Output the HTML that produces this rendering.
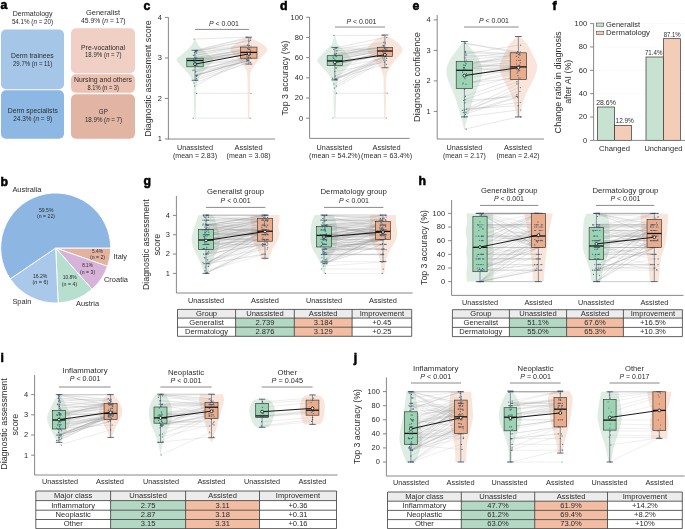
<!DOCTYPE html>
<html><head><meta charset="utf-8"><style>
html,body{margin:0;padding:0;background:#fff;width:685px;height:529px;overflow:hidden}
svg{display:block;will-change:transform}
text{font-family:"Liberation Sans",sans-serif}
</style></head><body>
<svg width="685" height="529" viewBox="0 0 685 529">
<text x="0.50" y="9.20" font-size="12.30" text-anchor="start" fill="#000" font-weight="bold" stroke="#000" stroke-width="0.55">a</text>
<text x="32.60" y="15.80" font-size="6.50" text-anchor="middle" fill="#2b2b2b" textLength="39.80" lengthAdjust="spacingAndGlyphs">Dermatology</text>
<text x="32.50" y="23.50" font-size="6.50" text-anchor="middle" fill="#2b2b2b" textLength="41.20" lengthAdjust="spacingAndGlyphs">54.1% (<tspan font-style="italic">n</tspan> = 20)</text>
<text x="103.00" y="15.30" font-size="6.50" text-anchor="middle" fill="#2b2b2b" textLength="34.00" lengthAdjust="spacingAndGlyphs">Generalist</text>
<text x="103.30" y="23.00" font-size="6.50" text-anchor="middle" fill="#2b2b2b" textLength="44.60" lengthAdjust="spacingAndGlyphs">45.9% (<tspan font-style="italic">n</tspan> = 17)</text>
<rect x="1.00" y="29.60" width="63.00" height="59.60" fill="#a6c6e8" stroke="none" stroke-width="0.00" rx="5.00"/>
<rect x="1.00" y="90.20" width="63.00" height="48.50" fill="#8db8e3" stroke="none" stroke-width="0.00" rx="5.00"/>
<rect x="71.00" y="28.20" width="64.00" height="45.00" fill="#f0d0c4" stroke="none" stroke-width="0.00" rx="5.00"/>
<rect x="71.00" y="74.20" width="64.00" height="18.60" fill="#ebc1b2" stroke="none" stroke-width="0.00" rx="5.00"/>
<rect x="71.00" y="94.20" width="64.00" height="44.50" fill="#e2b4a4" stroke="none" stroke-width="0.00" rx="5.00"/>
<text x="32.30" y="57.60" font-size="6.50" text-anchor="middle" fill="#2b2b2b" textLength="42.60" lengthAdjust="spacingAndGlyphs">Derm trainees</text>
<text x="32.70" y="65.60" font-size="6.50" text-anchor="middle" fill="#2b2b2b" textLength="39.40" lengthAdjust="spacingAndGlyphs">29.7% (<tspan font-style="italic">n</tspan> = 11)</text>
<text x="32.80" y="113.00" font-size="6.50" text-anchor="middle" fill="#2b2b2b" textLength="50.00" lengthAdjust="spacingAndGlyphs">Derm specialists</text>
<text x="32.70" y="120.80" font-size="6.50" text-anchor="middle" fill="#2b2b2b" textLength="38.80" lengthAdjust="spacingAndGlyphs">24.3% (<tspan font-style="italic">n</tspan> = 9)</text>
<text x="103.00" y="49.50" font-size="6.50" text-anchor="middle" fill="#2b2b2b" textLength="44.00" lengthAdjust="spacingAndGlyphs">Pre-vocational</text>
<text x="103.30" y="57.00" font-size="6.50" text-anchor="middle" fill="#2b2b2b" textLength="36.60" lengthAdjust="spacingAndGlyphs">18.9% (<tspan font-style="italic">n</tspan> = 7)</text>
<text x="103.00" y="81.50" font-size="6.50" text-anchor="middle" fill="#2b2b2b" textLength="58.00" lengthAdjust="spacingAndGlyphs">Nursing and others</text>
<text x="103.20" y="89.50" font-size="6.50" text-anchor="middle" fill="#2b2b2b" textLength="31.60" lengthAdjust="spacingAndGlyphs">8.1% (<tspan font-style="italic">n</tspan> = 3)</text>
<text x="103.30" y="113.50" font-size="6.50" text-anchor="middle" fill="#2b2b2b" textLength="9.00" lengthAdjust="spacingAndGlyphs">GP</text>
<text x="103.50" y="121.50" font-size="6.50" text-anchor="middle" fill="#2b2b2b" textLength="37.20" lengthAdjust="spacingAndGlyphs">18.9% (<tspan font-style="italic">n</tspan> = 7)</text>
<text x="0.50" y="185.50" font-size="12.30" text-anchor="start" fill="#000" font-weight="bold" stroke="#000" stroke-width="0.55">b</text>
<path d="M55.70 248.00 L110.70 248.00 A55.00 55.00 0 0 1 107.56 266.31 Z" fill="#e3b3a0" stroke="#fff" stroke-width="0.9" stroke-linejoin="round"/>
<path d="M55.70 248.00 L107.56 266.31 A55.00 55.00 0 0 1 92.07 289.26 Z" fill="#d7b3da" stroke="#fff" stroke-width="0.9" stroke-linejoin="round"/>
<path d="M55.70 248.00 L92.07 289.26 A55.00 55.00 0 0 1 58.12 302.95 Z" fill="#b6dfcf" stroke="#fff" stroke-width="0.9" stroke-linejoin="round"/>
<path d="M55.70 248.00 L58.12 302.95 A55.00 55.00 0 0 1 10.21 278.91 Z" fill="#a9c8ea" stroke="#fff" stroke-width="0.9" stroke-linejoin="round"/>
<path d="M55.70 248.00 L10.21 278.91 A55.00 55.00 0 1 1 110.70 248.00 Z" fill="#8db7e2" stroke="#fff" stroke-width="0.9" stroke-linejoin="round"/>
<text x="26.90" y="191.50" font-size="6.80" text-anchor="middle" fill="#2b2b2b" textLength="29.00" lengthAdjust="spacingAndGlyphs">Australia</text>
<text x="120.30" y="259.00" font-size="6.80" text-anchor="middle" fill="#2b2b2b" textLength="13.40" lengthAdjust="spacingAndGlyphs">Italy</text>
<text x="116.00" y="281.50" font-size="6.80" text-anchor="middle" fill="#2b2b2b" textLength="24.00" lengthAdjust="spacingAndGlyphs">Croatia</text>
<text x="87.50" y="306.00" font-size="6.80" text-anchor="middle" fill="#2b2b2b" textLength="23.00" lengthAdjust="spacingAndGlyphs">Austria</text>
<text x="21.90" y="303.70" font-size="6.80" text-anchor="middle" fill="#2b2b2b" textLength="19.00" lengthAdjust="spacingAndGlyphs">Spain</text>
<text x="46.20" y="212.00" font-size="5.60" text-anchor="middle" fill="#2b2b2b" textLength="14.40" lengthAdjust="spacingAndGlyphs">59.5%</text>
<text x="46.00" y="218.30" font-size="5.60" text-anchor="middle" fill="#2b2b2b" textLength="18.00" lengthAdjust="spacingAndGlyphs">(n = 22)</text>
<text x="97.50" y="252.60" font-size="5.60" text-anchor="middle" fill="#2b2b2b" textLength="11.00" lengthAdjust="spacingAndGlyphs">5.4%</text>
<text x="97.50" y="259.40" font-size="5.60" text-anchor="middle" fill="#2b2b2b" textLength="15.20" lengthAdjust="spacingAndGlyphs">(n = 2)</text>
<text x="87.50" y="267.00" font-size="5.60" text-anchor="middle" fill="#2b2b2b" textLength="10.50" lengthAdjust="spacingAndGlyphs">8.1%</text>
<text x="87.60" y="273.60" font-size="5.60" text-anchor="middle" fill="#2b2b2b" textLength="15.00" lengthAdjust="spacingAndGlyphs">(n = 3)</text>
<text x="69.70" y="279.40" font-size="5.60" text-anchor="middle" fill="#2b2b2b" textLength="14.00" lengthAdjust="spacingAndGlyphs">10.8%</text>
<text x="69.50" y="285.60" font-size="5.60" text-anchor="middle" fill="#2b2b2b" textLength="15.30" lengthAdjust="spacingAndGlyphs">(n = 4)</text>
<text x="40.10" y="278.00" font-size="5.60" text-anchor="middle" fill="#2b2b2b" textLength="14.40" lengthAdjust="spacingAndGlyphs">16.2%</text>
<text x="40.30" y="284.30" font-size="5.60" text-anchor="middle" fill="#2b2b2b" textLength="15.80" lengthAdjust="spacingAndGlyphs">(<tspan font-style="italic">n</tspan> = 6)</text>
<text x="143.50" y="9.50" font-size="12.30" text-anchor="start" fill="#000" font-weight="bold" stroke="#000" stroke-width="0.55">c</text>
<line x1="168.40" y1="17.40" x2="168.40" y2="139.40" stroke="#7a7a7a" stroke-width="0.90"/>
<line x1="164.90" y1="17.41" x2="168.40" y2="17.41" stroke="#7a7a7a" stroke-width="0.90"/>
<text x="161.90" y="19.81" font-size="6.80" text-anchor="end" fill="#2b2b2b" textLength="4.16" lengthAdjust="spacingAndGlyphs">4</text>
<line x1="164.90" y1="57.94" x2="168.40" y2="57.94" stroke="#7a7a7a" stroke-width="0.90"/>
<text x="161.90" y="60.34" font-size="6.80" text-anchor="end" fill="#2b2b2b" textLength="4.16" lengthAdjust="spacingAndGlyphs">3</text>
<line x1="164.90" y1="98.47" x2="168.40" y2="98.47" stroke="#7a7a7a" stroke-width="0.90"/>
<text x="161.90" y="100.87" font-size="6.80" text-anchor="end" fill="#2b2b2b" textLength="4.16" lengthAdjust="spacingAndGlyphs">2</text>
<line x1="164.90" y1="139.00" x2="168.40" y2="139.00" stroke="#7a7a7a" stroke-width="0.90"/>
<text x="161.90" y="141.40" font-size="6.80" text-anchor="end" fill="#2b2b2b" textLength="4.16" lengthAdjust="spacingAndGlyphs">1</text>
<line x1="168.00" y1="139.00" x2="275.00" y2="139.00" stroke="#7a7a7a" stroke-width="0.90"/>
<text x="151.30" y="78.50" font-size="8.40" text-anchor="middle" fill="#2b2b2b" textLength="116.50" lengthAdjust="spacingAndGlyphs" transform="rotate(-90 151.30 78.50)">Diagnostic assessment score</text>
<text x="224.00" y="26.00" font-size="6.50" text-anchor="middle" fill="#2b2b2b" textLength="30.00" lengthAdjust="spacingAndGlyphs"><tspan font-style="italic">P</tspan> &lt; 0.001</text>
<line x1="195.00" y1="29.40" x2="249.00" y2="29.40" stroke="#8a8a8a" stroke-width="1.00"/>
<path d="M195.40 39.00 C195.70 39.67 196.28 41.50 197.20 43.00 C198.12 44.50 198.93 45.98 200.90 48.00 C202.87 50.02 206.90 53.17 209.00 55.10 C211.10 57.03 213.50 57.80 213.50 59.60 C213.50 61.40 210.80 63.80 209.00 65.90 C207.20 68.00 204.35 70.25 202.70 72.20 C201.05 74.15 200.10 75.65 199.10 77.60 C198.10 79.55 197.18 81.37 196.70 83.90 C196.22 86.43 196.32 89.28 196.20 92.80 C196.08 96.32 196.10 100.77 196.00 105.00 C195.90 109.23 195.67 116.00 195.60 118.20 L194.40 118.20 C194.33 116.00 194.10 109.23 194.00 105.00 C193.90 100.77 193.92 96.32 193.80 92.80 C193.68 89.28 193.78 86.43 193.30 83.90 C192.82 81.37 191.90 79.55 190.90 77.60 C189.90 75.65 188.95 74.15 187.30 72.20 C185.65 70.25 182.80 68.00 181.00 65.90 C179.20 63.80 176.50 61.40 176.50 59.60 C176.50 57.80 178.90 57.03 181.00 55.10 C183.10 53.17 187.13 50.02 189.10 48.00 C191.07 45.98 191.88 44.50 192.80 43.00 C193.72 41.50 194.30 39.67 194.60 39.00 Z" fill="#ddede3" fill-opacity="1.00"/>
<path d="M249.40 37.20 C251.17 38.10 257.03 40.65 260.00 42.60 C262.97 44.55 266.60 46.82 267.20 48.90 C267.80 50.98 265.25 53.02 263.60 55.10 C261.95 57.18 259.10 59.30 257.30 61.40 C255.50 63.50 253.93 65.75 252.80 67.70 C251.67 69.65 250.97 70.22 250.50 73.10 C250.03 75.98 250.12 80.52 250.00 85.00 C249.88 89.48 249.90 94.47 249.80 100.00 C249.70 105.53 249.47 115.17 249.40 118.20 L248.20 118.20 C248.13 115.17 247.90 105.53 247.80 100.00 C247.70 94.47 247.72 89.48 247.60 85.00 C247.48 80.52 247.57 75.98 247.10 73.10 C246.63 70.22 245.93 69.65 244.80 67.70 C243.67 65.75 242.10 63.50 240.30 61.40 C238.50 59.30 235.65 57.18 234.00 55.10 C232.35 53.02 229.80 50.98 230.40 48.90 C231.00 46.82 234.63 44.55 237.60 42.60 C240.57 40.65 246.43 38.10 248.20 37.20 Z" fill="#f9e5da" fill-opacity="1.00"/>
<path d="M195.0 61.7L248.8 52.8M195.0 52.7L248.8 45.6M195.0 60.4L248.8 51.7M195.0 70.3L248.8 57.4M195.0 59.3L248.8 48.6M195.0 75.2L248.8 60.4M195.0 75.4L248.8 56.9M195.0 58.7L248.8 52.4M195.0 50.9L248.8 38.1M195.0 59.1L248.8 49.4M195.0 71.8L248.8 61.4M195.0 60.2L248.8 55.0M195.0 70.0L248.8 59.2M195.0 78.7L248.8 60.3M195.0 62.0L248.8 51.1M195.0 60.3L248.8 51.2M195.0 60.5L248.8 51.4M195.0 61.6L248.8 54.6M195.0 50.4L248.8 37.3M195.0 55.3L248.8 45.1M195.0 65.2L248.8 57.3M195.0 65.8L248.8 58.8M195.0 57.7L248.8 49.1M195.0 55.1L248.8 48.0M195.0 51.6L248.8 40.2M195.0 80.3L248.8 62.6M195.0 53.1L248.8 46.0M195.0 50.9L248.8 44.9M195.0 76.4L248.8 58.4M195.0 57.3L248.8 49.7M195.0 75.6L248.8 60.3M195.0 51.4L248.8 41.1M195.0 39.0L248.8 37.2M195.0 93.3L248.8 93.3M195.0 118.2L248.8 118.2M195.0 86.0L248.8 57.0M195.0 83.0L248.8 62.0M195.0 76.0L248.8 60.0M195.0 72.0L248.8 56.0" stroke="#8a8a8a" stroke-opacity="0.60" stroke-width="0.35" fill="none"/>
<line x1="195.00" y1="50.30" x2="195.00" y2="58.20" stroke="#4a5560" stroke-width="0.60"/>
<line x1="195.00" y1="66.80" x2="195.00" y2="80.30" stroke="#4a5560" stroke-width="0.60"/>
<line x1="191.60" y1="50.30" x2="198.40" y2="50.30" stroke="#34495e" stroke-width="0.80"/>
<line x1="191.60" y1="80.30" x2="198.40" y2="80.30" stroke="#34495e" stroke-width="0.80"/>
<rect x="186.80" y="58.20" width="16.40" height="8.60" fill="#9cd3b3" stroke="#333" stroke-width="0.65" rx="0.00"/>
<line x1="186.80" y1="60.50" x2="203.20" y2="60.50" stroke="#111" stroke-width="1.30"/>
<line x1="248.80" y1="37.20" x2="248.80" y2="47.10" stroke="#4a5560" stroke-width="0.60"/>
<line x1="248.80" y1="58.20" x2="248.80" y2="64.10" stroke="#4a5560" stroke-width="0.60"/>
<line x1="245.40" y1="37.20" x2="252.20" y2="37.20" stroke="#34495e" stroke-width="0.80"/>
<line x1="245.40" y1="64.10" x2="252.20" y2="64.10" stroke="#34495e" stroke-width="0.80"/>
<rect x="240.60" y="47.10" width="16.40" height="11.10" fill="#eaac8b" stroke="#333" stroke-width="0.65" rx="0.00"/>
<line x1="240.60" y1="52.40" x2="257.00" y2="52.40" stroke="#111" stroke-width="1.30"/>
<path d="M193.8 61.7h0.01M249.0 52.8h0.01M194.4 52.7h0.01M249.3 45.6h0.01M195.6 60.4h0.01M246.9 51.7h0.01M192.9 70.3h0.01M250.3 57.4h0.01M193.9 59.3h0.01M247.6 48.6h0.01M197.2 75.2h0.01M248.7 60.4h0.01M196.5 75.4h0.01M248.7 56.9h0.01M195.6 58.7h0.01M247.3 52.4h0.01M195.6 50.9h0.01M250.4 38.1h0.01M195.1 59.1h0.01M249.9 49.4h0.01M195.8 71.8h0.01M246.9 61.4h0.01M196.1 60.2h0.01M249.2 55.0h0.01M194.1 70.0h0.01M246.7 59.2h0.01M196.6 78.7h0.01M248.7 60.3h0.01M196.0 62.0h0.01M250.5 51.1h0.01M195.9 60.3h0.01M250.7 51.2h0.01M194.5 60.5h0.01M250.1 51.4h0.01M194.8 61.6h0.01M250.7 54.6h0.01M196.7 50.4h0.01M247.0 37.3h0.01M193.4 55.3h0.01M247.6 45.1h0.01M197.0 65.2h0.01M248.5 57.3h0.01M195.6 65.8h0.01M247.9 58.8h0.01M195.0 57.7h0.01M248.3 49.1h0.01M194.3 55.1h0.01M249.2 48.0h0.01M195.4 51.6h0.01M250.6 40.2h0.01M195.8 80.3h0.01M250.7 62.6h0.01M196.6 53.1h0.01M251.0 46.0h0.01M195.8 50.9h0.01M247.3 44.9h0.01M196.6 76.4h0.01M250.8 58.4h0.01M196.8 57.3h0.01M249.1 49.7h0.01M195.9 75.6h0.01M247.5 60.3h0.01M196.5 51.4h0.01M249.1 41.1h0.01M194.1 39.0h0.01M246.9 37.2h0.01M196.6 93.3h0.01M251.0 93.3h0.01M193.2 118.2h0.01M250.1 118.2h0.01M194.6 86.0h0.01M247.3 57.0h0.01M194.1 83.0h0.01M250.0 62.0h0.01M196.6 76.0h0.01M246.8 60.0h0.01M195.5 72.0h0.01M246.8 56.0h0.01" stroke="#2c4a68" stroke-opacity="0.8" stroke-width="1.2" stroke-linecap="round" fill="none"/>
<line x1="195.00" y1="64.10" x2="248.80" y2="53.90" stroke="#000" stroke-width="0.90"/>
<circle cx="195.00" cy="64.10" r="1.4" fill="#fff" stroke="#000" stroke-width="0.8"/>
<circle cx="248.80" cy="53.90" r="1.4" fill="#fff" stroke="#000" stroke-width="0.8"/>
<text x="195.00" y="149.50" font-size="6.50" text-anchor="middle" fill="#2b2b2b" textLength="36.00" lengthAdjust="spacingAndGlyphs">Unassisted</text>
<text x="195.00" y="158.00" font-size="6.50" text-anchor="middle" fill="#2b2b2b" textLength="44.00" lengthAdjust="spacingAndGlyphs">(mean = 2.83)</text>
<text x="248.60" y="149.50" font-size="6.50" text-anchor="middle" fill="#2b2b2b" textLength="28.00" lengthAdjust="spacingAndGlyphs">Assisted</text>
<text x="248.60" y="158.00" font-size="6.50" text-anchor="middle" fill="#2b2b2b" textLength="44.00" lengthAdjust="spacingAndGlyphs">(mean = 3.08)</text>
<text x="280.00" y="9.50" font-size="12.30" text-anchor="start" fill="#000" font-weight="bold" stroke="#000" stroke-width="0.55">d</text>
<line x1="309.60" y1="17.00" x2="309.60" y2="138.40" stroke="#7a7a7a" stroke-width="0.90"/>
<line x1="306.10" y1="17.25" x2="309.60" y2="17.25" stroke="#7a7a7a" stroke-width="0.90"/>
<text x="303.10" y="19.65" font-size="6.80" text-anchor="end" fill="#2b2b2b" textLength="12.48" lengthAdjust="spacingAndGlyphs">100</text>
<line x1="306.10" y1="37.44" x2="309.60" y2="37.44" stroke="#7a7a7a" stroke-width="0.90"/>
<text x="303.10" y="39.84" font-size="6.80" text-anchor="end" fill="#2b2b2b" textLength="8.32" lengthAdjust="spacingAndGlyphs">80</text>
<line x1="306.10" y1="57.63" x2="309.60" y2="57.63" stroke="#7a7a7a" stroke-width="0.90"/>
<text x="303.10" y="60.03" font-size="6.80" text-anchor="end" fill="#2b2b2b" textLength="8.32" lengthAdjust="spacingAndGlyphs">60</text>
<line x1="306.10" y1="77.82" x2="309.60" y2="77.82" stroke="#7a7a7a" stroke-width="0.90"/>
<text x="303.10" y="80.22" font-size="6.80" text-anchor="end" fill="#2b2b2b" textLength="8.32" lengthAdjust="spacingAndGlyphs">40</text>
<line x1="306.10" y1="98.01" x2="309.60" y2="98.01" stroke="#7a7a7a" stroke-width="0.90"/>
<text x="303.10" y="100.41" font-size="6.80" text-anchor="end" fill="#2b2b2b" textLength="8.32" lengthAdjust="spacingAndGlyphs">20</text>
<line x1="306.10" y1="118.20" x2="309.60" y2="118.20" stroke="#7a7a7a" stroke-width="0.90"/>
<text x="303.10" y="120.60" font-size="6.80" text-anchor="end" fill="#2b2b2b" textLength="4.16" lengthAdjust="spacingAndGlyphs">0</text>
<line x1="309.60" y1="138.40" x2="409.60" y2="138.40" stroke="#7a7a7a" stroke-width="0.90"/>
<text x="288.00" y="78.10" font-size="8.40" text-anchor="middle" fill="#2b2b2b" textLength="75.00" lengthAdjust="spacingAndGlyphs" transform="rotate(-90 288.00 78.10)">Top 3 accuracy (%)</text>
<text x="361.40" y="24.00" font-size="6.50" text-anchor="middle" fill="#2b2b2b" textLength="30.00" lengthAdjust="spacingAndGlyphs"><tspan font-style="italic">P</tspan> &lt; 0.001</text>
<line x1="335.00" y1="27.00" x2="385.00" y2="27.00" stroke="#8a8a8a" stroke-width="1.00"/>
<path d="M335.20 35.40 C335.38 36.17 335.82 38.50 336.30 40.00 C336.78 41.50 336.62 42.48 338.10 44.40 C339.58 46.32 342.97 49.12 345.20 51.50 C347.43 53.88 350.35 57.05 351.50 58.70 C352.65 60.35 352.85 59.90 352.10 61.40 C351.35 62.90 348.90 65.45 347.00 67.70 C345.10 69.95 342.40 72.20 340.70 74.90 C339.00 77.60 337.57 80.02 336.80 83.90 C336.03 87.78 336.27 94.18 336.10 98.20 C335.93 102.22 335.92 104.70 335.80 108.00 C335.68 111.30 335.47 116.33 335.40 118.00 L334.20 118.00 C334.13 116.33 333.92 111.30 333.80 108.00 C333.68 104.70 333.67 102.22 333.50 98.20 C333.33 94.18 333.57 87.78 332.80 83.90 C332.03 80.02 330.60 77.60 328.90 74.90 C327.20 72.20 324.50 69.95 322.60 67.70 C320.70 65.45 318.25 62.90 317.50 61.40 C316.75 59.90 316.95 60.35 318.10 58.70 C319.25 57.05 322.17 53.88 324.40 51.50 C326.63 49.12 330.02 46.32 331.50 44.40 C332.98 42.48 332.82 41.50 333.30 40.00 C333.78 38.50 334.22 36.17 334.40 35.40 Z" fill="#ddede3" fill-opacity="1.00"/>
<path d="M385.90 35.40 C387.47 36.30 392.53 38.55 395.30 40.80 C398.07 43.05 402.05 46.22 402.50 48.90 C402.95 51.58 399.95 54.07 398.00 56.90 C396.05 59.73 392.67 62.90 390.80 65.90 C388.93 68.90 387.57 71.90 386.80 74.90 C386.03 77.90 386.35 79.72 386.20 83.90 C386.05 88.08 386.02 94.32 385.90 100.00 C385.78 105.68 385.57 115.00 385.50 118.00 L384.30 118.00 C384.23 115.00 384.02 105.68 383.90 100.00 C383.78 94.32 383.75 88.08 383.60 83.90 C383.45 79.72 383.77 77.90 383.00 74.90 C382.23 71.90 380.87 68.90 379.00 65.90 C377.13 62.90 373.75 59.73 371.80 56.90 C369.85 54.07 366.85 51.58 367.30 48.90 C367.75 46.22 371.73 43.05 374.50 40.80 C377.27 38.55 382.33 36.30 383.90 35.40 Z" fill="#f9e5da" fill-opacity="1.00"/>
<path d="M334.8 58.3L384.9 48.7M334.8 54.2L384.9 43.0M334.8 55.9L384.9 45.2M334.8 78.2L384.9 60.5M334.8 49.3L384.9 42.2M334.8 50.7L384.9 48.6M334.8 61.5L384.9 53.1M334.8 60.0L384.9 50.2M334.8 79.1L384.9 64.3M334.8 65.0L384.9 51.6M334.8 55.2L384.9 49.8M334.8 54.1L384.9 49.6M334.8 58.5L384.9 51.6M334.8 79.8L384.9 56.1M334.8 67.8L384.9 58.2M334.8 48.0L384.9 37.5M334.8 64.8L384.9 51.2M334.8 60.1L384.9 49.8M334.8 68.1L384.9 52.6M334.8 56.9L384.9 46.2M334.8 50.9L384.9 47.9M334.8 63.5L384.9 55.3M334.8 71.5L384.9 62.2M334.8 64.6L384.9 53.3M334.8 79.7L384.9 58.4M334.8 63.9L384.9 54.7M334.8 53.4L384.9 47.9M334.8 64.3L384.9 53.9M334.8 56.6L384.9 50.9M334.8 48.2L384.9 48.3M334.8 55.7L384.9 46.0M334.8 78.9L384.9 56.4M334.8 35.4L384.9 35.4M334.8 93.2L384.9 93.2M334.8 118.0L384.9 118.0M334.8 88.0L384.9 60.0M334.8 84.0L384.9 56.0M334.8 86.0L384.9 58.0M334.8 76.0L384.9 56.0" stroke="#8a8a8a" stroke-opacity="0.60" stroke-width="0.35" fill="none"/>
<line x1="334.80" y1="47.40" x2="334.80" y2="55.70" stroke="#4a5560" stroke-width="0.60"/>
<line x1="334.80" y1="65.50" x2="334.80" y2="79.90" stroke="#4a5560" stroke-width="0.60"/>
<line x1="331.40" y1="47.40" x2="338.20" y2="47.40" stroke="#34495e" stroke-width="0.80"/>
<line x1="331.40" y1="79.90" x2="338.20" y2="79.90" stroke="#34495e" stroke-width="0.80"/>
<rect x="327.20" y="55.70" width="15.20" height="9.80" fill="#9cd3b3" stroke="#333" stroke-width="0.65" rx="0.00"/>
<line x1="327.20" y1="60.90" x2="342.40" y2="60.90" stroke="#111" stroke-width="1.30"/>
<line x1="384.90" y1="35.00" x2="384.90" y2="47.40" stroke="#4a5560" stroke-width="0.60"/>
<line x1="384.90" y1="56.40" x2="384.90" y2="67.70" stroke="#4a5560" stroke-width="0.60"/>
<line x1="381.50" y1="35.00" x2="388.30" y2="35.00" stroke="#34495e" stroke-width="0.80"/>
<line x1="381.50" y1="67.70" x2="388.30" y2="67.70" stroke="#34495e" stroke-width="0.80"/>
<rect x="377.30" y="47.40" width="15.20" height="9.00" fill="#eaac8b" stroke="#333" stroke-width="0.65" rx="0.00"/>
<line x1="377.30" y1="51.00" x2="392.50" y2="51.00" stroke="#111" stroke-width="1.30"/>
<path d="M333.6 58.3h0.01M385.1 48.7h0.01M334.2 54.2h0.01M385.4 43.0h0.01M335.4 55.9h0.01M383.0 45.2h0.01M332.7 78.2h0.01M386.4 60.5h0.01M333.7 49.3h0.01M383.7 42.2h0.01M337.0 50.7h0.01M384.8 48.6h0.01M336.3 61.5h0.01M384.8 53.1h0.01M335.4 60.0h0.01M383.4 50.2h0.01M335.4 79.1h0.01M386.5 64.3h0.01M334.9 65.0h0.01M386.0 51.6h0.01M335.6 55.2h0.01M383.0 49.8h0.01M335.9 54.1h0.01M385.3 49.6h0.01M333.9 58.5h0.01M382.8 51.6h0.01M336.4 79.8h0.01M384.8 56.1h0.01M335.8 67.8h0.01M386.6 58.2h0.01M335.7 48.0h0.01M386.8 37.5h0.01M334.3 64.8h0.01M386.2 51.2h0.01M334.6 60.1h0.01M386.8 49.8h0.01M336.5 68.1h0.01M383.1 52.6h0.01M333.2 56.9h0.01M383.7 46.2h0.01M336.8 50.9h0.01M384.6 47.9h0.01M335.4 63.5h0.01M384.0 55.3h0.01M334.8 71.5h0.01M384.4 62.2h0.01M334.1 64.6h0.01M385.3 53.3h0.01M335.2 79.7h0.01M386.7 58.4h0.01M335.6 63.9h0.01M386.8 54.7h0.01M336.4 53.4h0.01M387.1 47.9h0.01M335.6 64.3h0.01M383.4 53.9h0.01M336.4 56.6h0.01M386.9 50.9h0.01M336.6 48.2h0.01M385.2 48.3h0.01M335.7 55.7h0.01M383.6 46.0h0.01M336.3 78.9h0.01M385.2 56.4h0.01M333.9 35.4h0.01M383.0 35.4h0.01M336.4 93.2h0.01M387.1 93.2h0.01M333.0 118.0h0.01M386.2 118.0h0.01M334.4 88.0h0.01M383.4 60.0h0.01M333.9 84.0h0.01M386.1 56.0h0.01M336.4 86.0h0.01M382.9 58.0h0.01M335.3 76.0h0.01M382.9 56.0h0.01" stroke="#2c4a68" stroke-opacity="0.8" stroke-width="1.2" stroke-linecap="round" fill="none"/>
<line x1="334.80" y1="62.30" x2="384.90" y2="54.80" stroke="#000" stroke-width="0.90"/>
<circle cx="334.80" cy="62.30" r="1.4" fill="#fff" stroke="#000" stroke-width="0.8"/>
<circle cx="384.90" cy="54.80" r="1.4" fill="#fff" stroke="#000" stroke-width="0.8"/>
<text x="334.60" y="149.50" font-size="6.50" text-anchor="middle" fill="#2b2b2b" textLength="36.00" lengthAdjust="spacingAndGlyphs">Unassisted</text>
<text x="334.60" y="158.00" font-size="6.50" text-anchor="middle" fill="#2b2b2b" textLength="51.00" lengthAdjust="spacingAndGlyphs">(mean = 54.2%)</text>
<text x="386.60" y="149.50" font-size="6.50" text-anchor="middle" fill="#2b2b2b" textLength="28.00" lengthAdjust="spacingAndGlyphs">Assisted</text>
<text x="386.60" y="158.00" font-size="6.50" text-anchor="middle" fill="#2b2b2b" textLength="51.00" lengthAdjust="spacingAndGlyphs">(mean = 63.4%)</text>
<text x="412.50" y="9.50" font-size="12.30" text-anchor="start" fill="#000" font-weight="bold" stroke="#000" stroke-width="0.55">e</text>
<line x1="437.20" y1="15.00" x2="437.20" y2="139.00" stroke="#7a7a7a" stroke-width="0.90"/>
<line x1="433.70" y1="19.90" x2="437.20" y2="19.90" stroke="#7a7a7a" stroke-width="0.90"/>
<text x="430.70" y="22.30" font-size="6.80" text-anchor="end" fill="#2b2b2b" textLength="4.16" lengthAdjust="spacingAndGlyphs">4</text>
<line x1="433.70" y1="50.40" x2="437.20" y2="50.40" stroke="#7a7a7a" stroke-width="0.90"/>
<text x="430.70" y="52.80" font-size="6.80" text-anchor="end" fill="#2b2b2b" textLength="4.16" lengthAdjust="spacingAndGlyphs">3</text>
<line x1="433.70" y1="80.90" x2="437.20" y2="80.90" stroke="#7a7a7a" stroke-width="0.90"/>
<text x="430.70" y="83.30" font-size="6.80" text-anchor="end" fill="#2b2b2b" textLength="4.16" lengthAdjust="spacingAndGlyphs">2</text>
<line x1="433.70" y1="111.40" x2="437.20" y2="111.40" stroke="#7a7a7a" stroke-width="0.90"/>
<text x="430.70" y="113.80" font-size="6.80" text-anchor="end" fill="#2b2b2b" textLength="4.16" lengthAdjust="spacingAndGlyphs">1</text>
<line x1="437.00" y1="139.00" x2="544.00" y2="139.00" stroke="#7a7a7a" stroke-width="0.90"/>
<text x="419.90" y="77.00" font-size="8.40" text-anchor="middle" fill="#2b2b2b" textLength="90.00" lengthAdjust="spacingAndGlyphs" transform="rotate(-90 419.90 77.00)">Diagnostic confidence</text>
<text x="494.00" y="23.00" font-size="6.50" text-anchor="middle" fill="#2b2b2b" textLength="30.00" lengthAdjust="spacingAndGlyphs"><tspan font-style="italic">P</tspan> &lt; 0.001</text>
<line x1="464.00" y1="27.00" x2="518.60" y2="27.00" stroke="#8a8a8a" stroke-width="1.00"/>
<path d="M464.90 40.90 C465.32 41.42 466.23 42.52 467.40 44.00 C468.57 45.48 469.98 47.17 471.90 49.80 C473.82 52.43 477.17 56.48 478.90 59.80 C480.63 63.12 481.97 66.40 482.30 69.70 C482.63 73.00 481.80 76.30 480.90 79.60 C480.00 82.90 478.23 86.20 476.90 89.50 C475.57 92.80 474.05 96.08 472.90 99.40 C471.75 102.72 470.98 106.08 470.00 109.40 C469.02 112.72 467.87 116.00 467.00 119.30 C466.13 122.60 465.17 127.55 464.80 129.20 L464.00 129.20 C463.63 127.55 462.67 122.60 461.80 119.30 C460.93 116.00 459.78 112.72 458.80 109.40 C457.82 106.08 457.05 102.72 455.90 99.40 C454.75 96.08 453.23 92.80 451.90 89.50 C450.57 86.20 448.80 82.90 447.90 79.60 C447.00 76.30 446.17 73.00 446.50 69.70 C446.83 66.40 448.17 63.12 449.90 59.80 C451.63 56.48 454.98 52.43 456.90 49.80 C458.82 47.17 460.23 45.48 461.40 44.00 C462.57 42.52 463.48 41.42 463.90 40.90 Z" fill="#ddede3" fill-opacity="1.00"/>
<path d="M519.20 36.50 C519.90 37.08 521.88 38.43 523.40 40.00 C524.92 41.57 526.65 43.27 528.30 45.90 C529.95 48.53 531.82 52.50 533.30 55.80 C534.78 59.10 536.88 62.40 537.20 65.70 C537.52 69.00 536.35 72.28 535.20 75.60 C534.05 78.92 531.95 82.28 530.30 85.60 C528.65 88.92 526.63 92.20 525.30 95.50 C523.97 98.80 523.05 102.65 522.30 105.40 C521.55 108.15 521.32 110.02 520.80 112.00 C520.28 113.98 519.47 116.42 519.20 117.30 L517.60 117.30 C517.33 116.42 516.52 113.98 516.00 112.00 C515.48 110.02 515.25 108.15 514.50 105.40 C513.75 102.65 512.83 98.80 511.50 95.50 C510.17 92.20 508.15 88.92 506.50 85.60 C504.85 82.28 502.75 78.92 501.60 75.60 C500.45 72.28 499.28 69.00 499.60 65.70 C499.92 62.40 502.02 59.10 503.50 55.80 C504.98 52.50 506.85 48.53 508.50 45.90 C510.15 43.27 511.88 41.57 513.40 40.00 C514.92 38.43 516.90 37.08 517.60 36.50 Z" fill="#f9e5da" fill-opacity="1.00"/>
<path d="M464.4 83.1L518.4 78.0M464.4 64.9L518.4 66.5M464.4 69.0L518.4 67.2M464.4 110.3L518.4 91.5M464.4 112.6L518.4 96.5M464.4 109.0L518.4 105.7M464.4 75.8L518.4 65.5M464.4 102.8L518.4 94.7M464.4 65.7L518.4 55.2M464.4 67.5L518.4 65.1M464.4 43.4L518.4 53.1M464.4 52.7L518.4 54.7M464.4 100.5L518.4 96.4M464.4 84.2L518.4 70.2M464.4 96.4L518.4 78.0M464.4 65.3L518.4 62.8M464.4 68.6L518.4 70.6M464.4 110.1L518.4 102.5M464.4 63.8L518.4 60.3M464.4 83.8L518.4 72.9M464.4 73.7L518.4 71.2M464.4 57.8L518.4 51.5M464.4 89.2L518.4 75.7M464.4 69.4L518.4 60.5M464.4 62.0L518.4 60.2M464.4 43.1L518.4 51.8M464.4 76.3L518.4 66.7M464.4 99.6L518.4 81.7M464.4 112.4L518.4 87.6M464.4 60.1L518.4 54.7M464.4 51.4L518.4 53.6M464.4 63.3L518.4 57.3M464.4 67.4L518.4 64.1M464.4 54.2L518.4 45.2M464.4 72.2L518.4 65.7M464.4 110.0L518.4 83.9M464.4 65.0L518.4 53.7M464.4 55.6L518.4 56.3M464.4 78.6L518.4 69.1M464.4 114.3L518.4 97.2M464.4 129.2L518.4 116.9M464.4 116.9L518.4 110.0" stroke="#8a8a8a" stroke-opacity="0.60" stroke-width="0.35" fill="none"/>
<line x1="464.40" y1="41.50" x2="464.40" y2="61.30" stroke="#4a5560" stroke-width="0.60"/>
<line x1="464.40" y1="88.50" x2="464.40" y2="116.90" stroke="#4a5560" stroke-width="0.60"/>
<line x1="461.00" y1="41.50" x2="467.80" y2="41.50" stroke="#34495e" stroke-width="0.80"/>
<line x1="461.00" y1="116.90" x2="467.80" y2="116.90" stroke="#34495e" stroke-width="0.80"/>
<rect x="456.20" y="61.30" width="16.40" height="27.20" fill="#9cd3b3" stroke="#333" stroke-width="0.65" rx="0.00"/>
<line x1="456.20" y1="70.30" x2="472.60" y2="70.30" stroke="#111" stroke-width="1.30"/>
<line x1="518.40" y1="36.50" x2="518.40" y2="52.80" stroke="#4a5560" stroke-width="0.60"/>
<line x1="518.40" y1="79.60" x2="518.40" y2="116.90" stroke="#4a5560" stroke-width="0.60"/>
<line x1="515.00" y1="36.50" x2="521.80" y2="36.50" stroke="#34495e" stroke-width="0.80"/>
<line x1="515.00" y1="116.90" x2="521.80" y2="116.90" stroke="#34495e" stroke-width="0.80"/>
<rect x="510.20" y="52.80" width="16.40" height="26.80" fill="#eaac8b" stroke="#333" stroke-width="0.65" rx="0.00"/>
<line x1="510.20" y1="66.90" x2="526.60" y2="66.90" stroke="#111" stroke-width="1.30"/>
<path d="M463.2 83.1h0.01M518.6 78.0h0.01M463.8 64.9h0.01M518.9 66.5h0.01M465.0 69.0h0.01M516.5 67.2h0.01M462.3 110.3h0.01M519.9 91.5h0.01M463.3 112.6h0.01M517.2 96.5h0.01M466.6 109.0h0.01M518.3 105.7h0.01M465.9 75.8h0.01M518.3 65.5h0.01M465.0 102.8h0.01M516.9 94.7h0.01M465.0 65.7h0.01M520.0 55.2h0.01M464.5 67.5h0.01M519.5 65.1h0.01M465.2 43.4h0.01M516.5 53.1h0.01M465.5 52.7h0.01M518.8 54.7h0.01M463.5 100.5h0.01M516.3 96.4h0.01M466.0 84.2h0.01M518.3 70.2h0.01M465.4 96.4h0.01M520.1 78.0h0.01M465.3 65.3h0.01M520.3 62.8h0.01M463.9 68.6h0.01M519.7 70.6h0.01M464.2 110.1h0.01M520.3 102.5h0.01M466.1 63.8h0.01M516.6 60.3h0.01M462.8 83.8h0.01M517.2 72.9h0.01M466.4 73.7h0.01M518.1 71.2h0.01M465.0 57.8h0.01M517.5 51.5h0.01M464.4 89.2h0.01M517.9 75.7h0.01M463.7 69.4h0.01M518.8 60.5h0.01M464.8 62.0h0.01M520.2 60.2h0.01M465.2 43.1h0.01M520.3 51.8h0.01M466.0 76.3h0.01M520.6 66.7h0.01M465.2 99.6h0.01M516.9 81.7h0.01M466.0 112.4h0.01M520.4 87.6h0.01M466.2 60.1h0.01M518.7 54.7h0.01M465.3 51.4h0.01M517.1 53.6h0.01M465.9 63.3h0.01M518.7 57.3h0.01M463.5 67.4h0.01M516.5 64.1h0.01M466.0 54.2h0.01M520.6 45.2h0.01M462.6 72.2h0.01M519.7 65.7h0.01M464.0 110.0h0.01M516.9 83.9h0.01M463.5 65.0h0.01M519.6 53.7h0.01M466.0 55.6h0.01M516.4 56.3h0.01M464.9 78.6h0.01M516.4 69.1h0.01M465.4 114.3h0.01M517.7 97.2h0.01M466.1 129.2h0.01M520.5 116.9h0.01M464.4 116.9h0.01M520.6 110.0h0.01" stroke="#2c4a68" stroke-opacity="0.8" stroke-width="1.2" stroke-linecap="round" fill="none"/>
<line x1="464.40" y1="75.60" x2="518.40" y2="67.70" stroke="#000" stroke-width="0.90"/>
<circle cx="464.40" cy="75.60" r="1.4" fill="#fff" stroke="#000" stroke-width="0.8"/>
<circle cx="518.40" cy="67.70" r="1.4" fill="#fff" stroke="#000" stroke-width="0.8"/>
<text x="464.40" y="149.50" font-size="6.50" text-anchor="middle" fill="#2b2b2b" textLength="36.00" lengthAdjust="spacingAndGlyphs">Unassisted</text>
<text x="464.40" y="158.00" font-size="6.50" text-anchor="middle" fill="#2b2b2b" textLength="43.00" lengthAdjust="spacingAndGlyphs">(mean = 2.17)</text>
<text x="518.00" y="149.50" font-size="6.50" text-anchor="middle" fill="#2b2b2b" textLength="28.00" lengthAdjust="spacingAndGlyphs">Assisted</text>
<text x="518.00" y="158.00" font-size="6.50" text-anchor="middle" fill="#2b2b2b" textLength="43.00" lengthAdjust="spacingAndGlyphs">(mean = 2.42)</text>
<text x="552.50" y="9.50" font-size="12.30" text-anchor="start" fill="#000" font-weight="bold" stroke="#000" stroke-width="0.55">f</text>
<line x1="593.60" y1="117.04" x2="685.00" y2="117.04" stroke="#ececec" stroke-width="0.50" stroke-dasharray="1.5 1"/>
<line x1="593.60" y1="93.68" x2="685.00" y2="93.68" stroke="#ececec" stroke-width="0.50" stroke-dasharray="1.5 1"/>
<line x1="593.60" y1="70.32" x2="685.00" y2="70.32" stroke="#ececec" stroke-width="0.50" stroke-dasharray="1.5 1"/>
<line x1="593.60" y1="46.96" x2="685.00" y2="46.96" stroke="#ececec" stroke-width="0.50" stroke-dasharray="1.5 1"/>
<line x1="593.60" y1="23.60" x2="685.00" y2="23.60" stroke="#ececec" stroke-width="0.50" stroke-dasharray="1.5 1"/>
<line x1="593.60" y1="23.60" x2="593.60" y2="140.40" stroke="#7a7a7a" stroke-width="0.90"/>
<line x1="590.10" y1="23.60" x2="593.60" y2="23.60" stroke="#7a7a7a" stroke-width="0.90"/>
<text x="587.10" y="26.00" font-size="6.80" text-anchor="end" fill="#2b2b2b" textLength="12.48" lengthAdjust="spacingAndGlyphs">100</text>
<line x1="590.10" y1="46.96" x2="593.60" y2="46.96" stroke="#7a7a7a" stroke-width="0.90"/>
<text x="587.10" y="49.36" font-size="6.80" text-anchor="end" fill="#2b2b2b" textLength="8.32" lengthAdjust="spacingAndGlyphs">80</text>
<line x1="590.10" y1="70.32" x2="593.60" y2="70.32" stroke="#7a7a7a" stroke-width="0.90"/>
<text x="587.10" y="72.72" font-size="6.80" text-anchor="end" fill="#2b2b2b" textLength="8.32" lengthAdjust="spacingAndGlyphs">60</text>
<line x1="590.10" y1="93.68" x2="593.60" y2="93.68" stroke="#7a7a7a" stroke-width="0.90"/>
<text x="587.10" y="96.08" font-size="6.80" text-anchor="end" fill="#2b2b2b" textLength="8.32" lengthAdjust="spacingAndGlyphs">40</text>
<line x1="590.10" y1="117.04" x2="593.60" y2="117.04" stroke="#7a7a7a" stroke-width="0.90"/>
<text x="587.10" y="119.44" font-size="6.80" text-anchor="end" fill="#2b2b2b" textLength="8.32" lengthAdjust="spacingAndGlyphs">20</text>
<line x1="590.10" y1="140.40" x2="593.60" y2="140.40" stroke="#7a7a7a" stroke-width="0.90"/>
<text x="587.10" y="142.80" font-size="6.80" text-anchor="end" fill="#2b2b2b" textLength="4.16" lengthAdjust="spacingAndGlyphs">0</text>
<rect x="597.40" y="107.00" width="17.20" height="33.40" fill="#c8e2d2" stroke="#333" stroke-width="0.70" rx="0.00"/>
<rect x="614.60" y="125.33" width="16.80" height="15.07" fill="#f4cdb9" stroke="#333" stroke-width="0.70" rx="0.00"/>
<rect x="646.00" y="57.00" width="17.40" height="83.40" fill="#c8e2d2" stroke="#333" stroke-width="0.70" rx="0.00"/>
<rect x="663.40" y="38.67" width="17.00" height="101.73" fill="#f4cdb9" stroke="#333" stroke-width="0.70" rx="0.00"/>
<line x1="593.60" y1="140.40" x2="685.00" y2="140.40" stroke="#7a7a7a" stroke-width="0.90"/>
<text x="606.00" y="104.90" font-size="6.50" text-anchor="middle" fill="#2b2b2b" textLength="19.70" lengthAdjust="spacingAndGlyphs">28.6%</text>
<text x="624.70" y="123.10" font-size="6.50" text-anchor="middle" fill="#2b2b2b" textLength="18.30" lengthAdjust="spacingAndGlyphs">12.9%</text>
<text x="653.70" y="54.70" font-size="6.50" text-anchor="middle" fill="#2b2b2b" textLength="17.50" lengthAdjust="spacingAndGlyphs">71.4%</text>
<text x="672.20" y="36.60" font-size="6.50" text-anchor="middle" fill="#2b2b2b" textLength="17.00" lengthAdjust="spacingAndGlyphs">87.1%</text>
<rect x="596.40" y="23.00" width="7.40" height="3.20" fill="#c8e2d2" stroke="#333" stroke-width="0.50" rx="0.00"/>
<rect x="596.40" y="31.20" width="7.40" height="3.20" fill="#f4cdb9" stroke="#333" stroke-width="0.50" rx="0.00"/>
<text x="606.00" y="27.00" font-size="6.50" text-anchor="start" fill="#2b2b2b" textLength="34.00" lengthAdjust="spacingAndGlyphs">Generalist</text>
<text x="606.00" y="35.20" font-size="6.50" text-anchor="start" fill="#2b2b2b" textLength="44.00" lengthAdjust="spacingAndGlyphs">Dermatology</text>
<text x="614.60" y="151.00" font-size="6.50" text-anchor="middle" fill="#2b2b2b" textLength="31.00" lengthAdjust="spacingAndGlyphs">Changed</text>
<text x="663.40" y="151.00" font-size="6.50" text-anchor="middle" fill="#2b2b2b" textLength="38.00" lengthAdjust="spacingAndGlyphs">Unchanged</text>
<text x="561.50" y="82.40" font-size="8.40" text-anchor="middle" fill="#2b2b2b" textLength="102.00" lengthAdjust="spacingAndGlyphs" transform="rotate(-90 561.50 82.40)">Change ratio in diagnosis</text>
<text x="571.20" y="81.80" font-size="8.40" text-anchor="middle" fill="#2b2b2b" textLength="44.00" lengthAdjust="spacingAndGlyphs" transform="rotate(-90 571.20 81.80)">after AI (%)</text>
<text x="143.50" y="185.20" font-size="12.30" text-anchor="start" fill="#000" font-weight="bold" stroke="#000" stroke-width="0.55">g</text>
<line x1="176.40" y1="196.00" x2="176.40" y2="293.00" stroke="#7a7a7a" stroke-width="0.90"/>
<line x1="172.90" y1="215.41" x2="176.40" y2="215.41" stroke="#7a7a7a" stroke-width="0.90"/>
<text x="169.90" y="217.81" font-size="6.80" text-anchor="end" fill="#2b2b2b" textLength="4.16" lengthAdjust="spacingAndGlyphs">4</text>
<line x1="172.90" y1="234.74" x2="176.40" y2="234.74" stroke="#7a7a7a" stroke-width="0.90"/>
<text x="169.90" y="237.14" font-size="6.80" text-anchor="end" fill="#2b2b2b" textLength="4.16" lengthAdjust="spacingAndGlyphs">3</text>
<line x1="172.90" y1="254.07" x2="176.40" y2="254.07" stroke="#7a7a7a" stroke-width="0.90"/>
<text x="169.90" y="256.47" font-size="6.80" text-anchor="end" fill="#2b2b2b" textLength="4.16" lengthAdjust="spacingAndGlyphs">2</text>
<line x1="172.90" y1="273.40" x2="176.40" y2="273.40" stroke="#7a7a7a" stroke-width="0.90"/>
<text x="169.90" y="275.80" font-size="6.80" text-anchor="end" fill="#2b2b2b" textLength="4.16" lengthAdjust="spacingAndGlyphs">1</text>
<line x1="176.40" y1="293.00" x2="412.50" y2="293.00" stroke="#7a7a7a" stroke-width="0.90"/>
<text x="149.40" y="244.70" font-size="8.40" text-anchor="middle" fill="#2b2b2b" textLength="90.60" lengthAdjust="spacingAndGlyphs" transform="rotate(-90 149.40 244.70)">Diagnostic assessment</text>
<text x="159.60" y="244.70" font-size="8.40" text-anchor="middle" fill="#2b2b2b" textLength="21.80" lengthAdjust="spacingAndGlyphs" transform="rotate(-90 159.60 244.70)">score</text>
<text x="235.60" y="194.40" font-size="6.90" text-anchor="middle" fill="#2b2b2b" textLength="57.00" lengthAdjust="spacingAndGlyphs">Generalist group</text>
<text x="235.60" y="203.20" font-size="6.50" text-anchor="middle" fill="#2b2b2b" textLength="30.00" lengthAdjust="spacingAndGlyphs"><tspan font-style="italic">P</tspan> &lt; 0.001</text>
<line x1="206.00" y1="207.40" x2="265.40" y2="207.40" stroke="#8a8a8a" stroke-width="1.00"/>
<path d="M213.00 215.00 C213.17 215.33 213.25 215.02 214.00 217.00 C214.75 218.98 216.43 223.30 217.50 226.90 C218.57 230.50 220.28 234.95 220.40 238.60 C220.52 242.25 219.28 245.63 218.20 248.80 C217.12 251.97 215.23 254.68 213.90 257.60 C212.57 260.52 211.27 263.63 210.20 266.30 C209.13 268.97 207.95 272.38 207.50 273.60 L204.50 273.60 C204.05 272.38 202.87 268.97 201.80 266.30 C200.73 263.63 199.43 260.52 198.10 257.60 C196.77 254.68 194.88 251.97 193.80 248.80 C192.72 245.63 191.48 242.25 191.60 238.60 C191.72 234.95 193.43 230.50 194.50 226.90 C195.57 223.30 197.25 218.98 198.00 217.00 C198.75 215.02 198.83 215.33 199.00 215.00 Z" fill="#ddede3" fill-opacity="1.00"/>
<path d="M279.30 215.00 C279.35 215.83 279.75 218.02 279.60 220.00 C279.45 221.98 278.40 224.53 278.40 226.90 C278.40 229.27 279.83 231.77 279.60 234.20 C279.37 236.63 278.17 239.07 277.00 241.50 C275.83 243.93 273.70 246.62 272.60 248.80 C271.50 250.98 271.08 253.02 270.40 254.60 C269.72 256.18 269.23 257.40 268.50 258.30 C267.77 259.20 266.42 259.72 266.00 260.00 L264.00 260.00 C263.58 259.72 262.23 259.20 261.50 258.30 C260.77 257.40 260.28 256.18 259.60 254.60 C258.92 253.02 258.50 250.98 257.40 248.80 C256.30 246.62 254.17 243.93 253.00 241.50 C251.83 239.07 250.63 236.63 250.40 234.20 C250.17 231.77 251.60 229.27 251.60 226.90 C251.60 224.53 250.55 221.98 250.40 220.00 C250.25 218.02 250.65 215.83 250.70 215.00 Z" fill="#f9e5da" fill-opacity="1.00"/>
<line x1="206.00" y1="215.00" x2="265.00" y2="215.00" stroke="#9a9a9a" stroke-width="0.50"/>
<path d="M206.0 257.6L265.0 234.7M206.0 225.1L265.0 215.4M206.0 273.4L265.0 244.4M206.0 249.2L265.0 242.4M206.0 220.2L265.0 220.2M206.0 263.7L265.0 229.9M206.0 263.7L265.0 229.9M206.0 239.6L265.0 237.8M206.0 227.7L265.0 231.4M206.0 228.7L265.0 220.2M206.0 225.0L265.0 230.5M206.0 244.4L265.0 234.9M206.0 270.8L265.0 254.2M206.0 240.3L265.0 229.9M206.0 239.6L265.0 225.1M206.0 225.1L265.0 225.1M206.0 267.1L265.0 234.7M206.0 232.5L265.0 215.4M206.0 217.2L265.0 220.2M206.0 249.2L265.0 229.9M206.0 228.0L265.0 225.1M206.0 249.2L265.0 234.7M206.0 220.8L265.0 215.4M206.0 217.4L265.0 220.2M206.0 224.3L265.0 217.4M206.0 234.7L265.0 220.2M206.0 229.9L265.0 229.9M206.0 236.0L265.0 225.1M206.0 229.9L265.0 229.9M206.0 263.7L265.0 254.1M206.0 234.7L265.0 234.7M206.0 254.1L265.0 244.4M206.0 237.9L265.0 239.3M206.0 225.1L265.0 234.7M206.0 254.1L265.0 233.5M206.0 273.4L265.0 243.6M206.0 239.9L265.0 229.9M206.0 239.7L265.0 225.1M206.0 239.6L265.0 229.0M206.0 244.4L265.0 244.4M206.0 266.4L265.0 234.7M206.0 273.4L265.0 239.6M206.0 244.4L265.0 239.6M206.0 231.3L265.0 220.2M206.0 239.6L265.0 239.6M206.0 240.8L265.0 231.8M206.0 234.6L265.0 221.3M206.0 232.2L265.0 234.7M206.0 225.1L265.0 215.4M206.0 244.4L265.0 244.4M206.0 234.7L265.0 234.7M206.0 215.4L265.0 215.4M206.0 232.3L265.0 234.7M206.0 223.9L265.0 229.9M206.0 248.5L265.0 239.6M206.0 234.7L265.0 234.7M206.0 254.1L265.0 227.3M206.0 229.9L265.0 234.7M206.0 229.9L265.0 229.9M206.0 247.3L265.0 234.7M206.0 225.1L265.0 215.4M206.0 244.4L265.0 232.1M206.0 215.4L265.0 215.4M206.0 220.2L265.0 220.2M206.0 225.6L265.0 220.2M206.0 244.4L265.0 239.6M206.0 220.2L265.0 229.9M206.0 254.1L265.0 244.4M206.0 234.7L265.0 220.2M206.0 238.4L265.0 232.3M206.0 263.7L265.0 234.7M206.0 239.6L265.0 227.1M206.0 257.9L265.0 230.9M206.0 252.6L265.0 229.9M206.0 216.7L265.0 221.9M206.0 272.3L265.0 245.9M206.0 233.8L265.0 234.7M206.0 254.1L265.0 225.9M206.0 220.2L265.0 225.1M206.0 229.9L265.0 229.9M206.0 244.4L265.0 231.1M206.0 263.7L265.0 230.3M206.0 263.7L265.0 245.9M206.0 229.9L265.0 220.2M206.0 239.6L265.0 239.6M206.0 225.2L265.0 220.6M206.0 215.4L265.0 220.2M206.0 236.5L265.0 225.1M206.0 229.9L265.0 220.2M206.0 225.1L265.0 225.1M206.0 235.8L265.0 223.7M206.0 249.5L265.0 230.4M206.0 225.1L265.0 215.4M206.0 263.7L265.0 231.7M206.0 254.1L265.0 243.8M206.0 232.1L265.0 229.9M206.0 259.9L265.0 249.2M206.0 220.2L265.0 218.1M206.0 242.1L265.0 229.9M206.0 234.7L265.0 231.2M206.0 234.7L265.0 234.7M206.0 234.7L265.0 229.9M206.0 263.7L265.0 239.7M206.0 244.4L265.0 239.6M206.0 234.7L265.0 220.2M206.0 262.3L265.0 239.6M206.0 239.6L265.0 239.6M206.0 253.9L265.0 234.7M206.0 273.4L265.0 247.6M206.0 225.1L265.0 234.8M206.0 236.6L265.0 234.7M206.0 229.9L265.0 220.2M206.0 229.9L265.0 229.9M206.0 249.2L265.0 245.4M206.0 263.7L265.0 242.6M206.0 251.3L265.0 239.6M206.0 234.7L265.0 229.9M206.0 239.6L265.0 234.7M206.0 244.4L265.0 239.6M206.0 244.4L265.0 231.1M206.0 229.9L265.0 225.1M206.0 225.1L265.0 220.2M206.0 223.9L265.0 231.4M206.0 215.4L265.0 216.0M206.0 244.4L265.0 220.2M206.0 248.6L265.0 240.4M206.0 227.1L265.0 217.2M206.0 239.6L265.0 226.0M206.0 244.4L265.0 229.9M206.0 263.7L265.0 254.1" stroke="#8a8a8a" stroke-opacity="0.45" stroke-width="0.30" fill="none"/>
<line x1="206.00" y1="215.00" x2="206.00" y2="229.40" stroke="#4a5560" stroke-width="0.60"/>
<line x1="206.00" y1="249.50" x2="206.00" y2="273.40" stroke="#4a5560" stroke-width="0.60"/>
<line x1="202.60" y1="215.00" x2="209.40" y2="215.00" stroke="#34495e" stroke-width="0.80"/>
<line x1="202.60" y1="273.40" x2="209.40" y2="273.40" stroke="#34495e" stroke-width="0.80"/>
<rect x="198.40" y="229.40" width="15.20" height="20.10" fill="#9cd3b3" stroke="#333" stroke-width="0.65" rx="0.00"/>
<line x1="198.40" y1="240.00" x2="213.60" y2="240.00" stroke="#111" stroke-width="1.30"/>
<line x1="265.00" y1="215.00" x2="265.00" y2="218.30" stroke="#4a5560" stroke-width="0.60"/>
<line x1="265.00" y1="241.20" x2="265.00" y2="258.30" stroke="#4a5560" stroke-width="0.60"/>
<line x1="261.60" y1="215.00" x2="268.40" y2="215.00" stroke="#34495e" stroke-width="0.80"/>
<line x1="261.60" y1="258.30" x2="268.40" y2="258.30" stroke="#34495e" stroke-width="0.80"/>
<rect x="257.40" y="218.30" width="15.20" height="22.90" fill="#eaac8b" stroke="#333" stroke-width="0.65" rx="0.00"/>
<line x1="257.40" y1="231.20" x2="272.60" y2="231.20" stroke="#111" stroke-width="1.30"/>
<path d="M204.3 257.6h0.01M265.3 234.7h0.01M205.2 225.1h0.01M265.7 215.4h0.01M206.8 273.4h0.01M262.2 244.4h0.01M202.9 249.2h0.01M267.2 242.4h0.01M204.5 220.2h0.01M263.3 220.2h0.01M209.2 263.7h0.01M264.8 229.9h0.01M208.2 263.7h0.01M264.8 229.9h0.01M206.9 239.6h0.01M262.8 237.8h0.01M206.9 227.7h0.01M267.4 231.4h0.01M206.1 228.7h0.01M266.5 220.2h0.01M207.1 225.0h0.01M262.2 230.5h0.01M207.7 244.4h0.01M265.6 234.9h0.01M204.7 270.8h0.01M262.0 254.2h0.01M208.3 240.3h0.01M264.8 229.9h0.01M207.4 239.6h0.01M267.4 225.1h0.01M207.4 225.1h0.01M267.7 225.1h0.01M205.3 267.1h0.01M266.9 234.7h0.01M205.6 232.5h0.01M267.8 215.4h0.01M208.4 217.2h0.01M262.4 220.2h0.01M203.7 249.2h0.01M263.2 229.9h0.01M209.0 228.0h0.01M264.6 225.1h0.01M206.8 249.2h0.01M263.7 234.7h0.01M206.0 220.8h0.01M264.3 215.4h0.01M205.0 217.4h0.01M265.5 220.2h0.01M206.5 224.3h0.01M267.6 217.4h0.01M207.2 234.7h0.01M267.7 220.2h0.01M208.3 229.9h0.01M268.1 229.9h0.01M207.1 236.0h0.01M262.8 225.1h0.01M208.3 229.9h0.01M268.0 229.9h0.01M208.6 263.7h0.01M265.4 254.1h0.01M207.4 234.7h0.01M263.2 234.7h0.01M208.1 254.1h0.01M265.5 244.4h0.01M204.6 237.9h0.01M262.2 239.3h0.01M208.3 225.1h0.01M268.1 234.7h0.01M203.4 254.1h0.01M266.9 233.5h0.01M205.4 273.4h0.01M262.8 243.6h0.01M204.7 239.9h0.01M266.7 229.9h0.01M208.4 239.7h0.01M262.1 225.1h0.01M206.7 239.6h0.01M262.1 229.0h0.01M207.4 244.4h0.01M263.9 244.4h0.01M208.4 266.4h0.01M268.1 234.7h0.01M206.0 273.4h0.01M268.2 239.6h0.01M204.8 244.4h0.01M262.3 239.6h0.01M206.6 231.3h0.01M262.0 220.2h0.01M204.1 239.6h0.01M264.4 239.6h0.01M206.7 240.8h0.01M262.8 231.8h0.01M203.1 234.6h0.01M267.4 221.3h0.01M204.8 232.2h0.01M267.9 234.7h0.01M208.5 225.1h0.01M264.2 215.4h0.01M205.7 244.4h0.01M265.1 244.4h0.01M206.9 234.7h0.01M265.6 234.7h0.01M206.4 215.4h0.01M265.8 215.4h0.01M208.8 232.3h0.01M265.0 234.7h0.01M205.6 223.9h0.01M266.4 229.9h0.01M204.3 248.5h0.01M263.7 239.6h0.01M209.1 234.7h0.01M265.1 234.7h0.01M206.3 254.1h0.01M261.9 227.3h0.01M205.5 229.9h0.01M265.5 234.7h0.01M202.9 229.9h0.01M265.7 229.9h0.01M206.8 247.3h0.01M262.2 234.7h0.01M206.8 225.1h0.01M264.8 215.4h0.01M207.1 244.4h0.01M264.1 232.1h0.01M207.3 215.4h0.01M266.5 215.4h0.01M202.9 220.2h0.01M262.2 220.2h0.01M207.1 225.6h0.01M268.0 220.2h0.01M204.4 244.4h0.01M264.7 239.6h0.01M206.6 220.2h0.01M263.8 229.9h0.01M205.1 254.1h0.01M263.8 244.4h0.01M205.2 234.7h0.01M265.6 220.2h0.01M204.7 238.4h0.01M264.2 232.3h0.01M207.7 263.7h0.01M262.0 234.7h0.01M206.4 239.6h0.01M266.5 227.1h0.01M204.8 257.9h0.01M263.2 230.9h0.01M207.9 252.6h0.01M263.3 229.9h0.01M204.0 216.7h0.01M264.6 221.9h0.01M207.3 272.3h0.01M262.5 245.9h0.01M204.9 233.8h0.01M263.9 234.7h0.01M208.1 254.1h0.01M264.6 225.9h0.01M208.3 220.2h0.01M262.9 225.1h0.01M205.0 229.9h0.01M266.0 229.9h0.01M208.5 244.4h0.01M264.7 231.1h0.01M204.2 263.7h0.01M262.6 230.3h0.01M206.2 263.7h0.01M263.0 245.9h0.01M208.0 229.9h0.01M267.2 220.2h0.01M204.0 239.6h0.01M263.6 239.6h0.01M208.0 225.2h0.01M265.9 220.6h0.01M208.0 215.4h0.01M264.0 220.2h0.01M203.6 236.5h0.01M263.7 225.1h0.01M207.9 229.9h0.01M263.5 220.2h0.01M205.0 225.1h0.01M264.5 225.1h0.01M205.5 235.8h0.01M264.4 223.7h0.01M208.7 249.5h0.01M262.8 230.4h0.01M202.8 225.1h0.01M267.8 215.4h0.01M208.4 263.7h0.01M268.1 231.7h0.01M205.6 254.1h0.01M267.9 243.8h0.01M208.7 232.1h0.01M263.2 229.9h0.01M207.6 259.9h0.01M267.2 249.2h0.01M207.0 220.2h0.01M265.1 218.1h0.01M204.6 242.1h0.01M264.0 229.9h0.01M204.3 234.7h0.01M262.2 231.2h0.01M206.6 234.7h0.01M263.6 234.7h0.01M208.0 234.7h0.01M262.1 229.9h0.01M208.6 263.7h0.01M266.2 239.7h0.01M208.7 244.4h0.01M267.5 239.6h0.01M208.6 234.7h0.01M265.5 220.2h0.01M202.9 262.3h0.01M266.6 239.6h0.01M203.9 239.6h0.01M263.7 239.6h0.01M207.0 253.9h0.01M265.2 234.7h0.01M205.4 273.4h0.01M267.8 247.6h0.01M206.7 225.1h0.01M264.0 234.8h0.01M204.4 236.6h0.01M267.3 234.7h0.01M205.9 229.9h0.01M266.8 220.2h0.01M205.1 229.9h0.01M263.1 229.9h0.01M206.2 249.2h0.01M267.0 245.4h0.01M203.9 263.7h0.01M266.9 242.6h0.01M208.7 251.3h0.01M267.0 239.6h0.01M208.1 234.7h0.01M261.8 229.9h0.01M206.8 239.6h0.01M267.3 234.7h0.01M203.1 244.4h0.01M263.5 239.6h0.01M204.5 244.4h0.01M265.2 231.1h0.01M205.5 229.9h0.01M264.8 225.1h0.01M207.8 225.1h0.01M261.8 220.2h0.01M203.2 223.9h0.01M262.6 231.4h0.01M203.6 215.4h0.01M262.2 216.0h0.01M209.0 244.4h0.01M267.3 220.2h0.01M203.4 248.6h0.01M265.0 240.4h0.01M204.8 227.1h0.01M263.8 217.2h0.01M205.0 239.6h0.01M265.9 226.0h0.01M206.6 244.4h0.01M264.1 229.9h0.01M204.0 263.7h0.01M263.9 254.1h0.01" stroke="#2c4a68" stroke-opacity="0.8" stroke-width="1.2" stroke-linecap="round" fill="none"/>
<line x1="206.00" y1="240.50" x2="265.00" y2="231.50" stroke="#000" stroke-width="0.90"/>
<circle cx="206.00" cy="240.50" r="1.4" fill="#fff" stroke="#000" stroke-width="0.8"/>
<circle cx="265.00" cy="231.50" r="1.4" fill="#fff" stroke="#000" stroke-width="0.8"/>
<text x="353.70" y="194.40" font-size="6.90" text-anchor="middle" fill="#2b2b2b" textLength="66.60" lengthAdjust="spacingAndGlyphs">Dermatology group</text>
<text x="354.00" y="203.20" font-size="6.50" text-anchor="middle" fill="#2b2b2b" textLength="30.00" lengthAdjust="spacingAndGlyphs"><tspan font-style="italic">P</tspan> &lt; 0.001</text>
<line x1="324.00" y1="207.40" x2="383.40" y2="207.40" stroke="#8a8a8a" stroke-width="1.00"/>
<path d="M333.30 215.00 C333.67 215.83 334.88 218.02 335.50 220.00 C336.12 221.98 336.63 223.80 337.00 226.90 C337.37 230.00 337.95 234.95 337.70 238.60 C337.45 242.25 336.72 245.63 335.50 248.80 C334.28 251.97 331.95 254.68 330.40 257.60 C328.85 260.52 327.10 263.67 326.20 266.30 C325.30 268.93 325.20 272.22 325.00 273.40 L323.00 273.40 C322.80 272.22 322.70 268.93 321.80 266.30 C320.90 263.67 319.15 260.52 317.60 257.60 C316.05 254.68 313.72 251.97 312.50 248.80 C311.28 245.63 310.55 242.25 310.30 238.60 C310.05 234.95 310.63 230.00 311.00 226.90 C311.37 223.80 311.88 221.98 312.50 220.00 C313.12 218.02 314.33 215.83 314.70 215.00 Z" fill="#ddede3" fill-opacity="1.00"/>
<path d="M395.70 215.00 C395.75 215.83 395.88 218.02 396.00 220.00 C396.12 221.98 396.20 224.57 396.40 226.90 C396.60 229.23 397.43 231.57 397.20 234.00 C396.97 236.43 396.10 239.03 395.00 241.50 C393.90 243.97 391.82 246.62 390.60 248.80 C389.38 250.98 388.47 252.73 387.70 254.60 C386.93 256.47 386.45 257.93 386.00 260.00 C385.55 262.07 385.30 264.77 385.00 267.00 C384.70 269.23 384.33 272.33 384.20 273.40 L381.80 273.40 C381.67 272.33 381.30 269.23 381.00 267.00 C380.70 264.77 380.45 262.07 380.00 260.00 C379.55 257.93 379.07 256.47 378.30 254.60 C377.53 252.73 376.62 250.98 375.40 248.80 C374.18 246.62 372.10 243.97 371.00 241.50 C369.90 239.03 369.03 236.43 368.80 234.00 C368.57 231.57 369.40 229.23 369.60 226.90 C369.80 224.57 369.88 221.98 370.00 220.00 C370.12 218.02 370.25 215.83 370.30 215.00 Z" fill="#f9e5da" fill-opacity="1.00"/>
<line x1="324.00" y1="215.00" x2="383.00" y2="215.00" stroke="#9a9a9a" stroke-width="0.50"/>
<path d="M324.0 215.4L383.0 229.4M324.0 254.1L383.0 235.1M324.0 216.8L383.0 225.8M324.0 220.2L383.0 219.7M324.0 244.2L383.0 239.6M324.0 225.1L383.0 218.4M324.0 244.4L383.0 227.1M324.0 230.0L383.0 234.8M324.0 263.7L383.0 238.3M324.0 234.8L383.0 232.6M324.0 239.6L383.0 229.9M324.0 239.6L383.0 229.9M324.0 244.4L383.0 234.9M324.0 234.7L383.0 232.8M324.0 234.7L383.0 234.7M324.0 259.8L383.0 238.4M324.0 229.9L383.0 235.6M324.0 239.6L383.0 225.1M324.0 215.4L383.0 218.4M324.0 242.2L383.0 228.6M324.0 260.9L383.0 239.6M324.0 229.9L383.0 229.9M324.0 244.4L383.0 239.6M324.0 249.2L383.0 239.6M324.0 234.7L383.0 234.7M324.0 239.6L383.0 225.1M324.0 240.9L383.0 229.9M324.0 249.2L383.0 239.7M324.0 220.2L383.0 220.2M324.0 249.2L383.0 249.2M324.0 230.6L383.0 220.2M324.0 249.2L383.0 249.2M324.0 239.6L383.0 231.0M324.0 233.5L383.0 234.7M324.0 245.7L383.0 244.4M324.0 225.1L383.0 215.4M324.0 225.9L383.0 229.9M324.0 263.7L383.0 244.4M324.0 252.8L383.0 234.7M324.0 225.6L383.0 234.9M324.0 225.1L383.0 234.7M324.0 215.4L383.0 217.0M324.0 243.2L383.0 225.3M324.0 225.1L383.0 220.2M324.0 254.1L383.0 229.9M324.0 254.1L383.0 239.6M324.0 239.4L383.0 234.7M324.0 220.2L383.0 215.4M324.0 234.7L383.0 234.7M324.0 254.1L383.0 254.1M324.0 234.7L383.0 225.1M324.0 239.6L383.0 225.1M324.0 259.1L383.0 235.7M324.0 244.4L383.0 249.2M324.0 225.1L383.0 231.5M324.0 263.7L383.0 234.7M324.0 229.9L383.0 220.2M324.0 251.5L383.0 239.6M324.0 246.4L383.0 229.9M324.0 228.9L383.0 225.1M324.0 244.4L383.0 228.3M324.0 244.4L383.0 244.4M324.0 231.6L383.0 234.7M324.0 229.9L383.0 229.9M324.0 244.4L383.0 249.7M324.0 215.4L383.0 220.2M324.0 234.7L383.0 234.7M324.0 238.0L383.0 234.7M324.0 239.6L383.0 239.6M324.0 222.9L383.0 224.1M324.0 239.6L383.0 228.1M324.0 263.7L383.0 244.4M324.0 218.4L383.0 222.7M324.0 252.5L383.0 229.9M324.0 257.6L383.0 234.7M324.0 229.9L383.0 225.1M324.0 263.7L383.0 233.7M324.0 254.1L383.0 254.1M324.0 225.1L383.0 222.9M324.0 239.6L383.0 239.6M324.0 240.5L383.0 239.6M324.0 226.9L383.0 235.5M324.0 220.2L383.0 225.1M324.0 220.2L383.0 220.2M324.0 249.2L383.0 239.6M324.0 249.2L383.0 229.9M324.0 244.4L383.0 239.6M324.0 229.9L383.0 229.9M324.0 244.5L383.0 234.7M324.0 252.6L383.0 243.6M324.0 263.7L383.0 239.6M324.0 225.5L383.0 235.2M324.0 234.7L383.0 229.9M324.0 244.4L383.0 244.4M324.0 234.7L383.0 234.7M324.0 254.4L383.0 235.9M324.0 234.7L383.0 237.9M324.0 249.2L383.0 249.2M324.0 234.7L383.0 225.1M324.0 254.1L383.0 244.5M324.0 244.4L383.0 239.6M324.0 225.1L383.0 220.2M324.0 215.4L383.0 218.1M324.0 226.6L383.0 226.7M324.0 239.6L383.0 239.3M324.0 234.7L383.0 225.1M324.0 235.7L383.0 227.8M324.0 228.8L383.0 225.1M324.0 240.2L383.0 234.7M324.0 227.2L383.0 220.2M324.0 260.9L383.0 236.7M324.0 263.7L383.0 234.7M324.0 239.6L383.0 234.7M324.0 244.4L383.0 244.4M324.0 225.1L383.0 225.1M324.0 225.1L383.0 234.7M324.0 244.4L383.0 227.9M324.0 221.2L383.0 215.4M324.0 234.7L383.0 225.1M324.0 250.9L383.0 239.6M324.0 249.2L383.0 239.6M324.0 248.4L383.0 239.3M324.0 220.2L383.0 220.2M324.0 225.1L383.0 225.1M324.0 225.1L383.0 225.1M324.0 225.1L383.0 234.7M324.0 249.2L383.0 249.2M324.0 239.1L383.0 225.1M324.0 234.7L383.0 225.1M324.0 229.9L383.0 229.9M324.0 269.0L383.0 269.0M324.0 273.4L383.0 273.4M324.0 254.6L383.0 254.6M324.0 254.6L383.0 254.6M324.0 254.6L383.0 254.6M324.0 261.6L383.0 261.6M324.0 266.0L383.0 262.0" stroke="#8a8a8a" stroke-opacity="0.45" stroke-width="0.30" fill="none"/>
<line x1="324.00" y1="215.00" x2="324.00" y2="226.40" stroke="#4a5560" stroke-width="0.60"/>
<line x1="324.00" y1="247.00" x2="324.00" y2="262.00" stroke="#4a5560" stroke-width="0.60"/>
<line x1="320.60" y1="215.00" x2="327.40" y2="215.00" stroke="#34495e" stroke-width="0.80"/>
<line x1="320.60" y1="262.00" x2="327.40" y2="262.00" stroke="#34495e" stroke-width="0.80"/>
<rect x="316.60" y="226.40" width="14.80" height="20.60" fill="#9cd3b3" stroke="#333" stroke-width="0.65" rx="0.00"/>
<line x1="316.60" y1="235.40" x2="331.40" y2="235.40" stroke="#111" stroke-width="1.30"/>
<line x1="383.00" y1="215.00" x2="383.00" y2="221.40" stroke="#4a5560" stroke-width="0.60"/>
<line x1="383.00" y1="239.60" x2="383.00" y2="261.60" stroke="#4a5560" stroke-width="0.60"/>
<line x1="379.60" y1="215.00" x2="386.40" y2="215.00" stroke="#34495e" stroke-width="0.80"/>
<line x1="379.60" y1="261.60" x2="386.40" y2="261.60" stroke="#34495e" stroke-width="0.80"/>
<rect x="375.60" y="221.40" width="14.80" height="18.20" fill="#eaac8b" stroke="#333" stroke-width="0.65" rx="0.00"/>
<line x1="375.60" y1="231.40" x2="390.40" y2="231.40" stroke="#111" stroke-width="1.30"/>
<path d="M322.3 215.4h0.01M383.3 229.4h0.01M323.2 254.1h0.01M383.7 235.1h0.01M324.8 216.8h0.01M380.2 225.8h0.01M320.9 220.2h0.01M385.2 219.7h0.01M322.5 244.2h0.01M381.3 239.6h0.01M327.2 225.1h0.01M382.8 218.4h0.01M326.2 244.4h0.01M382.8 227.1h0.01M324.9 230.0h0.01M380.8 234.8h0.01M324.9 263.7h0.01M385.4 238.3h0.01M324.1 234.8h0.01M384.5 232.6h0.01M325.1 239.6h0.01M380.2 229.9h0.01M325.7 239.6h0.01M383.6 229.9h0.01M322.7 244.4h0.01M380.0 234.9h0.01M326.3 234.7h0.01M382.8 232.8h0.01M325.4 234.7h0.01M385.4 234.7h0.01M325.4 259.8h0.01M385.7 238.4h0.01M323.3 229.9h0.01M384.9 235.6h0.01M323.6 239.6h0.01M385.8 225.1h0.01M326.4 215.4h0.01M380.4 218.4h0.01M321.7 242.2h0.01M381.2 228.6h0.01M327.0 260.9h0.01M382.6 239.6h0.01M324.8 229.9h0.01M381.7 229.9h0.01M324.0 244.4h0.01M382.3 239.6h0.01M323.0 249.2h0.01M383.5 239.6h0.01M324.5 234.7h0.01M385.6 234.7h0.01M325.2 239.6h0.01M385.7 225.1h0.01M326.3 240.9h0.01M386.1 229.9h0.01M325.1 249.2h0.01M380.8 239.7h0.01M326.3 220.2h0.01M386.0 220.2h0.01M326.6 249.2h0.01M383.4 249.2h0.01M325.4 230.6h0.01M381.2 220.2h0.01M326.1 249.2h0.01M383.5 249.2h0.01M322.6 239.6h0.01M380.2 231.0h0.01M326.3 233.5h0.01M386.1 234.7h0.01M321.4 245.7h0.01M384.9 244.4h0.01M323.4 225.1h0.01M380.8 215.4h0.01M322.7 225.9h0.01M384.7 229.9h0.01M326.4 263.7h0.01M380.1 244.4h0.01M324.7 252.8h0.01M380.1 234.7h0.01M325.4 225.6h0.01M381.9 234.9h0.01M326.4 225.1h0.01M386.1 234.7h0.01M324.0 215.4h0.01M386.2 217.0h0.01M322.8 243.2h0.01M380.3 225.3h0.01M324.6 225.1h0.01M380.0 220.2h0.01M322.1 254.1h0.01M382.4 229.9h0.01M324.7 254.1h0.01M380.8 239.6h0.01M321.1 239.4h0.01M385.4 234.7h0.01M322.8 220.2h0.01M385.9 215.4h0.01M326.5 234.7h0.01M382.2 234.7h0.01M323.7 254.1h0.01M383.1 254.1h0.01M324.9 234.7h0.01M383.6 225.1h0.01M324.4 239.6h0.01M383.8 225.1h0.01M326.8 259.1h0.01M383.0 235.7h0.01M323.6 244.4h0.01M384.4 249.2h0.01M322.3 225.1h0.01M381.7 231.5h0.01M327.1 263.7h0.01M383.1 234.7h0.01M324.3 229.9h0.01M379.9 220.2h0.01M323.5 251.5h0.01M383.5 239.6h0.01M320.9 246.4h0.01M383.7 229.9h0.01M324.8 228.9h0.01M380.2 225.1h0.01M324.8 244.4h0.01M382.8 228.3h0.01M325.1 244.4h0.01M382.1 244.4h0.01M325.3 231.6h0.01M384.5 234.7h0.01M320.9 229.9h0.01M380.2 229.9h0.01M325.1 244.4h0.01M386.0 249.7h0.01M322.4 215.4h0.01M382.7 220.2h0.01M324.6 234.7h0.01M381.8 234.7h0.01M323.1 238.0h0.01M381.8 234.7h0.01M323.2 239.6h0.01M383.6 239.6h0.01M322.7 222.9h0.01M382.2 224.1h0.01M325.7 239.6h0.01M380.0 228.1h0.01M324.4 263.7h0.01M384.5 244.4h0.01M322.8 218.4h0.01M381.2 222.7h0.01M325.9 252.5h0.01M381.3 229.9h0.01M322.0 257.6h0.01M382.6 234.7h0.01M325.3 229.9h0.01M380.5 225.1h0.01M322.9 263.7h0.01M381.9 233.7h0.01M326.1 254.1h0.01M382.6 254.1h0.01M326.3 225.1h0.01M380.9 222.9h0.01M323.0 239.6h0.01M384.0 239.6h0.01M326.5 240.5h0.01M382.7 239.6h0.01M322.2 226.9h0.01M380.6 235.5h0.01M324.2 220.2h0.01M381.0 225.1h0.01M326.0 220.2h0.01M385.2 220.2h0.01M322.0 249.2h0.01M381.6 239.6h0.01M326.0 249.2h0.01M383.9 229.9h0.01M326.0 244.4h0.01M382.0 239.6h0.01M321.6 229.9h0.01M381.7 229.9h0.01M325.9 244.5h0.01M381.5 234.7h0.01M323.0 252.6h0.01M382.5 243.6h0.01M323.5 263.7h0.01M382.4 239.6h0.01M326.7 225.5h0.01M380.8 235.2h0.01M320.8 234.7h0.01M385.8 229.9h0.01M326.4 244.4h0.01M386.1 244.4h0.01M323.6 234.7h0.01M385.9 234.7h0.01M326.7 254.4h0.01M381.2 235.9h0.01M325.6 234.7h0.01M385.2 237.9h0.01M325.0 249.2h0.01M383.1 249.2h0.01M322.6 234.7h0.01M382.0 225.1h0.01M322.3 254.1h0.01M380.2 244.5h0.01M324.6 244.4h0.01M381.6 239.6h0.01M326.0 225.1h0.01M380.1 220.2h0.01M326.6 215.4h0.01M384.2 218.1h0.01M326.7 226.6h0.01M385.5 226.7h0.01M326.6 239.6h0.01M383.5 239.3h0.01M320.9 234.7h0.01M384.6 225.1h0.01M321.9 235.7h0.01M381.7 227.8h0.01M325.0 228.8h0.01M383.2 225.1h0.01M323.4 240.2h0.01M385.8 234.7h0.01M324.7 227.2h0.01M382.0 220.2h0.01M322.4 260.9h0.01M385.3 236.7h0.01M323.9 263.7h0.01M384.8 234.7h0.01M323.1 239.6h0.01M381.1 234.7h0.01M324.2 244.4h0.01M385.0 244.4h0.01M321.9 225.1h0.01M384.9 225.1h0.01M326.7 225.1h0.01M385.0 234.7h0.01M326.1 244.4h0.01M379.8 227.9h0.01M324.8 221.2h0.01M385.3 215.4h0.01M321.1 234.7h0.01M381.5 225.1h0.01M322.5 250.9h0.01M383.2 239.6h0.01M323.5 249.2h0.01M382.8 239.6h0.01M325.8 248.4h0.01M379.8 239.3h0.01M321.2 220.2h0.01M380.6 220.2h0.01M321.6 225.1h0.01M380.2 225.1h0.01M327.0 225.1h0.01M385.3 225.1h0.01M321.4 225.1h0.01M383.0 234.7h0.01M322.8 249.2h0.01M381.8 249.2h0.01M323.0 239.1h0.01M383.9 225.1h0.01M324.6 234.7h0.01M382.1 225.1h0.01M322.0 229.9h0.01M381.9 229.9h0.01M321.6 269.0h0.01M383.4 269.0h0.01M325.4 273.4h0.01M382.2 273.4h0.01M321.3 254.6h0.01M380.9 254.6h0.01M323.2 254.6h0.01M383.7 254.6h0.01M325.8 254.6h0.01M382.2 254.6h0.01M325.9 261.6h0.01M383.8 261.6h0.01M323.6 266.0h0.01M382.2 262.0h0.01" stroke="#2c4a68" stroke-opacity="0.8" stroke-width="1.2" stroke-linecap="round" fill="none"/>
<line x1="324.00" y1="237.00" x2="383.00" y2="232.00" stroke="#000" stroke-width="0.90"/>
<circle cx="324.00" cy="237.00" r="1.4" fill="#fff" stroke="#000" stroke-width="0.8"/>
<circle cx="383.00" cy="232.00" r="1.4" fill="#fff" stroke="#000" stroke-width="0.8"/>
<text x="206.00" y="303.00" font-size="6.50" text-anchor="middle" fill="#2b2b2b" textLength="36.00" lengthAdjust="spacingAndGlyphs">Unassisted</text>
<text x="265.00" y="303.00" font-size="6.50" text-anchor="middle" fill="#2b2b2b" textLength="28.00" lengthAdjust="spacingAndGlyphs">Assisted</text>
<text x="324.00" y="303.00" font-size="6.50" text-anchor="middle" fill="#2b2b2b" textLength="36.00" lengthAdjust="spacingAndGlyphs">Unassisted</text>
<text x="383.00" y="303.00" font-size="6.50" text-anchor="middle" fill="#2b2b2b" textLength="28.00" lengthAdjust="spacingAndGlyphs">Assisted</text>
<rect x="177.50" y="309.40" width="234.20" height="8.70" fill="#ececec" stroke="none" stroke-width="0.00" rx="0.00"/>
<rect x="235.60" y="318.10" width="58.70" height="9.10" fill="#b3d9c4" stroke="none" stroke-width="0.00" rx="0.00"/>
<rect x="294.30" y="318.10" width="57.80" height="9.10" fill="#f2bda3" stroke="none" stroke-width="0.00" rx="0.00"/>
<rect x="235.60" y="327.20" width="58.70" height="9.10" fill="#b3d9c4" stroke="none" stroke-width="0.00" rx="0.00"/>
<rect x="294.30" y="327.20" width="57.80" height="9.10" fill="#f2bda3" stroke="none" stroke-width="0.00" rx="0.00"/>
<line x1="177.50" y1="309.40" x2="411.70" y2="309.40" stroke="#3a3a3a" stroke-width="0.80"/>
<line x1="177.50" y1="318.10" x2="411.70" y2="318.10" stroke="#3a3a3a" stroke-width="0.80"/>
<line x1="177.50" y1="327.20" x2="411.70" y2="327.20" stroke="#3a3a3a" stroke-width="0.80"/>
<line x1="177.50" y1="336.30" x2="411.70" y2="336.30" stroke="#3a3a3a" stroke-width="0.80"/>
<line x1="177.50" y1="309.40" x2="177.50" y2="336.30" stroke="#3a3a3a" stroke-width="0.80"/>
<line x1="235.60" y1="309.40" x2="235.60" y2="336.30" stroke="#3a3a3a" stroke-width="0.80"/>
<line x1="294.30" y1="309.40" x2="294.30" y2="336.30" stroke="#3a3a3a" stroke-width="0.80"/>
<line x1="352.10" y1="309.40" x2="352.10" y2="336.30" stroke="#3a3a3a" stroke-width="0.80"/>
<line x1="411.70" y1="309.40" x2="411.70" y2="336.30" stroke="#3a3a3a" stroke-width="0.80"/>
<text x="206.55" y="315.80" font-size="6.90" text-anchor="middle" fill="#2b2b2b" textLength="21.09" lengthAdjust="spacingAndGlyphs">Group</text>
<text x="264.95" y="315.80" font-size="6.90" text-anchor="middle" fill="#2b2b2b" textLength="37.54" lengthAdjust="spacingAndGlyphs">Unassisted</text>
<text x="323.20" y="315.80" font-size="6.90" text-anchor="middle" fill="#2b2b2b" textLength="28.68" lengthAdjust="spacingAndGlyphs">Assisted</text>
<text x="381.90" y="315.80" font-size="6.90" text-anchor="middle" fill="#2b2b2b" textLength="44.29" lengthAdjust="spacingAndGlyphs">Improvement</text>
<text x="206.55" y="324.90" font-size="6.90" text-anchor="middle" fill="#2b2b2b" textLength="34.59" lengthAdjust="spacingAndGlyphs">Generalist</text>
<text x="264.95" y="324.90" font-size="6.90" text-anchor="middle" fill="#2b2b2b" textLength="18.99" lengthAdjust="spacingAndGlyphs">2.739</text>
<text x="323.20" y="324.90" font-size="6.90" text-anchor="middle" fill="#2b2b2b" textLength="18.99" lengthAdjust="spacingAndGlyphs">3.184</text>
<text x="381.90" y="324.90" font-size="6.90" text-anchor="middle" fill="#2b2b2b" textLength="19.20" lengthAdjust="spacingAndGlyphs">+0.45</text>
<text x="206.55" y="334.00" font-size="6.90" text-anchor="middle" fill="#2b2b2b" textLength="43.02" lengthAdjust="spacingAndGlyphs">Dermatology</text>
<text x="264.95" y="334.00" font-size="6.90" text-anchor="middle" fill="#2b2b2b" textLength="18.99" lengthAdjust="spacingAndGlyphs">2.876</text>
<text x="323.20" y="334.00" font-size="6.90" text-anchor="middle" fill="#2b2b2b" textLength="18.99" lengthAdjust="spacingAndGlyphs">3.129</text>
<text x="381.90" y="334.00" font-size="6.90" text-anchor="middle" fill="#2b2b2b" textLength="19.20" lengthAdjust="spacingAndGlyphs">+0.25</text>
<text x="418.50" y="185.20" font-size="12.30" text-anchor="start" fill="#000" font-weight="bold" stroke="#000" stroke-width="0.55">h</text>
<line x1="451.60" y1="200.00" x2="451.60" y2="295.40" stroke="#7a7a7a" stroke-width="0.90"/>
<line x1="448.10" y1="213.40" x2="451.60" y2="213.40" stroke="#7a7a7a" stroke-width="0.90"/>
<text x="445.10" y="215.80" font-size="6.80" text-anchor="end" fill="#2b2b2b" textLength="12.48" lengthAdjust="spacingAndGlyphs">100</text>
<line x1="448.10" y1="227.04" x2="451.60" y2="227.04" stroke="#7a7a7a" stroke-width="0.90"/>
<text x="445.10" y="229.44" font-size="6.80" text-anchor="end" fill="#2b2b2b" textLength="8.32" lengthAdjust="spacingAndGlyphs">80</text>
<line x1="448.10" y1="240.68" x2="451.60" y2="240.68" stroke="#7a7a7a" stroke-width="0.90"/>
<text x="445.10" y="243.08" font-size="6.80" text-anchor="end" fill="#2b2b2b" textLength="8.32" lengthAdjust="spacingAndGlyphs">60</text>
<line x1="448.10" y1="254.32" x2="451.60" y2="254.32" stroke="#7a7a7a" stroke-width="0.90"/>
<text x="445.10" y="256.72" font-size="6.80" text-anchor="end" fill="#2b2b2b" textLength="8.32" lengthAdjust="spacingAndGlyphs">40</text>
<line x1="448.10" y1="267.96" x2="451.60" y2="267.96" stroke="#7a7a7a" stroke-width="0.90"/>
<text x="445.10" y="270.36" font-size="6.80" text-anchor="end" fill="#2b2b2b" textLength="8.32" lengthAdjust="spacingAndGlyphs">20</text>
<line x1="448.10" y1="281.60" x2="451.60" y2="281.60" stroke="#7a7a7a" stroke-width="0.90"/>
<text x="445.10" y="284.00" font-size="6.80" text-anchor="end" fill="#2b2b2b" textLength="4.16" lengthAdjust="spacingAndGlyphs">0</text>
<line x1="451.60" y1="295.40" x2="683.50" y2="295.40" stroke="#7a7a7a" stroke-width="0.90"/>
<text x="426.50" y="247.50" font-size="8.40" text-anchor="middle" fill="#2b2b2b" textLength="75.00" lengthAdjust="spacingAndGlyphs" transform="rotate(-90 426.50 247.50)">Top 3 accuracy (%)</text>
<text x="509.20" y="193.00" font-size="6.90" text-anchor="middle" fill="#2b2b2b" textLength="56.40" lengthAdjust="spacingAndGlyphs">Generalist group</text>
<text x="509.00" y="201.20" font-size="6.50" text-anchor="middle" fill="#2b2b2b" textLength="30.00" lengthAdjust="spacingAndGlyphs"><tspan font-style="italic">P</tspan> &lt; 0.001</text>
<line x1="480.00" y1="205.40" x2="538.40" y2="205.40" stroke="#8a8a8a" stroke-width="1.00"/>
<path d="M493.60 213.40 C493.50 214.83 492.90 218.90 493.00 222.00 C493.10 225.10 494.23 228.67 494.20 232.00 C494.17 235.33 492.87 238.67 492.80 242.00 C492.73 245.33 493.83 248.67 493.80 252.00 C493.77 255.33 492.63 258.67 492.60 262.00 C492.57 265.33 493.53 268.73 493.60 272.00 C493.67 275.27 493.10 280.00 493.00 281.60 L467.00 281.60 C466.90 280.00 466.33 275.27 466.40 272.00 C466.47 268.73 467.43 265.33 467.40 262.00 C467.37 258.67 466.23 255.33 466.20 252.00 C466.17 248.67 467.27 245.33 467.20 242.00 C467.13 238.67 465.83 235.33 465.80 232.00 C465.77 228.67 466.90 225.10 467.00 222.00 C467.10 218.90 466.50 214.83 466.40 213.40 Z" fill="#ddede3" fill-opacity="1.00"/>
<path d="M552.90 213.40 C552.42 215.48 550.80 221.93 550.00 225.90 C549.20 229.87 548.63 233.18 548.10 237.20 C547.57 241.22 547.28 245.98 546.80 250.00 C546.32 254.02 545.60 257.63 545.20 261.30 C544.80 264.97 544.62 268.62 544.40 272.00 C544.18 275.38 543.98 280.00 543.90 281.60 L532.90 281.60 C532.82 280.00 532.62 275.38 532.40 272.00 C532.18 268.62 532.00 264.97 531.60 261.30 C531.20 257.63 530.48 254.02 530.00 250.00 C529.52 245.98 529.23 241.22 528.70 237.20 C528.17 233.18 527.60 229.87 526.80 225.90 C526.00 221.93 524.38 215.48 523.90 213.40 Z" fill="#f9e5da" fill-opacity="1.00"/>
<line x1="480.00" y1="213.40" x2="538.40" y2="213.40" stroke="#9a9a9a" stroke-width="0.50"/>
<line x1="480.00" y1="281.60" x2="538.40" y2="281.60" stroke="#9a9a9a" stroke-width="0.50"/>
<path d="M480.0 281.6L538.4 281.6M480.0 281.6L538.4 254.3M480.0 227.0L538.4 247.5M480.0 213.4L538.4 240.2M480.0 258.9L538.4 258.9M480.0 270.2L538.4 238.0M480.0 254.3L538.4 254.3M480.0 213.4L538.4 213.4M480.0 227.0L538.4 227.0M480.0 258.9L538.4 240.7M480.0 213.8L538.4 213.4M480.0 254.3L538.4 254.3M480.0 247.5L538.4 247.5M480.0 236.1L538.4 236.1M480.0 254.3L538.4 224.8M480.0 270.2L538.4 270.2M480.0 258.9L538.4 227.0M480.0 213.4L538.4 236.1M480.0 281.6L538.4 270.2M480.0 213.4L538.4 213.4M480.0 258.9L538.4 258.9M480.0 281.6L538.4 268.0M480.0 264.6L538.4 264.6M480.0 254.3L538.4 227.0M480.0 247.5L538.4 224.8M480.0 270.2L538.4 264.6M480.0 224.8L538.4 224.8M480.0 254.3L538.4 247.5M480.0 224.8L538.4 227.0M480.0 213.4L538.4 247.5M480.0 270.2L538.4 227.0M480.0 258.9L538.4 247.5M480.0 258.9L538.4 224.8M480.0 240.7L538.4 240.7M480.0 264.6L538.4 264.6M480.0 281.6L538.4 247.5M480.0 236.1L538.4 236.1M480.0 213.4L538.4 224.8M480.0 270.2L538.4 244.9M480.0 247.5L538.4 213.4M480.0 240.7L538.4 240.7M480.0 221.8L538.4 247.5M480.0 213.4L538.4 213.4M480.0 227.0L538.4 227.0M480.0 247.5L538.4 247.5M480.0 213.4L538.4 230.5M480.0 213.4L538.4 213.4M480.0 281.6L538.4 227.0M480.0 264.6L538.4 242.2M480.0 213.4L538.4 247.5M480.0 215.5L538.4 213.4M480.0 247.5L538.4 247.5M480.0 236.1L538.4 213.4M480.0 269.4L538.4 247.5M480.0 254.3L538.4 254.3M480.0 269.6L538.4 247.5M480.0 281.6L538.4 230.5M480.0 281.6L538.4 270.2M480.0 258.9L538.4 230.5M480.0 247.5L538.4 247.5M480.0 224.8L538.4 224.8M480.0 236.1L538.4 213.4M480.0 236.1L538.4 230.5M480.0 281.6L538.4 239.5M480.0 240.7L538.4 213.4M480.0 270.2L538.4 240.7M480.0 254.3L538.4 213.4M480.0 236.1L538.4 236.1M480.0 224.8L538.4 213.4M480.0 213.4L538.4 247.5M480.0 270.2L538.4 264.6M480.0 270.2L538.4 270.2M480.0 264.6L538.4 224.8M480.0 270.2L538.4 270.2M480.0 213.4L538.4 213.4M480.0 214.9L538.4 213.4M480.0 224.8L538.4 224.8M480.0 240.7L538.4 213.4M480.0 228.7L538.4 247.5M480.0 258.9L538.4 258.9M480.0 229.1L538.4 221.9M480.0 224.8L538.4 236.1M480.0 281.6L538.4 247.5M480.0 247.5L538.4 254.3M480.0 224.8L538.4 224.8M480.0 268.4L538.4 233.2M480.0 213.4L538.4 236.1M480.0 256.1L538.4 227.0M480.0 236.1L538.4 241.2M480.0 230.5L538.4 247.5M480.0 240.3L538.4 236.1M480.0 213.4L538.4 213.4M480.0 236.1L538.4 236.1M480.0 281.6L538.4 236.1M480.0 268.0L538.4 230.5M480.0 281.6L538.4 240.7M480.0 281.6L538.4 270.2M480.0 264.6L538.4 258.9M480.0 281.6L538.4 264.7M480.0 224.8L538.4 224.8M480.0 247.5L538.4 213.4M480.0 213.4L538.4 213.4M480.0 213.4L538.4 213.4M480.0 254.3L538.4 236.1M480.0 213.4L538.4 213.4M480.0 258.9L538.4 258.9M480.0 268.0L538.4 240.7M480.0 236.6L538.4 240.7M480.0 227.0L538.4 236.1M480.0 270.2L538.4 247.5" stroke="#8a8a8a" stroke-opacity="0.45" stroke-width="0.30" fill="none"/>
<line x1="480.00" y1="213.40" x2="480.00" y2="216.30" stroke="#4a5560" stroke-width="0.60"/>
<line x1="480.00" y1="271.70" x2="480.00" y2="281.60" stroke="#4a5560" stroke-width="0.60"/>
<line x1="476.60" y1="213.40" x2="483.40" y2="213.40" stroke="#34495e" stroke-width="0.80"/>
<line x1="476.60" y1="281.60" x2="483.40" y2="281.60" stroke="#34495e" stroke-width="0.80"/>
<rect x="472.90" y="216.30" width="14.20" height="55.40" fill="#9cd3b3" stroke="#333" stroke-width="0.65" rx="0.00"/>
<line x1="472.90" y1="247.30" x2="487.10" y2="247.30" stroke="#111" stroke-width="1.30"/>
<line x1="538.40" y1="213.40" x2="538.40" y2="213.40" stroke="#4a5560" stroke-width="0.60"/>
<line x1="538.40" y1="247.60" x2="538.40" y2="281.60" stroke="#4a5560" stroke-width="0.60"/>
<line x1="535.00" y1="213.40" x2="541.80" y2="213.40" stroke="#34495e" stroke-width="0.80"/>
<line x1="535.00" y1="281.60" x2="541.80" y2="281.60" stroke="#34495e" stroke-width="0.80"/>
<rect x="531.30" y="213.40" width="14.20" height="34.20" fill="#eaac8b" stroke="#333" stroke-width="0.65" rx="0.00"/>
<line x1="531.30" y1="236.00" x2="545.50" y2="236.00" stroke="#111" stroke-width="1.30"/>
<path d="M477.9 281.6h0.01M538.8 281.6h0.01M479.0 281.6h0.01M539.2 254.3h0.01M481.0 227.0h0.01M534.9 247.5h0.01M476.1 213.4h0.01M541.1 240.2h0.01M478.1 258.9h0.01M536.3 258.9h0.01M484.0 270.2h0.01M538.2 238.0h0.01M482.7 254.3h0.01M538.2 254.3h0.01M481.1 213.4h0.01M535.6 213.4h0.01M481.1 227.0h0.01M541.3 227.0h0.01M480.2 258.9h0.01M540.3 240.7h0.01M481.4 213.8h0.01M534.9 213.4h0.01M482.1 254.3h0.01M539.1 254.3h0.01M478.4 247.5h0.01M534.6 247.5h0.01M482.9 236.1h0.01M538.2 236.1h0.01M481.8 254.3h0.01M541.4 224.8h0.01M481.7 270.2h0.01M541.8 270.2h0.01M479.2 258.9h0.01M540.8 227.0h0.01M479.6 213.4h0.01M541.9 236.1h0.01M483.0 281.6h0.01M535.2 270.2h0.01M477.1 213.4h0.01M536.1 213.4h0.01M483.7 258.9h0.01M537.9 258.9h0.01M481.0 281.6h0.01M536.8 268.0h0.01M480.1 264.6h0.01M537.5 264.6h0.01M478.8 254.3h0.01M539.1 227.0h0.01M480.7 247.5h0.01M541.6 224.8h0.01M481.5 270.2h0.01M541.8 264.6h0.01M482.9 224.8h0.01M542.3 224.8h0.01M481.4 254.3h0.01M535.7 247.5h0.01M482.9 224.8h0.01M542.1 227.0h0.01M483.2 213.4h0.01M539.0 247.5h0.01M481.7 270.2h0.01M536.1 227.0h0.01M482.7 258.9h0.01M539.0 247.5h0.01M478.3 258.9h0.01M534.9 224.8h0.01M482.8 240.7h0.01M542.3 240.7h0.01M476.7 264.6h0.01M540.8 264.6h0.01M479.3 281.6h0.01M535.6 247.5h0.01M478.4 236.1h0.01M540.6 236.1h0.01M483.0 213.4h0.01M534.8 224.8h0.01M480.9 270.2h0.01M534.8 244.9h0.01M481.7 247.5h0.01M537.0 213.4h0.01M483.0 240.7h0.01M542.2 240.7h0.01M480.0 221.8h0.01M542.4 247.5h0.01M478.5 213.4h0.01M535.0 213.4h0.01M480.8 227.0h0.01M534.7 227.0h0.01M477.6 247.5h0.01M537.7 247.5h0.01M480.9 213.4h0.01M535.6 230.5h0.01M476.3 213.4h0.01M541.3 213.4h0.01M478.5 281.6h0.01M542.1 227.0h0.01M483.2 264.6h0.01M537.4 242.2h0.01M479.7 213.4h0.01M538.6 247.5h0.01M481.2 215.5h0.01M539.2 213.4h0.01M480.5 247.5h0.01M539.4 247.5h0.01M483.5 236.1h0.01M538.5 213.4h0.01M479.4 269.4h0.01M540.2 247.5h0.01M477.9 254.3h0.01M536.8 254.3h0.01M483.8 269.6h0.01M538.6 247.5h0.01M480.4 281.6h0.01M534.5 230.5h0.01M479.3 281.6h0.01M539.0 270.2h0.01M476.2 258.9h0.01M539.3 230.5h0.01M481.1 247.5h0.01M534.9 247.5h0.01M481.0 224.8h0.01M538.1 224.8h0.01M481.4 236.1h0.01M537.2 213.4h0.01M481.7 236.1h0.01M540.3 230.5h0.01M476.2 281.6h0.01M534.9 239.5h0.01M481.4 240.7h0.01M542.1 213.4h0.01M478.0 270.2h0.01M538.1 240.7h0.01M480.7 254.3h0.01M537.0 213.4h0.01M478.9 236.1h0.01M536.9 236.1h0.01M479.0 224.8h0.01M539.2 213.4h0.01M478.4 213.4h0.01M537.4 247.5h0.01M482.2 270.2h0.01M534.6 264.6h0.01M480.6 270.2h0.01M540.3 270.2h0.01M478.5 264.6h0.01M536.2 224.8h0.01M482.4 270.2h0.01M536.3 270.2h0.01M477.5 213.4h0.01M537.9 213.4h0.01M481.6 214.9h0.01M535.2 213.4h0.01M478.6 224.8h0.01M537.1 224.8h0.01M482.7 240.7h0.01M537.9 213.4h0.01M482.8 228.7h0.01M535.8 247.5h0.01M478.7 258.9h0.01M539.6 258.9h0.01M483.1 229.1h0.01M538.0 221.9h0.01M477.8 224.8h0.01M535.4 236.1h0.01M480.2 281.6h0.01M535.9 247.5h0.01M482.5 247.5h0.01M541.1 254.3h0.01M477.5 224.8h0.01M536.6 224.8h0.01M482.5 268.4h0.01M539.5 233.2h0.01M482.5 213.4h0.01M537.2 236.1h0.01M477.0 256.1h0.01M536.7 227.0h0.01M482.4 236.1h0.01M536.6 241.2h0.01M478.8 230.5h0.01M537.7 247.5h0.01M479.4 240.3h0.01M537.7 236.1h0.01M483.4 213.4h0.01M535.6 213.4h0.01M476.0 236.1h0.01M541.9 236.1h0.01M483.0 281.6h0.01M542.3 236.1h0.01M479.5 268.0h0.01M542.0 230.5h0.01M483.4 281.6h0.01M536.2 240.7h0.01M482.0 281.6h0.01M541.1 270.2h0.01M481.3 264.6h0.01M538.6 258.9h0.01M478.3 281.6h0.01M537.1 264.7h0.01M477.8 224.8h0.01M534.9 224.8h0.01M480.7 247.5h0.01M536.7 213.4h0.01M482.5 213.4h0.01M534.8 213.4h0.01M483.2 213.4h0.01M539.9 213.4h0.01M483.4 254.3h0.01M541.6 236.1h0.01M483.2 213.4h0.01M539.0 213.4h0.01M476.1 258.9h0.01M540.4 258.9h0.01M477.4 268.0h0.01M536.8 240.7h0.01M481.3 236.6h0.01M538.6 240.7h0.01M479.3 227.0h0.01M541.9 236.1h0.01M480.9 270.2h0.01M537.1 247.5h0.01" stroke="#2c4a68" stroke-opacity="0.8" stroke-width="1.2" stroke-linecap="round" fill="none"/>
<line x1="480.00" y1="247.10" x2="538.40" y2="235.20" stroke="#000" stroke-width="0.90"/>
<circle cx="480.00" cy="247.10" r="1.4" fill="#fff" stroke="#000" stroke-width="0.8"/>
<circle cx="538.40" cy="235.20" r="1.4" fill="#fff" stroke="#000" stroke-width="0.8"/>
<text x="625.40" y="193.00" font-size="6.90" text-anchor="middle" fill="#2b2b2b" textLength="66.00" lengthAdjust="spacingAndGlyphs">Dermatology group</text>
<text x="625.40" y="201.20" font-size="6.50" text-anchor="middle" fill="#2b2b2b" textLength="30.00" lengthAdjust="spacingAndGlyphs"><tspan font-style="italic">P</tspan> &lt; 0.001</text>
<line x1="596.00" y1="205.40" x2="654.40" y2="205.40" stroke="#8a8a8a" stroke-width="1.00"/>
<path d="M606.40 213.80 C606.83 215.02 608.43 217.20 609.00 221.10 C609.57 225.00 609.67 232.65 609.80 237.20 C609.93 241.75 610.47 244.38 609.80 248.40 C609.13 252.42 607.02 257.28 605.80 261.30 C604.58 265.32 603.23 269.15 602.50 272.50 C601.77 275.85 601.58 279.92 601.40 281.40 L591.40 281.40 C591.22 279.92 591.03 275.85 590.30 272.50 C589.57 269.15 588.22 265.32 587.00 261.30 C585.78 257.28 583.67 252.42 583.00 248.40 C582.33 244.38 582.87 241.75 583.00 237.20 C583.13 232.65 583.23 225.00 583.80 221.10 C584.37 217.20 585.97 215.02 586.40 213.80 Z" fill="#ddede3" fill-opacity="1.00"/>
<path d="M667.90 213.80 C667.82 216.35 667.88 223.87 667.40 229.10 C666.92 234.33 666.07 240.38 665.00 245.20 C663.93 250.02 661.93 253.45 661.00 258.00 C660.07 262.55 659.77 268.60 659.40 272.50 C659.03 276.40 658.90 279.92 658.80 281.40 L649.80 281.40 C649.70 279.92 649.57 276.40 649.20 272.50 C648.83 268.60 648.53 262.55 647.60 258.00 C646.67 253.45 644.67 250.02 643.60 245.20 C642.53 240.38 641.68 234.33 641.20 229.10 C640.72 223.87 640.78 216.35 640.70 213.80 Z" fill="#f9e5da" fill-opacity="1.00"/>
<line x1="596.40" y1="213.40" x2="654.30" y2="213.40" stroke="#9a9a9a" stroke-width="0.50"/>
<line x1="596.40" y1="281.60" x2="654.30" y2="281.60" stroke="#9a9a9a" stroke-width="0.50"/>
<path d="M596.4 270.2L654.3 259.0M596.4 230.5L654.3 240.7M596.4 213.4L654.3 213.4M596.4 270.2L654.3 270.2M596.4 213.4L654.3 236.1M596.4 268.0L654.3 268.0M596.4 254.3L654.3 254.3M596.4 224.8L654.3 224.8M596.4 240.7L654.3 240.7M596.4 213.4L654.3 227.0M596.4 247.5L654.3 227.0M596.4 268.0L654.3 268.0M596.4 281.6L654.3 226.7M596.4 213.4L654.3 213.4M596.4 264.6L654.3 240.7M596.4 240.7L654.3 240.7M596.4 258.9L654.3 269.7M596.4 213.4L654.3 217.1M596.4 247.5L654.3 254.3M596.4 274.4L654.3 236.1M596.4 239.8L654.3 230.5M596.4 281.6L654.3 224.8M596.4 227.0L654.3 227.0M596.4 256.0L654.3 224.8M596.4 247.5L654.3 224.8M596.4 240.7L654.3 247.5M596.4 213.4L654.3 213.4M596.4 213.4L654.3 224.8M596.4 213.4L654.3 236.1M596.4 247.5L654.3 247.5M596.4 247.5L654.3 224.8M596.4 213.4L654.3 230.5M596.4 264.6L654.3 264.6M596.4 254.3L654.3 247.5M596.4 224.8L654.3 236.1M596.4 240.7L654.3 247.5M596.4 258.9L654.3 222.9M596.4 281.6L654.3 247.5M596.4 270.2L654.3 224.8M596.4 270.2L654.3 224.8M596.4 247.5L654.3 258.9M596.4 224.8L654.3 216.8M596.4 270.2L654.3 247.5M596.4 230.5L654.3 230.5M596.4 240.7L654.3 240.7M596.4 258.9L654.3 230.5M596.4 230.5L654.3 247.5M596.4 236.1L654.3 236.1M596.4 224.8L654.3 224.8M596.4 247.5L654.3 247.5M596.4 248.9L654.3 230.5M596.4 249.3L654.3 230.5M596.4 230.5L654.3 236.1M596.4 254.3L654.3 254.3M596.4 247.5L654.3 254.3M596.4 264.6L654.3 264.6M596.4 227.0L654.3 240.7M596.4 230.5L654.3 230.5M596.4 254.3L654.3 254.3M596.4 236.1L654.3 213.4M596.4 216.5L654.3 213.4M596.4 227.0L654.3 236.1M596.4 258.9L654.3 240.7M596.4 224.8L654.3 240.7M596.4 264.6L654.3 264.6M596.4 236.1L654.3 247.5M596.4 270.2L654.3 264.6M596.4 254.3L654.3 247.5M596.4 213.4L654.3 213.4M596.4 249.3L654.3 236.1M596.4 227.0L654.3 227.0M596.4 236.1L654.3 236.1M596.4 247.5L654.3 247.5M596.4 240.7L654.3 224.8M596.4 230.5L654.3 247.5M596.4 254.3L654.3 264.6M596.4 240.7L654.3 227.0M596.4 224.8L654.3 224.8M596.4 247.5L654.3 247.5M596.4 270.2L654.3 247.5M596.4 275.6L654.3 240.7M596.4 227.0L654.3 227.0M596.4 240.7L654.3 240.7M596.4 227.0L654.3 224.8M596.4 224.8L654.3 224.8M596.4 258.9L654.3 254.3M596.4 264.6L654.3 240.7M596.4 230.9L654.3 213.4M596.4 254.3L654.3 236.1M596.4 247.5L654.3 224.5M596.4 247.5L654.3 230.5M596.4 270.2L654.3 247.5M596.4 240.7L654.3 240.7M596.4 214.7L654.3 213.4M596.4 268.1L654.3 227.0M596.4 230.5L654.3 230.5M596.4 247.5L654.3 230.5M596.4 270.2L654.3 247.5M596.4 236.1L654.3 236.1M596.4 247.5L654.3 247.5M596.4 281.6L654.3 247.5M596.4 213.4L654.3 224.8M596.4 240.7L654.3 218.0M596.4 227.0L654.3 213.4M596.4 224.8L654.3 224.8M596.4 224.8L654.3 227.0M596.4 236.1L654.3 236.1M596.4 281.6L654.3 240.7M596.4 230.5L654.3 239.6M596.4 281.6L654.3 240.7" stroke="#8a8a8a" stroke-opacity="0.45" stroke-width="0.30" fill="none"/>
<line x1="596.40" y1="213.40" x2="596.40" y2="227.50" stroke="#4a5560" stroke-width="0.60"/>
<line x1="596.40" y1="259.70" x2="596.40" y2="281.60" stroke="#4a5560" stroke-width="0.60"/>
<line x1="593.00" y1="213.40" x2="599.80" y2="213.40" stroke="#34495e" stroke-width="0.80"/>
<line x1="593.00" y1="281.60" x2="599.80" y2="281.60" stroke="#34495e" stroke-width="0.80"/>
<rect x="589.15" y="227.50" width="14.50" height="32.20" fill="#9cd3b3" stroke="#333" stroke-width="0.65" rx="0.00"/>
<line x1="589.15" y1="246.00" x2="603.65" y2="246.00" stroke="#111" stroke-width="1.30"/>
<line x1="654.30" y1="213.40" x2="654.30" y2="219.50" stroke="#4a5560" stroke-width="0.60"/>
<line x1="654.30" y1="247.60" x2="654.30" y2="281.60" stroke="#4a5560" stroke-width="0.60"/>
<line x1="650.90" y1="213.40" x2="657.70" y2="213.40" stroke="#34495e" stroke-width="0.80"/>
<line x1="650.90" y1="281.60" x2="657.70" y2="281.60" stroke="#34495e" stroke-width="0.80"/>
<rect x="647.05" y="219.50" width="14.50" height="28.10" fill="#eaac8b" stroke="#333" stroke-width="0.65" rx="0.00"/>
<line x1="647.05" y1="233.50" x2="661.55" y2="233.50" stroke="#111" stroke-width="1.30"/>
<path d="M594.3 270.2h0.01M654.7 259.0h0.01M595.4 230.5h0.01M655.1 240.7h0.01M597.4 213.4h0.01M650.8 213.4h0.01M592.5 270.2h0.01M657.0 270.2h0.01M594.5 213.4h0.01M652.2 236.1h0.01M600.4 268.0h0.01M654.1 268.0h0.01M599.1 254.3h0.01M654.1 254.3h0.01M597.5 224.8h0.01M651.5 224.8h0.01M597.5 240.7h0.01M657.2 240.7h0.01M596.6 213.4h0.01M656.2 227.0h0.01M597.8 247.5h0.01M650.8 227.0h0.01M598.5 268.0h0.01M655.0 268.0h0.01M594.8 281.6h0.01M650.5 226.7h0.01M599.3 213.4h0.01M654.1 213.4h0.01M598.2 264.6h0.01M657.3 240.7h0.01M598.1 240.7h0.01M657.7 240.7h0.01M595.6 258.9h0.01M656.7 269.7h0.01M596.0 213.4h0.01M657.8 217.1h0.01M599.4 247.5h0.01M651.1 254.3h0.01M593.5 274.4h0.01M652.0 236.1h0.01M600.1 239.8h0.01M653.8 230.5h0.01M597.4 281.6h0.01M652.7 224.8h0.01M596.5 227.0h0.01M653.4 227.0h0.01M595.2 256.0h0.01M655.0 224.8h0.01M597.1 247.5h0.01M657.5 224.8h0.01M597.9 240.7h0.01M657.7 247.5h0.01M599.3 213.4h0.01M658.2 213.4h0.01M597.8 213.4h0.01M651.6 224.8h0.01M599.3 213.4h0.01M658.0 236.1h0.01M599.6 247.5h0.01M654.9 247.5h0.01M598.1 247.5h0.01M652.0 224.8h0.01M599.1 213.4h0.01M654.9 230.5h0.01M594.7 264.6h0.01M650.8 264.6h0.01M599.2 254.3h0.01M658.2 247.5h0.01M593.1 224.8h0.01M656.7 236.1h0.01M595.7 240.7h0.01M651.5 247.5h0.01M594.8 258.9h0.01M656.5 222.9h0.01M599.4 281.6h0.01M650.7 247.5h0.01M597.3 270.2h0.01M650.7 224.8h0.01M598.1 270.2h0.01M652.9 224.8h0.01M599.4 247.5h0.01M658.1 258.9h0.01M596.4 224.8h0.01M658.3 216.8h0.01M594.9 270.2h0.01M650.9 247.5h0.01M597.2 230.5h0.01M650.6 230.5h0.01M594.0 240.7h0.01M653.6 240.7h0.01M597.3 258.9h0.01M651.5 230.5h0.01M592.7 230.5h0.01M657.2 247.5h0.01M594.9 236.1h0.01M658.0 236.1h0.01M599.6 224.8h0.01M653.3 224.8h0.01M596.1 247.5h0.01M654.5 247.5h0.01M597.6 248.9h0.01M655.1 230.5h0.01M596.9 249.3h0.01M655.3 230.5h0.01M599.9 230.5h0.01M654.4 236.1h0.01M595.8 254.3h0.01M656.1 254.3h0.01M594.3 247.5h0.01M652.7 254.3h0.01M600.2 264.6h0.01M654.5 264.6h0.01M596.8 227.0h0.01M650.4 240.7h0.01M595.7 230.5h0.01M654.9 230.5h0.01M592.6 254.3h0.01M655.2 254.3h0.01M597.5 236.1h0.01M650.8 213.4h0.01M597.4 216.5h0.01M654.0 213.4h0.01M597.8 227.0h0.01M653.1 236.1h0.01M598.1 258.9h0.01M656.2 240.7h0.01M592.6 224.8h0.01M650.8 240.7h0.01M597.8 264.6h0.01M658.0 264.6h0.01M594.4 236.1h0.01M654.0 247.5h0.01M597.1 270.2h0.01M652.9 264.6h0.01M595.3 254.3h0.01M652.8 247.5h0.01M595.4 213.4h0.01M655.1 213.4h0.01M594.8 249.3h0.01M653.3 236.1h0.01M598.6 227.0h0.01M650.5 227.0h0.01M597.0 236.1h0.01M656.2 236.1h0.01M594.9 247.5h0.01M652.1 247.5h0.01M598.8 240.7h0.01M652.2 224.8h0.01M593.9 230.5h0.01M653.8 247.5h0.01M598.0 254.3h0.01M651.1 264.6h0.01M595.0 240.7h0.01M653.0 227.0h0.01M599.1 224.8h0.01M653.8 224.8h0.01M599.2 247.5h0.01M651.7 247.5h0.01M595.1 270.2h0.01M655.5 247.5h0.01M599.5 275.6h0.01M653.9 240.7h0.01M594.2 227.0h0.01M651.3 227.0h0.01M596.6 240.7h0.01M651.8 240.7h0.01M598.9 227.0h0.01M657.0 224.8h0.01M593.9 224.8h0.01M652.5 224.8h0.01M598.9 258.9h0.01M655.4 254.3h0.01M598.9 264.6h0.01M653.1 240.7h0.01M593.4 230.9h0.01M652.6 213.4h0.01M598.8 254.3h0.01M652.5 236.1h0.01M595.2 247.5h0.01M653.6 224.5h0.01M595.8 247.5h0.01M653.6 230.5h0.01M599.8 270.2h0.01M651.5 247.5h0.01M592.4 240.7h0.01M657.8 240.7h0.01M599.4 214.7h0.01M658.2 213.4h0.01M595.9 268.1h0.01M657.9 227.0h0.01M599.8 230.5h0.01M652.1 230.5h0.01M598.4 247.5h0.01M657.0 230.5h0.01M597.7 270.2h0.01M654.5 247.5h0.01M594.7 236.1h0.01M653.0 236.1h0.01M594.2 247.5h0.01M650.8 247.5h0.01M597.1 281.6h0.01M652.6 247.5h0.01M598.9 213.4h0.01M650.7 224.8h0.01M599.6 240.7h0.01M655.8 218.0h0.01M599.8 227.0h0.01M657.5 213.4h0.01M599.6 224.8h0.01M654.9 224.8h0.01M592.5 224.8h0.01M656.3 227.0h0.01M593.8 236.1h0.01M652.7 236.1h0.01M597.7 281.6h0.01M654.5 240.7h0.01M595.7 230.5h0.01M657.8 239.6h0.01M597.3 281.6h0.01M653.0 240.7h0.01" stroke="#2c4a68" stroke-opacity="0.8" stroke-width="1.2" stroke-linecap="round" fill="none"/>
<line x1="596.40" y1="243.90" x2="654.30" y2="237.20" stroke="#000" stroke-width="0.90"/>
<circle cx="596.40" cy="243.90" r="1.4" fill="#fff" stroke="#000" stroke-width="0.8"/>
<circle cx="654.30" cy="237.20" r="1.4" fill="#fff" stroke="#000" stroke-width="0.8"/>
<text x="480.00" y="305.00" font-size="6.50" text-anchor="middle" fill="#2b2b2b" textLength="36.00" lengthAdjust="spacingAndGlyphs">Unassisted</text>
<text x="538.40" y="305.00" font-size="6.50" text-anchor="middle" fill="#2b2b2b" textLength="28.00" lengthAdjust="spacingAndGlyphs">Assisted</text>
<text x="596.00" y="305.00" font-size="6.50" text-anchor="middle" fill="#2b2b2b" textLength="36.00" lengthAdjust="spacingAndGlyphs">Unassisted</text>
<text x="654.40" y="305.00" font-size="6.50" text-anchor="middle" fill="#2b2b2b" textLength="28.00" lengthAdjust="spacingAndGlyphs">Assisted</text>
<rect x="452.40" y="309.70" width="230.00" height="8.40" fill="#ececec" stroke="none" stroke-width="0.00" rx="0.00"/>
<rect x="509.40" y="318.10" width="57.20" height="9.30" fill="#b3d9c4" stroke="none" stroke-width="0.00" rx="0.00"/>
<rect x="566.60" y="318.10" width="56.80" height="9.30" fill="#f2bda3" stroke="none" stroke-width="0.00" rx="0.00"/>
<rect x="509.40" y="327.40" width="57.20" height="9.20" fill="#b3d9c4" stroke="none" stroke-width="0.00" rx="0.00"/>
<rect x="566.60" y="327.40" width="56.80" height="9.20" fill="#f2bda3" stroke="none" stroke-width="0.00" rx="0.00"/>
<line x1="452.40" y1="309.70" x2="682.40" y2="309.70" stroke="#3a3a3a" stroke-width="0.80"/>
<line x1="452.40" y1="318.10" x2="682.40" y2="318.10" stroke="#3a3a3a" stroke-width="0.80"/>
<line x1="452.40" y1="327.40" x2="682.40" y2="327.40" stroke="#3a3a3a" stroke-width="0.80"/>
<line x1="452.40" y1="336.60" x2="682.40" y2="336.60" stroke="#3a3a3a" stroke-width="0.80"/>
<line x1="452.40" y1="309.70" x2="452.40" y2="336.60" stroke="#3a3a3a" stroke-width="0.80"/>
<line x1="509.40" y1="309.70" x2="509.40" y2="336.60" stroke="#3a3a3a" stroke-width="0.80"/>
<line x1="566.60" y1="309.70" x2="566.60" y2="336.60" stroke="#3a3a3a" stroke-width="0.80"/>
<line x1="623.40" y1="309.70" x2="623.40" y2="336.60" stroke="#3a3a3a" stroke-width="0.80"/>
<line x1="682.40" y1="309.70" x2="682.40" y2="336.60" stroke="#3a3a3a" stroke-width="0.80"/>
<text x="480.90" y="315.80" font-size="6.90" text-anchor="middle" fill="#2b2b2b" textLength="21.09" lengthAdjust="spacingAndGlyphs">Group</text>
<text x="538.00" y="315.80" font-size="6.90" text-anchor="middle" fill="#2b2b2b" textLength="37.54" lengthAdjust="spacingAndGlyphs">Unassisted</text>
<text x="595.00" y="315.80" font-size="6.90" text-anchor="middle" fill="#2b2b2b" textLength="28.68" lengthAdjust="spacingAndGlyphs">Assisted</text>
<text x="652.90" y="315.80" font-size="6.90" text-anchor="middle" fill="#2b2b2b" textLength="44.29" lengthAdjust="spacingAndGlyphs">Improvement</text>
<text x="480.90" y="325.10" font-size="6.90" text-anchor="middle" fill="#2b2b2b" textLength="34.59" lengthAdjust="spacingAndGlyphs">Generalist</text>
<text x="538.00" y="325.10" font-size="6.90" text-anchor="middle" fill="#2b2b2b" textLength="21.52" lengthAdjust="spacingAndGlyphs">51.1%</text>
<text x="595.00" y="325.10" font-size="6.90" text-anchor="middle" fill="#2b2b2b" textLength="21.52" lengthAdjust="spacingAndGlyphs">67.6%</text>
<text x="652.90" y="325.10" font-size="6.90" text-anchor="middle" fill="#2b2b2b" textLength="25.95" lengthAdjust="spacingAndGlyphs">+16.5%</text>
<text x="480.90" y="334.30" font-size="6.90" text-anchor="middle" fill="#2b2b2b" textLength="43.02" lengthAdjust="spacingAndGlyphs">Dermatology</text>
<text x="538.00" y="334.30" font-size="6.90" text-anchor="middle" fill="#2b2b2b" textLength="21.52" lengthAdjust="spacingAndGlyphs">55.0%</text>
<text x="595.00" y="334.30" font-size="6.90" text-anchor="middle" fill="#2b2b2b" textLength="21.52" lengthAdjust="spacingAndGlyphs">65.3%</text>
<text x="652.90" y="334.30" font-size="6.90" text-anchor="middle" fill="#2b2b2b" textLength="25.95" lengthAdjust="spacingAndGlyphs">+10.3%</text>
<text x="0.50" y="362.00" font-size="12.30" text-anchor="start" fill="#000" font-weight="bold" stroke="#000" stroke-width="0.55">i</text>
<line x1="34.60" y1="375.00" x2="34.60" y2="475.00" stroke="#7a7a7a" stroke-width="0.90"/>
<line x1="31.10" y1="394.60" x2="34.60" y2="394.60" stroke="#7a7a7a" stroke-width="0.90"/>
<text x="28.10" y="397.00" font-size="6.80" text-anchor="end" fill="#2b2b2b" textLength="4.16" lengthAdjust="spacingAndGlyphs">4</text>
<line x1="31.10" y1="414.80" x2="34.60" y2="414.80" stroke="#7a7a7a" stroke-width="0.90"/>
<text x="28.10" y="417.20" font-size="6.80" text-anchor="end" fill="#2b2b2b" textLength="4.16" lengthAdjust="spacingAndGlyphs">3</text>
<line x1="31.10" y1="435.00" x2="34.60" y2="435.00" stroke="#7a7a7a" stroke-width="0.90"/>
<text x="28.10" y="437.40" font-size="6.80" text-anchor="end" fill="#2b2b2b" textLength="4.16" lengthAdjust="spacingAndGlyphs">2</text>
<line x1="31.10" y1="455.20" x2="34.60" y2="455.20" stroke="#7a7a7a" stroke-width="0.90"/>
<text x="28.10" y="457.60" font-size="6.80" text-anchor="end" fill="#2b2b2b" textLength="4.16" lengthAdjust="spacingAndGlyphs">1</text>
<line x1="34.60" y1="475.00" x2="337.60" y2="475.00" stroke="#7a7a7a" stroke-width="0.90"/>
<text x="6.90" y="424.00" font-size="8.40" text-anchor="middle" fill="#2b2b2b" textLength="91.50" lengthAdjust="spacingAndGlyphs" transform="rotate(-90 6.90 424.00)">Diagnostic assessment</text>
<text x="18.50" y="424.60" font-size="8.40" text-anchor="middle" fill="#2b2b2b" textLength="21.80" lengthAdjust="spacingAndGlyphs" transform="rotate(-90 18.50 424.60)">score</text>
<text x="85.10" y="372.90" font-size="6.90" text-anchor="middle" fill="#2b2b2b" textLength="45.00" lengthAdjust="spacingAndGlyphs">Inflammatory</text>
<text x="85.10" y="381.20" font-size="6.90" text-anchor="middle" fill="#2b2b2b" textLength="30.60" lengthAdjust="spacingAndGlyphs"><tspan font-style="italic">P</tspan> &lt; 0.001</text>
<line x1="59.00" y1="387.00" x2="110.60" y2="387.00" stroke="#8a8a8a" stroke-width="1.00"/>
<path d="M60.50 394.60 C60.68 395.00 60.57 395.07 61.60 397.00 C62.63 398.93 65.15 402.77 66.70 406.20 C68.25 409.63 70.67 414.05 70.90 417.60 C71.13 421.15 69.28 424.43 68.10 427.50 C66.92 430.57 65.07 433.52 63.80 436.00 C62.53 438.48 61.05 441.33 60.50 442.40 L57.50 442.40 C56.95 441.33 55.47 438.48 54.20 436.00 C52.93 433.52 51.08 430.57 49.90 427.50 C48.72 424.43 46.87 421.15 47.10 417.60 C47.33 414.05 49.75 409.63 51.30 406.20 C52.85 402.77 55.37 398.93 56.40 397.00 C57.43 395.07 57.32 395.00 57.50 394.60 Z" fill="#ddede3" fill-opacity="1.00"/>
<path d="M113.60 394.60 C113.93 395.00 114.53 395.53 115.60 397.00 C116.67 398.47 118.88 400.92 120.00 403.40 C121.12 405.88 122.53 408.83 122.30 411.90 C122.07 414.97 119.92 418.73 118.60 421.80 C117.28 424.87 115.53 427.82 114.40 430.30 C113.27 432.78 112.23 435.63 111.80 436.70 L109.40 436.70 C108.97 435.63 107.93 432.78 106.80 430.30 C105.67 427.82 103.92 424.87 102.60 421.80 C101.28 418.73 99.13 414.97 98.90 411.90 C98.67 408.83 100.08 405.88 101.20 403.40 C102.32 400.92 104.53 398.47 105.60 397.00 C106.67 395.53 107.27 395.00 107.60 394.60 Z" fill="#f9e5da" fill-opacity="1.00"/>
<line x1="59.00" y1="394.60" x2="110.60" y2="394.60" stroke="#9a9a9a" stroke-width="0.50"/>
<path d="M59.0 424.9L110.6 417.7M59.0 412.7L110.6 408.0M59.0 408.4L110.6 404.1M59.0 435.0L110.6 416.3M59.0 435.0L110.6 417.0M59.0 430.8L110.6 414.8M59.0 435.8L110.6 414.9M59.0 426.6L110.6 414.8M59.0 404.7L110.6 408.3M59.0 413.7L110.6 404.7M59.0 421.5L110.6 410.7M59.0 402.2L110.6 404.7M59.0 440.3L110.6 416.5M59.0 413.8L110.6 414.7M59.0 415.8L110.6 412.1M59.0 422.3L110.6 411.2M59.0 394.6L110.6 405.8M59.0 401.1L110.6 406.6M59.0 414.8L110.6 404.7M59.0 435.0L110.6 414.8M59.0 435.0L110.6 421.2M59.0 394.8L110.6 400.3M59.0 396.5L110.6 394.6M59.0 398.3L110.6 400.9M59.0 414.8L110.6 403.4M59.0 425.3L110.6 413.8M59.0 434.3L110.6 415.0M59.0 427.9L110.6 415.7M59.0 429.6L110.6 414.8M59.0 420.9L110.6 417.9M59.0 439.5L110.6 416.7M59.0 409.8L110.6 412.0M59.0 435.0L110.6 414.6M59.0 434.4L110.6 414.8M59.0 428.2L110.6 425.0M59.0 432.4L110.6 417.7M59.0 414.8L110.6 404.7M59.0 410.1L110.6 402.6M59.0 435.0L110.6 421.6M59.0 413.5L110.6 405.3M59.0 424.7L110.6 414.8M59.0 437.6L110.6 416.0M59.0 404.9L110.6 410.2M59.0 412.6L110.6 402.6M59.0 404.1L110.6 404.7M59.0 421.0L110.6 413.5M59.0 414.8L110.6 408.4M59.0 429.2L110.6 414.1M59.0 414.8L110.6 412.9M59.0 437.4L110.6 416.0M59.0 414.8L110.6 408.3M59.0 399.1L110.6 404.5M59.0 445.1L110.6 429.9M59.0 422.8L110.6 418.5M59.0 415.3L110.6 402.8M59.0 438.0L110.6 415.6M59.0 406.4L110.6 399.1M59.0 397.9L110.6 401.8M59.0 440.6L110.6 414.8M59.0 400.7L110.6 398.5M59.0 424.7L110.6 409.2M59.0 414.8L110.6 414.8M59.0 428.3L110.6 414.8M59.0 435.0L110.6 415.1M59.0 408.0L110.6 404.7M59.0 435.0L110.6 420.9M59.0 417.9L110.6 405.1M59.0 395.5L110.6 404.7M59.0 394.6L110.6 399.3M59.0 424.9L110.6 420.2" stroke="#8a8a8a" stroke-opacity="0.50" stroke-width="0.30" fill="none"/>
<line x1="59.00" y1="394.60" x2="59.00" y2="410.40" stroke="#4a5560" stroke-width="0.60"/>
<line x1="59.00" y1="429.00" x2="59.00" y2="442.40" stroke="#4a5560" stroke-width="0.60"/>
<line x1="55.75" y1="394.60" x2="62.25" y2="394.60" stroke="#34495e" stroke-width="0.80"/>
<line x1="55.75" y1="442.40" x2="62.25" y2="442.40" stroke="#34495e" stroke-width="0.80"/>
<rect x="52.50" y="410.40" width="13.00" height="18.60" fill="#9cd3b3" stroke="#333" stroke-width="0.65" rx="0.00"/>
<line x1="52.50" y1="420.00" x2="65.50" y2="420.00" stroke="#111" stroke-width="1.30"/>
<line x1="110.60" y1="394.60" x2="110.60" y2="403.40" stroke="#4a5560" stroke-width="0.60"/>
<line x1="110.60" y1="419.40" x2="110.60" y2="437.40" stroke="#4a5560" stroke-width="0.60"/>
<line x1="107.35" y1="394.60" x2="113.85" y2="394.60" stroke="#34495e" stroke-width="0.80"/>
<line x1="107.35" y1="437.40" x2="113.85" y2="437.40" stroke="#34495e" stroke-width="0.80"/>
<rect x="104.10" y="403.40" width="13.00" height="16.00" fill="#eaac8b" stroke="#333" stroke-width="0.65" rx="0.00"/>
<line x1="104.10" y1="413.40" x2="117.10" y2="413.40" stroke="#111" stroke-width="1.30"/>
<path d="M57.6 424.9h0.01M110.8 417.7h0.01M58.3 412.7h0.01M111.1 408.0h0.01M59.7 408.4h0.01M108.3 404.1h0.01M56.5 435.0h0.01M112.4 416.3h0.01M57.7 435.0h0.01M109.2 417.0h0.01M61.6 430.8h0.01M110.4 414.8h0.01M60.7 435.8h0.01M110.5 414.9h0.01M59.7 426.6h0.01M108.8 414.8h0.01M59.7 404.7h0.01M112.5 408.3h0.01M59.1 413.7h0.01M111.9 404.7h0.01M59.9 421.5h0.01M108.3 410.7h0.01M60.3 402.2h0.01M111.1 404.7h0.01M58.0 440.3h0.01M108.2 416.5h0.01M60.9 413.8h0.01M110.5 414.7h0.01M60.1 415.8h0.01M112.6 412.1h0.01M60.1 422.3h0.01M112.8 411.2h0.01M58.5 394.6h0.01M112.2 405.8h0.01M58.7 401.1h0.01M112.9 406.6h0.01M61.0 414.8h0.01M108.5 404.7h0.01M57.1 435.0h0.01M109.1 414.8h0.01M61.4 435.0h0.01M110.3 421.2h0.01M59.7 394.8h0.01M109.6 400.3h0.01M59.0 396.5h0.01M110.0 394.6h0.01M58.2 398.3h0.01M111.0 400.9h0.01M59.4 414.8h0.01M112.7 403.4h0.01M59.9 425.3h0.01M112.8 413.8h0.01M60.9 434.3h0.01M113.2 415.0h0.01M59.9 427.9h0.01M108.8 415.7h0.01M60.9 429.6h0.01M113.0 414.8h0.01M61.1 420.9h0.01M111.0 417.9h0.01M60.1 439.5h0.01M109.1 416.7h0.01M60.7 409.8h0.01M111.0 412.0h0.01M57.9 435.0h0.01M108.3 414.6h0.01M60.8 434.4h0.01M113.1 414.8h0.01M56.9 428.2h0.01M112.2 425.0h0.01M58.5 432.4h0.01M108.8 417.7h0.01M57.9 414.8h0.01M112.0 404.7h0.01M60.9 410.1h0.01M108.2 402.6h0.01M59.6 435.0h0.01M108.2 421.6h0.01M60.1 413.5h0.01M109.7 405.3h0.01M61.0 424.7h0.01M113.1 414.8h0.01M59.0 437.6h0.01M113.2 416.0h0.01M58.0 404.9h0.01M108.4 410.2h0.01M59.5 412.6h0.01M108.2 402.6h0.01M57.4 404.1h0.01M110.1 404.7h0.01M59.6 421.0h0.01M108.8 413.5h0.01M56.6 414.8h0.01M112.5 408.4h0.01M58.0 429.2h0.01M113.0 414.1h0.01M61.1 414.8h0.01M110.0 412.9h0.01M58.8 437.4h0.01M110.7 416.0h0.01M59.7 414.8h0.01M111.1 408.3h0.01M59.3 399.1h0.01M111.2 404.5h0.01M61.3 445.1h0.01M110.6 429.9h0.01M58.6 422.8h0.01M111.7 418.5h0.01M57.6 415.3h0.01M109.6 402.8h0.01M61.5 438.0h0.01M110.7 415.6h0.01M59.3 406.4h0.01M108.1 399.1h0.01M58.6 397.9h0.01M111.0 401.8h0.01M56.5 440.6h0.01M111.2 414.8h0.01M59.7 400.7h0.01M108.3 398.5h0.01M59.7 424.7h0.01M110.4 409.2h0.01M59.9 414.8h0.01M109.8 414.8h0.01M60.1 428.3h0.01M111.8 414.8h0.01M56.5 435.0h0.01M108.3 415.1h0.01M59.9 408.0h0.01M113.0 404.7h0.01M57.7 435.0h0.01M110.4 420.9h0.01M59.5 417.9h0.01M109.7 405.1h0.01M58.3 395.5h0.01M109.6 404.7h0.01M58.3 394.6h0.01M111.1 399.3h0.01M58.0 424.9h0.01M110.0 420.2h0.01" stroke="#2c4a68" stroke-opacity="0.8" stroke-width="1.2" stroke-linecap="round" fill="none"/>
<line x1="59.00" y1="419.60" x2="110.60" y2="412.40" stroke="#000" stroke-width="0.90"/>
<circle cx="59.00" cy="419.60" r="1.4" fill="#fff" stroke="#000" stroke-width="0.8"/>
<circle cx="110.60" cy="412.40" r="1.4" fill="#fff" stroke="#000" stroke-width="0.8"/>
<text x="186.00" y="374.50" font-size="6.90" text-anchor="middle" fill="#2b2b2b" textLength="36.00" lengthAdjust="spacingAndGlyphs">Neoplastic</text>
<text x="186.00" y="382.80" font-size="6.90" text-anchor="middle" fill="#2b2b2b" textLength="31.00" lengthAdjust="spacingAndGlyphs"><tspan font-style="italic">P</tspan> &lt; 0.001</text>
<line x1="160.40" y1="387.00" x2="211.60" y2="387.00" stroke="#8a8a8a" stroke-width="1.00"/>
<path d="M165.40 394.20 C166.23 395.73 169.27 400.22 170.40 403.40 C171.53 406.58 172.20 410.00 172.20 413.30 C172.20 416.60 171.30 420.13 170.40 423.20 C169.50 426.27 167.98 428.62 166.80 431.70 C165.62 434.78 164.20 438.62 163.30 441.70 C162.40 444.78 161.80 447.97 161.40 450.20 C161.00 452.43 160.98 454.28 160.90 455.10 L160.10 455.10 C160.02 454.28 160.00 452.43 159.60 450.20 C159.20 447.97 158.60 444.78 157.70 441.70 C156.80 438.62 155.38 434.78 154.20 431.70 C153.02 428.62 151.50 426.27 150.60 423.20 C149.70 420.13 148.80 416.60 148.80 413.30 C148.80 410.00 149.47 406.58 150.60 403.40 C151.73 400.22 154.77 395.73 155.60 394.20 Z" fill="#ddede3" fill-opacity="1.00"/>
<path d="M222.90 394.20 C223.07 395.27 224.15 397.88 223.90 400.60 C223.65 403.32 222.28 407.20 221.40 410.50 C220.52 413.80 219.53 417.10 218.60 420.40 C217.67 423.70 216.62 427.53 215.80 430.30 C214.98 433.07 214.25 435.10 213.70 437.00 C213.15 438.90 212.70 440.92 212.50 441.70 L210.50 441.70 C210.30 440.92 209.85 438.90 209.30 437.00 C208.75 435.10 208.02 433.07 207.20 430.30 C206.38 427.53 205.33 423.70 204.40 420.40 C203.47 417.10 202.48 413.80 201.60 410.50 C200.72 407.20 199.35 403.32 199.10 400.60 C198.85 397.88 199.93 395.27 200.10 394.20 Z" fill="#f9e5da" fill-opacity="1.00"/>
<line x1="160.50" y1="394.20" x2="211.50" y2="394.20" stroke="#9a9a9a" stroke-width="0.50"/>
<path d="M160.5 414.8L211.5 414.8M160.5 414.8L211.5 401.9M160.5 424.9L211.5 414.8M160.5 415.9L211.5 411.1M160.5 404.1L211.5 404.7M160.5 424.9L211.5 419.4M160.5 404.1L211.5 401.5M160.5 415.6L211.5 404.0M160.5 404.7L211.5 414.8M160.5 424.9L211.5 423.9M160.5 424.9L211.5 416.1M160.5 413.1L211.5 414.8M160.5 394.7L211.5 399.1M160.5 404.7L211.5 406.1M160.5 426.2L211.5 407.1M160.5 420.1L211.5 404.7M160.5 415.2L211.5 409.8M160.5 425.6L211.5 404.7M160.5 434.0L211.5 415.6M160.5 420.4L211.5 404.7M160.5 441.5L211.5 416.5M160.5 411.8L211.5 410.4M160.5 400.6L211.5 404.7M160.5 400.8L211.5 404.4M160.5 406.4L211.5 403.8M160.5 421.6L211.5 422.2M160.5 422.0L211.5 421.8M160.5 418.2L211.5 415.4M160.5 414.8L211.5 407.1M160.5 426.1L211.5 414.8M160.5 394.4L211.5 398.8M160.5 425.1L211.5 414.8M160.5 435.0L211.5 416.5M160.5 437.0L211.5 424.9M160.5 397.5L211.5 401.0M160.5 427.8L211.5 426.0M160.5 407.9L211.5 404.7M160.5 424.9L211.5 404.7M160.5 414.8L211.5 413.4M160.5 404.7L211.5 402.6M160.5 395.8L211.5 394.6M160.5 424.9L211.5 416.8M160.5 422.9L211.5 408.4M160.5 394.4L211.5 404.7M160.5 395.8L211.5 400.3M160.5 455.0L211.5 432.0M160.5 442.0L211.5 437.0" stroke="#8a8a8a" stroke-opacity="0.50" stroke-width="0.30" fill="none"/>
<line x1="160.50" y1="394.20" x2="160.50" y2="407.00" stroke="#4a5560" stroke-width="0.60"/>
<line x1="160.50" y1="423.20" x2="160.50" y2="442.40" stroke="#4a5560" stroke-width="0.60"/>
<line x1="157.25" y1="394.20" x2="163.75" y2="394.20" stroke="#34495e" stroke-width="0.80"/>
<line x1="157.25" y1="442.40" x2="163.75" y2="442.40" stroke="#34495e" stroke-width="0.80"/>
<rect x="154.00" y="407.00" width="13.00" height="16.20" fill="#9cd3b3" stroke="#333" stroke-width="0.65" rx="0.00"/>
<line x1="154.00" y1="417.90" x2="167.00" y2="417.90" stroke="#111" stroke-width="1.30"/>
<line x1="211.50" y1="394.20" x2="211.50" y2="402.30" stroke="#4a5560" stroke-width="0.60"/>
<line x1="211.50" y1="418.60" x2="211.50" y2="437.70" stroke="#4a5560" stroke-width="0.60"/>
<line x1="208.25" y1="394.20" x2="214.75" y2="394.20" stroke="#34495e" stroke-width="0.80"/>
<line x1="208.25" y1="437.70" x2="214.75" y2="437.70" stroke="#34495e" stroke-width="0.80"/>
<rect x="205.00" y="402.30" width="13.00" height="16.30" fill="#eaac8b" stroke="#333" stroke-width="0.65" rx="0.00"/>
<line x1="205.00" y1="407.20" x2="218.00" y2="407.20" stroke="#111" stroke-width="1.30"/>
<path d="M159.1 414.8h0.01M211.7 414.8h0.01M159.8 414.8h0.01M212.0 401.9h0.01M161.2 424.9h0.01M209.2 414.8h0.01M158.0 415.9h0.01M213.3 411.1h0.01M159.2 404.1h0.01M210.1 404.7h0.01M163.1 424.9h0.01M211.3 419.4h0.01M162.2 404.1h0.01M211.4 401.5h0.01M161.2 415.6h0.01M209.7 404.0h0.01M161.2 404.7h0.01M213.4 414.8h0.01M160.6 424.9h0.01M212.8 423.9h0.01M161.4 424.9h0.01M209.2 416.1h0.01M161.8 413.1h0.01M212.0 414.8h0.01M159.5 394.7h0.01M209.1 399.1h0.01M162.4 404.7h0.01M211.4 406.1h0.01M161.6 426.2h0.01M213.5 407.1h0.01M161.6 420.1h0.01M213.7 404.7h0.01M160.0 415.2h0.01M213.1 409.8h0.01M160.2 425.6h0.01M213.8 404.7h0.01M162.5 434.0h0.01M209.4 415.6h0.01M158.6 420.4h0.01M210.0 404.7h0.01M162.9 441.5h0.01M211.2 416.5h0.01M161.2 411.8h0.01M210.5 410.4h0.01M160.5 400.6h0.01M210.9 404.7h0.01M159.7 400.8h0.01M211.9 404.4h0.01M160.9 406.4h0.01M213.6 403.8h0.01M161.4 421.6h0.01M213.7 422.2h0.01M162.4 422.0h0.01M214.1 421.8h0.01M161.4 418.2h0.01M209.7 415.4h0.01M162.4 414.8h0.01M213.9 407.1h0.01M162.6 426.1h0.01M211.9 414.8h0.01M161.6 394.4h0.01M210.0 398.8h0.01M162.2 425.1h0.01M211.9 414.8h0.01M159.4 435.0h0.01M209.2 416.5h0.01M162.3 437.0h0.01M214.0 424.9h0.01M158.4 397.5h0.01M213.1 401.0h0.01M160.0 427.8h0.01M209.7 426.0h0.01M159.4 407.9h0.01M212.9 404.7h0.01M162.4 424.9h0.01M209.1 404.7h0.01M161.1 414.8h0.01M209.1 413.4h0.01M161.6 404.7h0.01M210.6 402.6h0.01M162.5 395.8h0.01M214.0 394.6h0.01M160.5 424.9h0.01M214.1 416.8h0.01M159.5 422.9h0.01M209.3 408.4h0.01M161.0 394.4h0.01M209.1 404.7h0.01M158.9 395.8h0.01M211.0 400.3h0.01M161.1 455.0h0.01M209.7 432.0h0.01M158.1 442.0h0.01M213.4 437.0h0.01" stroke="#2c4a68" stroke-opacity="0.8" stroke-width="1.2" stroke-linecap="round" fill="none"/>
<line x1="160.50" y1="417.90" x2="211.50" y2="411.20" stroke="#000" stroke-width="0.90"/>
<circle cx="160.50" cy="417.90" r="1.4" fill="#fff" stroke="#000" stroke-width="0.8"/>
<circle cx="211.50" cy="411.20" r="1.4" fill="#fff" stroke="#000" stroke-width="0.8"/>
<text x="287.30" y="374.50" font-size="6.90" text-anchor="middle" fill="#2b2b2b" textLength="19.40" lengthAdjust="spacingAndGlyphs">Other</text>
<text x="287.30" y="382.80" font-size="6.90" text-anchor="middle" fill="#2b2b2b" textLength="31.40" lengthAdjust="spacingAndGlyphs"><tspan font-style="italic">P</tspan> = 0.045</text>
<line x1="261.60" y1="387.00" x2="312.60" y2="387.00" stroke="#8a8a8a" stroke-width="1.00"/>
<path d="M264.10 398.80 C264.85 398.92 267.40 399.13 268.60 399.50 C269.80 399.87 270.47 400.08 271.30 401.00 C272.13 401.92 272.98 403.28 273.60 405.00 C274.22 406.72 275.20 408.72 275.00 411.30 C274.80 413.88 273.22 418.22 272.40 420.50 C271.58 422.78 270.98 423.85 270.10 425.00 C269.22 426.15 268.27 426.93 267.10 427.40 C265.93 427.87 263.77 427.73 263.10 427.80 L261.10 427.80 C260.43 427.73 258.27 427.87 257.10 427.40 C255.93 426.93 254.98 426.15 254.10 425.00 C253.22 423.85 252.62 422.78 251.80 420.50 C250.98 418.22 249.40 413.88 249.20 411.30 C249.00 408.72 249.98 406.72 250.60 405.00 C251.22 403.28 252.07 401.92 252.90 401.00 C253.73 400.08 254.40 399.87 255.60 399.50 C256.80 399.13 259.35 398.92 260.10 398.80 Z" fill="#ddede3" fill-opacity="1.00"/>
<path d="M314.50 394.90 C315.33 395.02 318.05 394.92 319.50 395.60 C320.95 396.28 322.32 397.48 323.20 399.00 C324.08 400.52 324.65 402.00 324.80 404.70 C324.95 407.40 324.48 412.48 324.10 415.20 C323.72 417.92 323.18 419.53 322.50 421.00 C321.82 422.47 321.33 423.40 320.00 424.00 C318.67 424.60 315.42 424.50 314.50 424.60 L310.50 424.60 C309.58 424.50 306.33 424.60 305.00 424.00 C303.67 423.40 303.18 422.47 302.50 421.00 C301.82 419.53 301.28 417.92 300.90 415.20 C300.52 412.48 300.05 407.40 300.20 404.70 C300.35 402.00 300.92 400.52 301.80 399.00 C302.68 397.48 304.05 396.28 305.50 395.60 C306.95 394.92 309.67 395.02 310.50 394.90 Z" fill="#f9e5da" fill-opacity="1.00"/>
<path d="M262.1 425.8L312.5 419.4M262.1 421.7L312.5 417.3M262.1 407.3L312.5 402.5M262.1 416.2L312.5 411.0M262.1 426.6L312.5 421.4M262.1 416.8L312.5 411.3M262.1 413.6L312.5 407.0M262.1 416.3L312.5 412.3M262.1 401.7L312.5 398.1M262.1 416.7L312.5 413.5M262.1 415.3L312.5 409.8M262.1 403.0L312.5 400.3" stroke="#8a8a8a" stroke-opacity="0.50" stroke-width="0.30" fill="none"/>
<line x1="262.10" y1="399.20" x2="262.10" y2="403.40" stroke="#4a5560" stroke-width="0.60"/>
<line x1="262.10" y1="417.60" x2="262.10" y2="427.30" stroke="#4a5560" stroke-width="0.60"/>
<line x1="258.90" y1="399.20" x2="265.30" y2="399.20" stroke="#34495e" stroke-width="0.80"/>
<line x1="258.90" y1="427.30" x2="265.30" y2="427.30" stroke="#34495e" stroke-width="0.80"/>
<rect x="255.70" y="403.40" width="12.80" height="14.20" fill="#9cd3b3" stroke="#333" stroke-width="0.65" rx="0.00"/>
<line x1="255.70" y1="415.90" x2="268.50" y2="415.90" stroke="#111" stroke-width="1.30"/>
<line x1="312.50" y1="394.90" x2="312.50" y2="400.10" stroke="#4a5560" stroke-width="0.60"/>
<line x1="312.50" y1="415.20" x2="312.50" y2="424.40" stroke="#4a5560" stroke-width="0.60"/>
<line x1="309.30" y1="394.90" x2="315.70" y2="394.90" stroke="#34495e" stroke-width="0.80"/>
<line x1="309.30" y1="424.40" x2="315.70" y2="424.40" stroke="#34495e" stroke-width="0.80"/>
<rect x="306.10" y="400.10" width="12.80" height="15.10" fill="#eaac8b" stroke="#333" stroke-width="0.65" rx="0.00"/>
<line x1="306.10" y1="410.20" x2="318.90" y2="410.20" stroke="#111" stroke-width="1.30"/>
<path d="M261.3 425.8h0.01M312.6 419.4h0.01M261.7 421.7h0.01M312.8 417.3h0.01M262.5 407.3h0.01M311.1 402.5h0.01M260.5 416.2h0.01M313.6 411.0h0.01M261.3 426.6h0.01M311.6 421.4h0.01M263.7 416.8h0.01M312.4 411.3h0.01M263.2 413.6h0.01M312.4 407.0h0.01M262.5 416.3h0.01M311.4 412.3h0.01M262.5 401.7h0.01M313.7 398.1h0.01M262.2 416.7h0.01M313.3 413.5h0.01M262.6 415.3h0.01M311.1 409.8h0.01M262.9 403.0h0.01M312.8 400.3h0.01" stroke="#2c4a68" stroke-opacity="0.8" stroke-width="1.2" stroke-linecap="round" fill="none"/>
<line x1="262.10" y1="411.70" x2="312.50" y2="408.40" stroke="#000" stroke-width="0.90"/>
<circle cx="262.10" cy="411.70" r="1.4" fill="#fff" stroke="#000" stroke-width="0.8"/>
<circle cx="312.50" cy="408.40" r="1.4" fill="#fff" stroke="#000" stroke-width="0.8"/>
<text x="60.00" y="484.00" font-size="6.50" text-anchor="middle" fill="#2b2b2b" textLength="36.00" lengthAdjust="spacingAndGlyphs">Unassisted</text>
<text x="110.00" y="484.00" font-size="6.50" text-anchor="middle" fill="#2b2b2b" textLength="28.00" lengthAdjust="spacingAndGlyphs">Assisted</text>
<text x="161.00" y="484.00" font-size="6.50" text-anchor="middle" fill="#2b2b2b" textLength="36.00" lengthAdjust="spacingAndGlyphs">Unassisted</text>
<text x="211.40" y="484.00" font-size="6.50" text-anchor="middle" fill="#2b2b2b" textLength="28.00" lengthAdjust="spacingAndGlyphs">Assisted</text>
<text x="262.00" y="484.00" font-size="6.50" text-anchor="middle" fill="#2b2b2b" textLength="36.00" lengthAdjust="spacingAndGlyphs">Unassisted</text>
<text x="312.40" y="484.00" font-size="6.50" text-anchor="middle" fill="#2b2b2b" textLength="28.00" lengthAdjust="spacingAndGlyphs">Assisted</text>
<rect x="35.80" y="491.00" width="300.70" height="9.60" fill="#ececec" stroke="none" stroke-width="0.00" rx="0.00"/>
<rect x="110.60" y="500.60" width="75.00" height="9.60" fill="#b3d9c4" stroke="none" stroke-width="0.00" rx="0.00"/>
<rect x="185.60" y="500.60" width="73.90" height="9.60" fill="#f2bda3" stroke="none" stroke-width="0.00" rx="0.00"/>
<rect x="110.60" y="510.20" width="75.00" height="9.30" fill="#b3d9c4" stroke="none" stroke-width="0.00" rx="0.00"/>
<rect x="185.60" y="510.20" width="73.90" height="9.30" fill="#f2bda3" stroke="none" stroke-width="0.00" rx="0.00"/>
<rect x="110.60" y="519.50" width="75.00" height="9.10" fill="#b3d9c4" stroke="none" stroke-width="0.00" rx="0.00"/>
<rect x="185.60" y="519.50" width="73.90" height="9.10" fill="#f2bda3" stroke="none" stroke-width="0.00" rx="0.00"/>
<line x1="35.80" y1="491.00" x2="336.50" y2="491.00" stroke="#3a3a3a" stroke-width="0.80"/>
<line x1="35.80" y1="500.60" x2="336.50" y2="500.60" stroke="#3a3a3a" stroke-width="0.80"/>
<line x1="35.80" y1="510.20" x2="336.50" y2="510.20" stroke="#3a3a3a" stroke-width="0.80"/>
<line x1="35.80" y1="519.50" x2="336.50" y2="519.50" stroke="#3a3a3a" stroke-width="0.80"/>
<line x1="35.80" y1="528.60" x2="336.50" y2="528.60" stroke="#3a3a3a" stroke-width="0.80"/>
<line x1="35.80" y1="491.00" x2="35.80" y2="528.60" stroke="#3a3a3a" stroke-width="0.80"/>
<line x1="110.60" y1="491.00" x2="110.60" y2="528.60" stroke="#3a3a3a" stroke-width="0.80"/>
<line x1="185.60" y1="491.00" x2="185.60" y2="528.60" stroke="#3a3a3a" stroke-width="0.80"/>
<line x1="259.50" y1="491.00" x2="259.50" y2="528.60" stroke="#3a3a3a" stroke-width="0.80"/>
<line x1="336.50" y1="491.00" x2="336.50" y2="528.60" stroke="#3a3a3a" stroke-width="0.80"/>
<text x="73.20" y="498.30" font-size="6.90" text-anchor="middle" fill="#2b2b2b" textLength="38.38" lengthAdjust="spacingAndGlyphs">Major class</text>
<text x="148.10" y="498.30" font-size="6.90" text-anchor="middle" fill="#2b2b2b" textLength="37.54" lengthAdjust="spacingAndGlyphs">Unassisted</text>
<text x="222.55" y="498.30" font-size="6.90" text-anchor="middle" fill="#2b2b2b" textLength="28.68" lengthAdjust="spacingAndGlyphs">Assisted</text>
<text x="298.00" y="498.30" font-size="6.90" text-anchor="middle" fill="#2b2b2b" textLength="44.29" lengthAdjust="spacingAndGlyphs">Improvement</text>
<text x="73.20" y="507.90" font-size="6.90" text-anchor="middle" fill="#2b2b2b" textLength="43.86" lengthAdjust="spacingAndGlyphs">Inflammatory</text>
<text x="148.10" y="507.90" font-size="6.90" text-anchor="middle" fill="#2b2b2b" textLength="14.77" lengthAdjust="spacingAndGlyphs">2.75</text>
<text x="222.55" y="507.90" font-size="6.90" text-anchor="middle" fill="#2b2b2b" textLength="14.21" lengthAdjust="spacingAndGlyphs">3.11</text>
<text x="298.00" y="507.90" font-size="6.90" text-anchor="middle" fill="#2b2b2b" textLength="19.20" lengthAdjust="spacingAndGlyphs">+0.36</text>
<text x="73.20" y="517.20" font-size="6.90" text-anchor="middle" fill="#2b2b2b" textLength="35.44" lengthAdjust="spacingAndGlyphs">Neoplastic</text>
<text x="148.10" y="517.20" font-size="6.90" text-anchor="middle" fill="#2b2b2b" textLength="14.77" lengthAdjust="spacingAndGlyphs">2.87</text>
<text x="222.55" y="517.20" font-size="6.90" text-anchor="middle" fill="#2b2b2b" textLength="14.77" lengthAdjust="spacingAndGlyphs">3.18</text>
<text x="298.00" y="517.20" font-size="6.90" text-anchor="middle" fill="#2b2b2b" textLength="19.20" lengthAdjust="spacingAndGlyphs">+0.31</text>
<text x="73.20" y="526.30" font-size="6.90" text-anchor="middle" fill="#2b2b2b" textLength="18.98" lengthAdjust="spacingAndGlyphs">Other</text>
<text x="148.10" y="526.30" font-size="6.90" text-anchor="middle" fill="#2b2b2b" textLength="14.77" lengthAdjust="spacingAndGlyphs">3.15</text>
<text x="222.55" y="526.30" font-size="6.90" text-anchor="middle" fill="#2b2b2b" textLength="14.77" lengthAdjust="spacingAndGlyphs">3.31</text>
<text x="298.00" y="526.30" font-size="6.90" text-anchor="middle" fill="#2b2b2b" textLength="19.20" lengthAdjust="spacingAndGlyphs">+0.16</text>
<text x="353.70" y="362.00" font-size="12.30" text-anchor="start" fill="#000" font-weight="bold" stroke="#000" stroke-width="0.55">j</text>
<line x1="386.40" y1="377.40" x2="386.40" y2="476.00" stroke="#7a7a7a" stroke-width="0.90"/>
<line x1="382.90" y1="391.60" x2="386.40" y2="391.60" stroke="#7a7a7a" stroke-width="0.90"/>
<text x="379.90" y="394.00" font-size="6.80" text-anchor="end" fill="#2b2b2b" textLength="12.48" lengthAdjust="spacingAndGlyphs">100</text>
<line x1="382.90" y1="405.68" x2="386.40" y2="405.68" stroke="#7a7a7a" stroke-width="0.90"/>
<text x="379.90" y="408.08" font-size="6.80" text-anchor="end" fill="#2b2b2b" textLength="8.32" lengthAdjust="spacingAndGlyphs">80</text>
<line x1="382.90" y1="419.76" x2="386.40" y2="419.76" stroke="#7a7a7a" stroke-width="0.90"/>
<text x="379.90" y="422.16" font-size="6.80" text-anchor="end" fill="#2b2b2b" textLength="8.32" lengthAdjust="spacingAndGlyphs">60</text>
<line x1="382.90" y1="433.84" x2="386.40" y2="433.84" stroke="#7a7a7a" stroke-width="0.90"/>
<text x="379.90" y="436.24" font-size="6.80" text-anchor="end" fill="#2b2b2b" textLength="8.32" lengthAdjust="spacingAndGlyphs">40</text>
<line x1="382.90" y1="447.92" x2="386.40" y2="447.92" stroke="#7a7a7a" stroke-width="0.90"/>
<text x="379.90" y="450.32" font-size="6.80" text-anchor="end" fill="#2b2b2b" textLength="8.32" lengthAdjust="spacingAndGlyphs">20</text>
<line x1="382.90" y1="462.00" x2="386.40" y2="462.00" stroke="#7a7a7a" stroke-width="0.90"/>
<text x="379.90" y="464.40" font-size="6.80" text-anchor="end" fill="#2b2b2b" textLength="4.16" lengthAdjust="spacingAndGlyphs">0</text>
<line x1="386.40" y1="476.00" x2="684.60" y2="476.00" stroke="#7a7a7a" stroke-width="0.90"/>
<text x="360.30" y="426.50" font-size="8.40" text-anchor="middle" fill="#2b2b2b" textLength="75.00" lengthAdjust="spacingAndGlyphs" transform="rotate(-90 360.30 426.50)">Top 3 accuracy (%)</text>
<text x="435.70" y="370.60" font-size="6.90" text-anchor="middle" fill="#2b2b2b" textLength="45.40" lengthAdjust="spacingAndGlyphs">Inflammatory</text>
<text x="435.70" y="378.90" font-size="6.90" text-anchor="middle" fill="#2b2b2b" textLength="31.00" lengthAdjust="spacingAndGlyphs"><tspan font-style="italic">P</tspan> &lt; 0.001</text>
<line x1="411.00" y1="383.00" x2="461.00" y2="383.00" stroke="#8a8a8a" stroke-width="1.00"/>
<path d="M415.40 391.80 C415.73 394.45 416.63 402.53 417.40 407.70 C418.17 412.87 419.17 417.75 420.00 422.80 C420.83 427.85 422.40 433.47 422.40 438.00 C422.40 442.53 421.17 445.97 420.00 450.00 C418.83 454.03 416.17 460.17 415.40 462.20 L406.40 462.20 C405.63 460.17 402.97 454.03 401.80 450.00 C400.63 445.97 399.40 442.53 399.40 438.00 C399.40 433.47 400.97 427.85 401.80 422.80 C402.63 417.75 403.63 412.87 404.40 407.70 C405.17 402.53 406.07 394.45 406.40 391.80 Z" fill="#ddede3" fill-opacity="1.00"/>
<path d="M471.00 391.80 C471.20 393.70 471.88 398.78 472.20 403.20 C472.52 407.62 473.40 413.27 472.90 418.30 C472.40 423.33 470.20 428.87 469.20 433.40 C468.20 437.93 467.42 440.70 466.90 445.50 C466.38 450.30 466.23 459.42 466.10 462.20 L455.50 462.20 C455.37 459.42 455.22 450.30 454.70 445.50 C454.18 440.70 453.40 437.93 452.40 433.40 C451.40 428.87 449.20 423.33 448.70 418.30 C448.20 413.27 449.08 407.62 449.40 403.20 C449.72 398.78 450.40 393.70 450.60 391.80 Z" fill="#f9e5da" fill-opacity="1.00"/>
<line x1="410.90" y1="391.80" x2="460.80" y2="391.80" stroke="#9a9a9a" stroke-width="0.50"/>
<path d="M410.9 444.4L460.8 423.5M410.9 426.8L460.8 399.2M410.9 426.8L460.8 409.2M410.9 437.6L460.8 403.4M410.9 433.8L460.8 405.7M410.9 408.9L460.8 391.6M410.9 433.8L460.8 404.9M410.9 405.9L460.8 403.4M410.9 391.6L460.8 405.7M410.9 447.9L460.8 406.3M410.9 450.2L460.8 433.8M410.9 420.3L460.8 396.8M410.9 391.6L460.8 403.4M410.9 397.8L460.8 391.6M410.9 450.2L460.8 426.8M410.9 444.4L460.8 415.0M410.9 462.0L460.8 426.8M410.9 426.8L460.8 403.4M410.9 421.3L460.8 415.0M410.9 391.6L460.8 426.8M410.9 428.4L460.8 415.0M410.9 419.8L460.8 403.4M410.9 443.0L460.8 411.4M410.9 403.4L460.8 409.2M410.9 415.0L460.8 409.7M410.9 426.8L460.8 433.9M410.9 437.2L460.8 438.6M410.9 443.3L460.8 405.7M410.9 462.0L460.8 428.8M410.9 405.8L460.8 417.2M410.9 462.0L460.8 423.4M410.9 450.2L460.8 424.5M410.9 426.8L460.8 403.0M410.9 419.8L460.8 426.8M410.9 391.6L460.8 391.6M410.9 450.2L460.8 426.7M410.9 424.4L460.8 413.5M410.9 409.2L460.8 391.6M410.9 394.4L460.8 415.0M410.9 450.2L460.8 415.0M410.9 433.8L460.8 437.2M410.9 456.1L460.8 426.8M410.9 448.9L460.8 426.8M410.9 419.8L460.8 409.2M410.9 438.6L460.8 409.2M410.9 433.8L460.8 433.8M410.9 447.9L460.8 409.2M410.9 410.7L460.8 410.2M410.9 462.0L460.8 433.8M410.9 418.9L460.8 402.2M410.9 423.7L460.8 415.0M410.9 415.0L460.8 402.0M410.9 419.8L460.8 415.0M410.9 391.6L460.8 419.8M410.9 446.7L460.8 407.0M410.9 419.8L460.8 426.8M410.9 438.6L460.8 409.2M410.9 449.9L460.8 415.0M410.9 462.0L460.8 444.4M410.9 403.4L460.8 415.0M410.9 444.4L460.8 415.0M410.9 397.9L460.8 415.0M410.9 403.4L460.8 419.8M410.9 438.6L460.8 409.2M410.9 450.2L460.8 438.6M410.9 447.9L460.8 419.8M410.9 441.8L460.8 405.7M410.9 450.2L460.8 427.5M410.9 433.8L460.8 427.0M410.9 403.4L460.8 393.4M410.9 450.2L460.8 419.8M410.9 444.8L460.8 449.4M410.9 438.6L460.8 426.8M410.9 431.7L460.8 415.0M410.9 431.4L460.8 402.0M410.9 438.6L460.8 433.8M410.9 406.5L460.8 405.7M410.9 391.6L460.8 403.4M410.9 450.6L460.8 426.8M410.9 450.2L460.8 433.8M410.9 444.4L460.8 426.8M410.9 391.6L460.8 423.4M410.9 428.5L460.8 403.4M410.9 426.8L460.8 405.7M410.9 393.2L460.8 413.8M410.9 433.8L460.8 403.4M410.9 415.0L460.8 409.2M410.9 405.7L460.8 426.8M410.9 403.4L460.8 397.1M410.9 444.4L460.8 405.7" stroke="#8a8a8a" stroke-opacity="0.45" stroke-width="0.30" fill="none"/>
<line x1="410.90" y1="391.80" x2="410.90" y2="411.80" stroke="#4a5560" stroke-width="0.60"/>
<line x1="410.90" y1="444.30" x2="410.90" y2="462.00" stroke="#4a5560" stroke-width="0.60"/>
<line x1="407.70" y1="391.80" x2="414.10" y2="391.80" stroke="#34495e" stroke-width="0.80"/>
<line x1="407.70" y1="462.00" x2="414.10" y2="462.00" stroke="#34495e" stroke-width="0.80"/>
<rect x="404.50" y="411.80" width="12.80" height="32.50" fill="#9cd3b3" stroke="#333" stroke-width="0.65" rx="0.00"/>
<line x1="404.50" y1="433.40" x2="417.30" y2="433.40" stroke="#111" stroke-width="1.30"/>
<line x1="460.80" y1="391.80" x2="460.80" y2="400.10" stroke="#4a5560" stroke-width="0.60"/>
<line x1="460.80" y1="433.40" x2="460.80" y2="462.00" stroke="#4a5560" stroke-width="0.60"/>
<line x1="457.60" y1="391.80" x2="464.00" y2="391.80" stroke="#34495e" stroke-width="0.80"/>
<line x1="457.60" y1="462.00" x2="464.00" y2="462.00" stroke="#34495e" stroke-width="0.80"/>
<rect x="454.40" y="400.10" width="12.80" height="33.30" fill="#eaac8b" stroke="#333" stroke-width="0.65" rx="0.00"/>
<line x1="454.40" y1="416.80" x2="467.20" y2="416.80" stroke="#111" stroke-width="1.30"/>
<path d="M409.5 444.4h0.01M461.0 423.5h0.01M410.2 426.8h0.01M461.3 399.2h0.01M411.6 426.8h0.01M458.5 409.2h0.01M408.4 437.6h0.01M462.6 403.4h0.01M409.6 433.8h0.01M459.4 405.7h0.01M413.5 408.9h0.01M460.6 391.6h0.01M412.6 433.8h0.01M460.7 404.9h0.01M411.6 405.9h0.01M459.0 403.4h0.01M411.6 391.6h0.01M462.7 405.7h0.01M411.0 447.9h0.01M462.1 406.3h0.01M411.8 450.2h0.01M458.5 433.8h0.01M412.2 420.3h0.01M461.3 396.8h0.01M409.9 391.6h0.01M458.4 403.4h0.01M412.8 397.8h0.01M460.7 391.6h0.01M412.0 450.2h0.01M462.8 426.8h0.01M412.0 444.4h0.01M463.0 415.0h0.01M410.4 462.0h0.01M462.4 426.8h0.01M410.6 426.8h0.01M463.1 403.4h0.01M412.9 421.3h0.01M458.7 415.0h0.01M409.0 391.6h0.01M459.3 426.8h0.01M413.3 428.4h0.01M460.5 415.0h0.01M411.6 419.8h0.01M459.8 403.4h0.01M410.9 443.0h0.01M460.2 411.4h0.01M410.1 403.4h0.01M461.2 409.2h0.01M411.3 415.0h0.01M462.9 409.7h0.01M411.8 426.8h0.01M463.0 433.9h0.01M412.8 437.2h0.01M463.4 438.6h0.01M411.8 443.3h0.01M459.0 405.7h0.01M412.8 462.0h0.01M463.2 428.8h0.01M413.0 405.8h0.01M461.2 417.2h0.01M412.0 462.0h0.01M459.3 423.4h0.01M412.6 450.2h0.01M461.2 424.5h0.01M409.8 426.8h0.01M458.5 403.0h0.01M412.7 419.8h0.01M463.3 426.8h0.01M408.8 391.6h0.01M462.4 391.6h0.01M410.4 450.2h0.01M459.0 426.7h0.01M409.8 424.4h0.01M462.2 413.5h0.01M412.8 409.2h0.01M458.4 391.6h0.01M411.5 394.4h0.01M458.4 415.0h0.01M412.0 450.2h0.01M459.9 415.0h0.01M412.9 433.8h0.01M463.3 437.2h0.01M410.9 456.1h0.01M463.4 426.8h0.01M409.9 448.9h0.01M458.6 426.8h0.01M411.4 419.8h0.01M458.4 409.2h0.01M409.3 438.6h0.01M460.3 409.2h0.01M411.5 433.8h0.01M459.0 433.8h0.01M408.5 447.9h0.01M462.7 409.2h0.01M409.9 410.7h0.01M463.2 410.2h0.01M413.0 462.0h0.01M460.2 433.8h0.01M410.7 418.9h0.01M460.9 402.2h0.01M411.6 423.7h0.01M461.3 415.0h0.01M411.2 415.0h0.01M461.4 402.0h0.01M413.2 419.8h0.01M460.8 415.0h0.01M410.5 391.6h0.01M461.9 419.8h0.01M409.5 446.7h0.01M459.8 407.0h0.01M413.4 419.8h0.01M460.9 426.8h0.01M411.2 438.6h0.01M458.3 409.2h0.01M410.5 449.9h0.01M461.2 415.0h0.01M408.4 462.0h0.01M461.4 444.4h0.01M411.6 403.4h0.01M458.5 415.0h0.01M411.6 444.4h0.01M460.6 415.0h0.01M411.8 397.9h0.01M460.0 415.0h0.01M412.0 403.4h0.01M462.0 419.8h0.01M408.4 438.6h0.01M458.5 409.2h0.01M411.8 450.2h0.01M463.2 438.6h0.01M409.6 447.9h0.01M460.6 419.8h0.01M411.4 441.8h0.01M459.9 405.7h0.01M410.2 450.2h0.01M459.8 427.5h0.01M410.2 433.8h0.01M461.3 427.0h0.01M409.9 403.4h0.01M460.2 393.4h0.01M412.3 450.2h0.01M458.3 419.8h0.01M411.3 444.8h0.01M462.0 449.4h0.01M409.9 438.6h0.01M459.4 426.8h0.01M412.5 431.7h0.01M459.4 415.0h0.01M409.3 431.4h0.01M460.5 402.0h0.01M411.9 438.6h0.01M458.7 433.8h0.01M410.0 406.5h0.01M459.9 405.7h0.01M412.6 391.6h0.01M460.5 403.4h0.01M412.7 450.6h0.01M459.1 426.8h0.01M410.1 450.2h0.01M461.6 433.8h0.01M412.9 444.4h0.01M460.5 426.8h0.01M409.5 391.6h0.01M458.8 423.4h0.01M411.1 428.5h0.01M459.2 403.4h0.01M412.5 426.8h0.01M462.6 405.7h0.01M409.3 393.2h0.01M459.6 413.8h0.01M412.5 433.8h0.01M461.5 403.4h0.01M412.5 415.0h0.01M460.0 409.2h0.01M409.0 405.7h0.01M459.7 426.8h0.01M412.4 403.4h0.01M459.6 397.1h0.01M410.1 444.4h0.01M460.4 405.7h0.01" stroke="#2c4a68" stroke-opacity="0.8" stroke-width="1.2" stroke-linecap="round" fill="none"/>
<line x1="410.90" y1="428.90" x2="460.80" y2="417.80" stroke="#000" stroke-width="0.90"/>
<circle cx="410.90" cy="428.90" r="1.4" fill="#fff" stroke="#000" stroke-width="0.8"/>
<circle cx="460.80" cy="417.80" r="1.4" fill="#fff" stroke="#000" stroke-width="0.8"/>
<text x="535.60" y="370.60" font-size="6.90" text-anchor="middle" fill="#2b2b2b" textLength="36.00" lengthAdjust="spacingAndGlyphs">Neoplastic</text>
<text x="535.60" y="378.90" font-size="6.90" text-anchor="middle" fill="#2b2b2b" textLength="30.60" lengthAdjust="spacingAndGlyphs"><tspan font-style="italic">P</tspan> = 0.001</text>
<line x1="510.00" y1="383.00" x2="560.60" y2="383.00" stroke="#8a8a8a" stroke-width="1.00"/>
<path d="M512.90 391.00 C513.73 392.52 516.48 396.82 517.90 400.10 C519.32 403.38 520.88 406.92 521.40 410.70 C521.92 414.48 521.83 418.77 521.00 422.80 C520.17 426.83 517.80 430.62 516.40 434.90 C515.00 439.18 513.35 443.95 512.60 448.50 C511.85 453.05 512.02 459.92 511.90 462.20 L508.90 462.20 C508.78 459.92 508.95 453.05 508.20 448.50 C507.45 443.95 505.80 439.18 504.40 434.90 C503.00 430.62 500.63 426.83 499.80 422.80 C498.97 418.77 498.88 414.48 499.40 410.70 C499.92 406.92 501.48 403.38 502.90 400.10 C504.32 396.82 507.07 392.52 507.90 391.00 Z" fill="#ddede3" fill-opacity="1.00"/>
<path d="M568.70 391.00 C569.33 392.02 572.00 394.32 572.50 397.10 C573.00 399.88 572.08 403.92 571.70 407.70 C571.32 411.48 570.95 415.77 570.20 419.80 C569.45 423.83 568.22 427.87 567.20 431.90 C566.18 435.93 564.83 440.47 564.10 444.00 C563.37 447.53 563.02 451.58 562.80 453.10 L557.80 453.10 C557.58 451.58 557.23 447.53 556.50 444.00 C555.77 440.47 554.42 435.93 553.40 431.90 C552.38 427.87 551.15 423.83 550.40 419.80 C549.65 415.77 549.28 411.48 548.90 407.70 C548.52 403.92 547.60 399.88 548.10 397.10 C548.60 394.32 551.27 392.02 551.90 391.00 Z" fill="#f9e5da" fill-opacity="1.00"/>
<line x1="510.40" y1="391.60" x2="560.30" y2="391.60" stroke="#9a9a9a" stroke-width="0.50"/>
<path d="M510.4 392.4L560.3 391.6M510.4 419.8L560.3 410.4M510.4 438.6L560.3 433.8M510.4 462.0L560.3 462.0M510.4 405.8L560.3 398.6M510.4 391.6L560.3 393.8M510.4 438.6L560.3 438.6M510.4 439.0L560.3 426.8M510.4 462.0L560.3 450.2M510.4 438.6L560.3 433.8M510.4 426.8L560.3 419.8M510.4 405.7L560.3 400.4M510.4 419.8L560.3 409.2M510.4 401.1L560.3 391.6M510.4 450.2L560.3 435.9M510.4 419.8L560.3 419.8M510.4 405.7L560.3 405.7M510.4 419.8L560.3 419.8M510.4 405.7L560.3 405.7M510.4 402.1L560.3 403.4M510.4 403.4L560.3 391.6M510.4 403.4L560.3 403.4M510.4 433.8L560.3 426.8M510.4 426.8L560.3 419.8M510.4 415.0L560.3 403.4M510.4 415.0L560.3 405.7M510.4 444.4L560.3 444.4M510.4 405.7L560.3 399.8M510.4 433.8L560.3 426.8M510.4 403.4L560.3 399.1M510.4 426.8L560.3 419.8M510.4 391.6L560.3 391.6M510.4 415.0L560.3 407.7M510.4 450.2L560.3 450.2M510.4 391.6L560.3 391.6M510.4 409.2L560.3 403.4M510.4 417.9L560.3 407.0M510.4 447.9L560.3 426.8M510.4 415.0L560.3 405.9M510.4 409.2L560.3 405.7M510.4 429.5L560.3 419.8M510.4 419.8L560.3 409.2M510.4 391.6L560.3 391.6M510.4 403.4L560.3 403.4M510.4 405.7L560.3 400.0M510.4 391.6L560.3 391.6M510.4 415.7L560.3 408.9M510.4 391.6L560.3 391.6M510.4 415.0L560.3 409.9M510.4 410.2L560.3 403.4" stroke="#8a8a8a" stroke-opacity="0.45" stroke-width="0.30" fill="none"/>
<line x1="510.40" y1="391.00" x2="510.40" y2="407.70" stroke="#4a5560" stroke-width="0.60"/>
<line x1="510.40" y1="430.80" x2="510.40" y2="462.00" stroke="#4a5560" stroke-width="0.60"/>
<line x1="507.25" y1="391.00" x2="513.55" y2="391.00" stroke="#34495e" stroke-width="0.80"/>
<line x1="507.25" y1="462.00" x2="513.55" y2="462.00" stroke="#34495e" stroke-width="0.80"/>
<rect x="504.10" y="407.70" width="12.60" height="23.10" fill="#9cd3b3" stroke="#333" stroke-width="0.65" rx="0.00"/>
<line x1="504.10" y1="417.20" x2="516.70" y2="417.20" stroke="#111" stroke-width="1.30"/>
<line x1="560.30" y1="391.00" x2="560.30" y2="397.40" stroke="#4a5560" stroke-width="0.60"/>
<line x1="560.30" y1="426.90" x2="560.30" y2="453.10" stroke="#4a5560" stroke-width="0.60"/>
<line x1="557.15" y1="391.00" x2="563.45" y2="391.00" stroke="#34495e" stroke-width="0.80"/>
<line x1="557.15" y1="453.10" x2="563.45" y2="453.10" stroke="#34495e" stroke-width="0.80"/>
<rect x="554.00" y="397.40" width="12.60" height="29.50" fill="#eaac8b" stroke="#333" stroke-width="0.65" rx="0.00"/>
<line x1="554.00" y1="409.20" x2="566.60" y2="409.20" stroke="#111" stroke-width="1.30"/>
<path d="M509.1 392.4h0.01M560.5 391.6h0.01M509.8 419.8h0.01M560.8 410.4h0.01M511.0 438.6h0.01M558.2 433.8h0.01M508.1 462.0h0.01M561.9 462.0h0.01M509.2 405.8h0.01M559.0 398.6h0.01M512.8 391.6h0.01M560.2 393.8h0.01M512.0 438.6h0.01M560.2 438.6h0.01M511.1 439.0h0.01M558.6 426.8h0.01M511.0 462.0h0.01M562.1 450.2h0.01M510.5 438.6h0.01M561.5 433.8h0.01M511.2 426.8h0.01M558.2 419.8h0.01M511.6 405.7h0.01M560.7 400.4h0.01M509.4 419.8h0.01M558.0 409.2h0.01M512.2 401.1h0.01M560.2 391.6h0.01M511.5 450.2h0.01M562.1 435.9h0.01M511.4 419.8h0.01M562.3 419.8h0.01M509.9 405.7h0.01M561.7 405.7h0.01M510.1 419.8h0.01M562.4 419.8h0.01M512.2 405.7h0.01M558.4 405.7h0.01M508.7 402.1h0.01M558.9 403.4h0.01M512.6 403.4h0.01M560.0 391.6h0.01M511.0 403.4h0.01M559.3 403.4h0.01M510.4 433.8h0.01M559.8 426.8h0.01M509.7 426.8h0.01M560.7 419.8h0.01M510.8 415.0h0.01M562.2 403.4h0.01M511.3 415.0h0.01M562.4 405.7h0.01M512.1 444.4h0.01M562.7 444.4h0.01M511.2 405.7h0.01M558.7 399.8h0.01M512.1 433.8h0.01M562.5 426.8h0.01M512.3 403.4h0.01M560.6 399.1h0.01M511.4 426.8h0.01M558.9 419.8h0.01M512.0 391.6h0.01M560.7 391.6h0.01M509.4 415.0h0.01M558.2 407.7h0.01M512.1 450.2h0.01M562.7 450.2h0.01M508.4 391.6h0.01M561.7 391.6h0.01M510.0 409.2h0.01M558.6 403.4h0.01M509.4 417.9h0.01M561.6 407.0h0.01M512.2 447.9h0.01M558.1 426.8h0.01M510.9 415.0h0.01M558.1 405.9h0.01M511.4 409.2h0.01M559.5 405.7h0.01M512.2 429.5h0.01M562.6 419.8h0.01M510.4 419.8h0.01M562.7 409.2h0.01M509.5 391.6h0.01M558.3 391.6h0.01M510.9 403.4h0.01M558.1 403.4h0.01M508.9 405.7h0.01M559.9 400.0h0.01M510.9 391.6h0.01M558.6 391.6h0.01M508.2 415.7h0.01M562.1 408.9h0.01M509.5 391.6h0.01M562.5 391.6h0.01M512.3 415.0h0.01M559.7 409.9h0.01M510.2 410.2h0.01M560.4 403.4h0.01" stroke="#2c4a68" stroke-opacity="0.8" stroke-width="1.2" stroke-linecap="round" fill="none"/>
<line x1="510.40" y1="418.00" x2="560.30" y2="413.00" stroke="#000" stroke-width="0.90"/>
<circle cx="510.40" cy="418.00" r="1.4" fill="#fff" stroke="#000" stroke-width="0.8"/>
<circle cx="560.30" cy="413.00" r="1.4" fill="#fff" stroke="#000" stroke-width="0.8"/>
<text x="634.50" y="370.60" font-size="6.90" text-anchor="middle" fill="#2b2b2b" textLength="19.00" lengthAdjust="spacingAndGlyphs">Other</text>
<text x="634.50" y="378.90" font-size="6.90" text-anchor="middle" fill="#2b2b2b" textLength="30.00" lengthAdjust="spacingAndGlyphs"><tspan font-style="italic">P</tspan> = 0.017</text>
<line x1="609.60" y1="383.00" x2="659.60" y2="383.00" stroke="#8a8a8a" stroke-width="1.00"/>
<path d="M618.10 391.80 C618.47 393.70 619.68 398.78 620.30 403.20 C620.92 407.62 622.17 413.27 621.80 418.30 C621.43 423.33 619.35 428.87 618.10 433.40 C616.85 437.93 615.32 441.72 614.30 445.50 C613.28 449.28 612.52 453.32 612.00 456.10 C611.48 458.88 611.33 461.18 611.20 462.20 L608.20 462.20 C608.07 461.18 607.92 458.88 607.40 456.10 C606.88 453.32 606.12 449.28 605.10 445.50 C604.08 441.72 602.55 437.93 601.30 433.40 C600.05 428.87 597.97 423.33 597.60 418.30 C597.23 413.27 598.48 407.62 599.10 403.20 C599.72 398.78 600.93 393.70 601.30 391.80 Z" fill="#ddede3" fill-opacity="1.00"/>
<path d="M671.50 391.80 C671.15 393.70 670.12 400.05 669.40 403.20 C668.68 406.35 667.32 407.68 667.20 410.70 C667.08 413.72 668.58 418.02 668.70 421.30 C668.82 424.58 668.13 427.50 667.90 430.40 C667.67 433.30 667.40 437.32 667.30 438.70 L651.30 438.70 C651.20 437.32 650.93 433.30 650.70 430.40 C650.47 427.50 649.78 424.58 649.90 421.30 C650.02 418.02 651.52 413.72 651.40 410.70 C651.28 407.68 649.92 406.35 649.20 403.20 C648.48 400.05 647.45 393.70 647.10 391.80 Z" fill="#f9e5da" fill-opacity="1.00"/>
<line x1="609.70" y1="391.80" x2="659.30" y2="391.80" stroke="#9a9a9a" stroke-width="0.50"/>
<path d="M609.7 391.8L659.3 391.8M609.7 395.0L659.3 391.8M609.7 398.0L659.3 392.0M609.7 402.0L659.3 393.0M609.7 408.0L659.3 395.0M609.7 412.0L659.3 397.0M609.7 417.0L659.3 404.0M609.7 420.0L659.3 420.0M609.7 424.0L659.3 425.0M609.7 428.0L659.3 429.0M609.7 431.0L659.3 431.0M609.7 435.0L659.3 436.0M609.7 437.0L659.3 438.0M609.7 445.0L659.3 438.0M609.7 462.0L659.3 438.0" stroke="#8a8a8a" stroke-opacity="0.45" stroke-width="0.30" fill="none"/>
<line x1="609.70" y1="391.80" x2="609.70" y2="399.40" stroke="#4a5560" stroke-width="0.60"/>
<line x1="609.70" y1="430.10" x2="609.70" y2="462.00" stroke="#4a5560" stroke-width="0.60"/>
<line x1="606.50" y1="391.80" x2="612.90" y2="391.80" stroke="#34495e" stroke-width="0.80"/>
<line x1="606.50" y1="462.00" x2="612.90" y2="462.00" stroke="#34495e" stroke-width="0.80"/>
<rect x="603.30" y="399.40" width="12.80" height="30.70" fill="#9cd3b3" stroke="#333" stroke-width="0.65" rx="0.00"/>
<line x1="603.30" y1="420.10" x2="616.10" y2="420.10" stroke="#111" stroke-width="1.30"/>
<line x1="659.30" y1="391.80" x2="659.30" y2="391.80" stroke="#4a5560" stroke-width="0.60"/>
<line x1="659.30" y1="430.40" x2="659.30" y2="438.40" stroke="#4a5560" stroke-width="0.60"/>
<line x1="656.10" y1="391.80" x2="662.50" y2="391.80" stroke="#34495e" stroke-width="0.80"/>
<line x1="656.10" y1="438.40" x2="662.50" y2="438.40" stroke="#34495e" stroke-width="0.80"/>
<rect x="652.90" y="391.80" width="12.80" height="38.60" fill="#eaac8b" stroke="#333" stroke-width="0.65" rx="0.00"/>
<line x1="652.90" y1="410.40" x2="665.70" y2="410.40" stroke="#111" stroke-width="1.30"/>
<path d="M608.9 391.8h0.01M659.4 391.8h0.01M609.3 395.0h0.01M659.6 391.8h0.01M610.1 398.0h0.01M657.9 392.0h0.01M608.1 402.0h0.01M660.4 393.0h0.01M608.9 408.0h0.01M658.4 395.0h0.01M611.3 412.0h0.01M659.2 397.0h0.01M610.8 417.0h0.01M659.2 404.0h0.01M610.1 420.0h0.01M658.2 420.0h0.01M610.1 424.0h0.01M660.5 425.0h0.01M609.8 428.0h0.01M660.1 429.0h0.01M610.2 431.0h0.01M657.9 431.0h0.01M610.5 435.0h0.01M659.6 436.0h0.01M609.1 437.0h0.01M657.8 438.0h0.01M610.9 445.0h0.01M659.2 438.0h0.01M610.4 462.0h0.01M660.5 438.0h0.01" stroke="#2c4a68" stroke-opacity="0.8" stroke-width="1.2" stroke-linecap="round" fill="none"/>
<line x1="609.70" y1="417.50" x2="659.30" y2="410.40" stroke="#000" stroke-width="0.90"/>
<circle cx="609.70" cy="417.50" r="1.4" fill="#fff" stroke="#000" stroke-width="0.8"/>
<circle cx="659.30" cy="410.40" r="1.4" fill="#fff" stroke="#000" stroke-width="0.8"/>
<text x="411.00" y="485.20" font-size="6.50" text-anchor="middle" fill="#2b2b2b" textLength="36.00" lengthAdjust="spacingAndGlyphs">Unassisted</text>
<text x="460.60" y="485.20" font-size="6.50" text-anchor="middle" fill="#2b2b2b" textLength="28.00" lengthAdjust="spacingAndGlyphs">Assisted</text>
<text x="509.60" y="485.20" font-size="6.50" text-anchor="middle" fill="#2b2b2b" textLength="36.00" lengthAdjust="spacingAndGlyphs">Unassisted</text>
<text x="560.00" y="485.20" font-size="6.50" text-anchor="middle" fill="#2b2b2b" textLength="28.00" lengthAdjust="spacingAndGlyphs">Assisted</text>
<text x="609.60" y="485.20" font-size="6.50" text-anchor="middle" fill="#2b2b2b" textLength="36.00" lengthAdjust="spacingAndGlyphs">Unassisted</text>
<text x="659.40" y="485.20" font-size="6.50" text-anchor="middle" fill="#2b2b2b" textLength="28.00" lengthAdjust="spacingAndGlyphs">Assisted</text>
<rect x="387.50" y="492.00" width="294.80" height="9.20" fill="#ececec" stroke="none" stroke-width="0.00" rx="0.00"/>
<rect x="461.30" y="501.20" width="73.40" height="9.20" fill="#b3d9c4" stroke="none" stroke-width="0.00" rx="0.00"/>
<rect x="534.70" y="501.20" width="72.80" height="9.20" fill="#f2bda3" stroke="none" stroke-width="0.00" rx="0.00"/>
<rect x="461.30" y="510.40" width="73.40" height="9.20" fill="#b3d9c4" stroke="none" stroke-width="0.00" rx="0.00"/>
<rect x="534.70" y="510.40" width="72.80" height="9.20" fill="#f2bda3" stroke="none" stroke-width="0.00" rx="0.00"/>
<rect x="461.30" y="519.60" width="73.40" height="9.00" fill="#b3d9c4" stroke="none" stroke-width="0.00" rx="0.00"/>
<rect x="534.70" y="519.60" width="72.80" height="9.00" fill="#f2bda3" stroke="none" stroke-width="0.00" rx="0.00"/>
<line x1="387.50" y1="492.00" x2="682.30" y2="492.00" stroke="#3a3a3a" stroke-width="0.80"/>
<line x1="387.50" y1="501.20" x2="682.30" y2="501.20" stroke="#3a3a3a" stroke-width="0.80"/>
<line x1="387.50" y1="510.40" x2="682.30" y2="510.40" stroke="#3a3a3a" stroke-width="0.80"/>
<line x1="387.50" y1="519.60" x2="682.30" y2="519.60" stroke="#3a3a3a" stroke-width="0.80"/>
<line x1="387.50" y1="528.60" x2="682.30" y2="528.60" stroke="#3a3a3a" stroke-width="0.80"/>
<line x1="387.50" y1="492.00" x2="387.50" y2="528.60" stroke="#3a3a3a" stroke-width="0.80"/>
<line x1="461.30" y1="492.00" x2="461.30" y2="528.60" stroke="#3a3a3a" stroke-width="0.80"/>
<line x1="534.70" y1="492.00" x2="534.70" y2="528.60" stroke="#3a3a3a" stroke-width="0.80"/>
<line x1="607.50" y1="492.00" x2="607.50" y2="528.60" stroke="#3a3a3a" stroke-width="0.80"/>
<line x1="682.30" y1="492.00" x2="682.30" y2="528.60" stroke="#3a3a3a" stroke-width="0.80"/>
<text x="424.40" y="498.90" font-size="6.90" text-anchor="middle" fill="#2b2b2b" textLength="38.38" lengthAdjust="spacingAndGlyphs">Major class</text>
<text x="498.00" y="498.90" font-size="6.90" text-anchor="middle" fill="#2b2b2b" textLength="37.54" lengthAdjust="spacingAndGlyphs">Unassisted</text>
<text x="571.10" y="498.90" font-size="6.90" text-anchor="middle" fill="#2b2b2b" textLength="28.68" lengthAdjust="spacingAndGlyphs">Assisted</text>
<text x="644.90" y="498.90" font-size="6.90" text-anchor="middle" fill="#2b2b2b" textLength="44.29" lengthAdjust="spacingAndGlyphs">Improvement</text>
<text x="424.40" y="508.10" font-size="6.90" text-anchor="middle" fill="#2b2b2b" textLength="43.86" lengthAdjust="spacingAndGlyphs">Inflammatory</text>
<text x="498.00" y="508.10" font-size="6.90" text-anchor="middle" fill="#2b2b2b" textLength="21.52" lengthAdjust="spacingAndGlyphs">47.7%</text>
<text x="571.10" y="508.10" font-size="6.90" text-anchor="middle" fill="#2b2b2b" textLength="21.52" lengthAdjust="spacingAndGlyphs">61.9%</text>
<text x="644.90" y="508.10" font-size="6.90" text-anchor="middle" fill="#2b2b2b" textLength="25.95" lengthAdjust="spacingAndGlyphs">+14.2%</text>
<text x="424.40" y="517.30" font-size="6.90" text-anchor="middle" fill="#2b2b2b" textLength="35.44" lengthAdjust="spacingAndGlyphs">Neoplastic</text>
<text x="498.00" y="517.30" font-size="6.90" text-anchor="middle" fill="#2b2b2b" textLength="21.52" lengthAdjust="spacingAndGlyphs">61.2%</text>
<text x="571.10" y="517.30" font-size="6.90" text-anchor="middle" fill="#2b2b2b" textLength="21.52" lengthAdjust="spacingAndGlyphs">69.4%</text>
<text x="644.90" y="517.30" font-size="6.90" text-anchor="middle" fill="#2b2b2b" textLength="21.73" lengthAdjust="spacingAndGlyphs">+8.2%</text>
<text x="424.40" y="526.30" font-size="6.90" text-anchor="middle" fill="#2b2b2b" textLength="18.98" lengthAdjust="spacingAndGlyphs">Other</text>
<text x="498.00" y="526.30" font-size="6.90" text-anchor="middle" fill="#2b2b2b" textLength="21.52" lengthAdjust="spacingAndGlyphs">63.0%</text>
<text x="571.10" y="526.30" font-size="6.90" text-anchor="middle" fill="#2b2b2b" textLength="21.52" lengthAdjust="spacingAndGlyphs">73.0%</text>
<text x="644.90" y="526.30" font-size="6.90" text-anchor="middle" fill="#2b2b2b" textLength="19.62" lengthAdjust="spacingAndGlyphs">+10%</text>
</svg></body></html>
